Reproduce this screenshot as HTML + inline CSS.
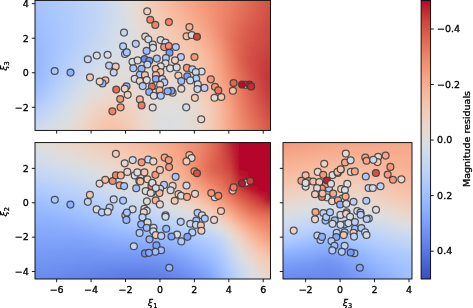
<!DOCTYPE html>
<html><head><meta charset="utf-8"><title>Magnitude residuals</title>
<style>html,body{margin:0;padding:0;background:#fff;width:473px;height:308px;overflow:hidden}svg{display:block}</style>
</head><body>
<svg width="473" height="308" viewBox="0 0 473 308" font-family="DejaVu Sans, Liberation Sans, sans-serif" font-size="9.50" fill="#000"><style>text{stroke:#000;stroke-width:0.30px}</style><defs><linearGradient id="g1" x1="0" x2="1" y1="0" y2="0"><stop offset="0.000" stop-color="#9fbfff"/><stop offset="0.041" stop-color="#a5c3fe"/><stop offset="0.081" stop-color="#aac7fd"/><stop offset="0.122" stop-color="#aec9fc"/><stop offset="0.163" stop-color="#b2ccfb"/><stop offset="0.204" stop-color="#b7cff9"/><stop offset="0.244" stop-color="#bcd2f7"/><stop offset="0.285" stop-color="#c4d5f3"/><stop offset="0.326" stop-color="#ccd9ed"/><stop offset="0.367" stop-color="#d6dce4"/><stop offset="0.407" stop-color="#e0dbd8"/><stop offset="0.448" stop-color="#ebd3c6"/><stop offset="0.489" stop-color="#f2cab5"/><stop offset="0.530" stop-color="#f6bfa6"/><stop offset="0.570" stop-color="#f7b599"/><stop offset="0.611" stop-color="#f7aa8c"/><stop offset="0.652" stop-color="#f59f80"/><stop offset="0.692" stop-color="#f39778"/><stop offset="0.733" stop-color="#f18d6f"/><stop offset="0.774" stop-color="#ee8468"/><stop offset="0.815" stop-color="#ea7b60"/><stop offset="0.855" stop-color="#e57058"/><stop offset="0.896" stop-color="#e0654f"/><stop offset="0.937" stop-color="#d95847"/><stop offset="0.978" stop-color="#d24b40"/><stop offset="1.000" stop-color="#cf453c"/></linearGradient><linearGradient id="g2" x1="0" x2="1" y1="0" y2="0"><stop offset="0.000" stop-color="#9fbfff"/><stop offset="0.041" stop-color="#a5c3fe"/><stop offset="0.081" stop-color="#a9c6fd"/><stop offset="0.122" stop-color="#adc9fd"/><stop offset="0.163" stop-color="#b1cbfc"/><stop offset="0.204" stop-color="#b6cefa"/><stop offset="0.244" stop-color="#bcd2f7"/><stop offset="0.285" stop-color="#c3d5f4"/><stop offset="0.326" stop-color="#cbd8ee"/><stop offset="0.367" stop-color="#d5dbe5"/><stop offset="0.407" stop-color="#dfdbd9"/><stop offset="0.448" stop-color="#ead4c8"/><stop offset="0.489" stop-color="#f2cab5"/><stop offset="0.530" stop-color="#f5c0a7"/><stop offset="0.570" stop-color="#f7b599"/><stop offset="0.611" stop-color="#f7aa8c"/><stop offset="0.652" stop-color="#f5a081"/><stop offset="0.692" stop-color="#f39778"/><stop offset="0.733" stop-color="#f18f71"/><stop offset="0.774" stop-color="#ee8468"/><stop offset="0.815" stop-color="#ea7b60"/><stop offset="0.855" stop-color="#e57058"/><stop offset="0.896" stop-color="#df634e"/><stop offset="0.937" stop-color="#d95847"/><stop offset="0.978" stop-color="#d24b40"/><stop offset="1.000" stop-color="#cf453c"/></linearGradient><linearGradient id="g3" x1="0" x2="1" y1="0" y2="0"><stop offset="0.000" stop-color="#9ebeff"/><stop offset="0.041" stop-color="#a3c2fe"/><stop offset="0.081" stop-color="#a7c5fe"/><stop offset="0.122" stop-color="#adc9fd"/><stop offset="0.163" stop-color="#b1cbfc"/><stop offset="0.204" stop-color="#b6cefa"/><stop offset="0.244" stop-color="#bbd1f8"/><stop offset="0.285" stop-color="#c3d5f4"/><stop offset="0.326" stop-color="#cbd8ee"/><stop offset="0.367" stop-color="#d5dbe5"/><stop offset="0.407" stop-color="#dfdbd9"/><stop offset="0.448" stop-color="#ead4c8"/><stop offset="0.489" stop-color="#f2cbb7"/><stop offset="0.530" stop-color="#f5c0a7"/><stop offset="0.570" stop-color="#f7b79b"/><stop offset="0.611" stop-color="#f7ac8e"/><stop offset="0.652" stop-color="#f6a283"/><stop offset="0.692" stop-color="#f4987a"/><stop offset="0.733" stop-color="#f18f71"/><stop offset="0.774" stop-color="#ee8468"/><stop offset="0.815" stop-color="#ea7b60"/><stop offset="0.855" stop-color="#e46e56"/><stop offset="0.896" stop-color="#df634e"/><stop offset="0.937" stop-color="#d85646"/><stop offset="0.978" stop-color="#d1493f"/><stop offset="1.000" stop-color="#cd423b"/></linearGradient><linearGradient id="g4" x1="0" x2="1" y1="0" y2="0"><stop offset="0.000" stop-color="#9ebeff"/><stop offset="0.041" stop-color="#a3c2fe"/><stop offset="0.081" stop-color="#a7c5fe"/><stop offset="0.122" stop-color="#abc8fd"/><stop offset="0.163" stop-color="#afcafc"/><stop offset="0.204" stop-color="#b5cdfa"/><stop offset="0.244" stop-color="#bbd1f8"/><stop offset="0.285" stop-color="#c1d4f4"/><stop offset="0.326" stop-color="#cad8ef"/><stop offset="0.367" stop-color="#d4dbe6"/><stop offset="0.407" stop-color="#dedcdb"/><stop offset="0.448" stop-color="#ead5c9"/><stop offset="0.489" stop-color="#f1ccb8"/><stop offset="0.530" stop-color="#f5c1a9"/><stop offset="0.570" stop-color="#f7b89c"/><stop offset="0.611" stop-color="#f7ad90"/><stop offset="0.652" stop-color="#f6a283"/><stop offset="0.692" stop-color="#f4987a"/><stop offset="0.733" stop-color="#f18f71"/><stop offset="0.774" stop-color="#ee8468"/><stop offset="0.815" stop-color="#e97a5f"/><stop offset="0.855" stop-color="#e46e56"/><stop offset="0.896" stop-color="#de614d"/><stop offset="0.937" stop-color="#d85646"/><stop offset="0.978" stop-color="#d1493f"/><stop offset="1.000" stop-color="#cd423b"/></linearGradient><linearGradient id="g5" x1="0" x2="1" y1="0" y2="0"><stop offset="0.000" stop-color="#9dbdff"/><stop offset="0.041" stop-color="#a2c1ff"/><stop offset="0.081" stop-color="#a6c4fe"/><stop offset="0.122" stop-color="#aac7fd"/><stop offset="0.163" stop-color="#afcafc"/><stop offset="0.204" stop-color="#b5cdfa"/><stop offset="0.244" stop-color="#bbd1f8"/><stop offset="0.285" stop-color="#c1d4f4"/><stop offset="0.326" stop-color="#cad8ef"/><stop offset="0.367" stop-color="#d4dbe6"/><stop offset="0.407" stop-color="#dedcdb"/><stop offset="0.448" stop-color="#e9d5cb"/><stop offset="0.489" stop-color="#f1cdba"/><stop offset="0.530" stop-color="#f5c2aa"/><stop offset="0.570" stop-color="#f7b99e"/><stop offset="0.611" stop-color="#f7af91"/><stop offset="0.652" stop-color="#f6a586"/><stop offset="0.692" stop-color="#f49a7b"/><stop offset="0.733" stop-color="#f29072"/><stop offset="0.774" stop-color="#ee8468"/><stop offset="0.815" stop-color="#e97a5f"/><stop offset="0.855" stop-color="#e36c55"/><stop offset="0.896" stop-color="#de614d"/><stop offset="0.937" stop-color="#d75445"/><stop offset="0.978" stop-color="#d0473d"/><stop offset="1.000" stop-color="#cc403a"/></linearGradient><linearGradient id="g6" x1="0" x2="1" y1="0" y2="0"><stop offset="0.000" stop-color="#9bbcff"/><stop offset="0.041" stop-color="#a1c0ff"/><stop offset="0.081" stop-color="#a6c4fe"/><stop offset="0.122" stop-color="#aac7fd"/><stop offset="0.163" stop-color="#aec9fc"/><stop offset="0.204" stop-color="#b3cdfb"/><stop offset="0.244" stop-color="#bad0f8"/><stop offset="0.285" stop-color="#c1d4f4"/><stop offset="0.326" stop-color="#cad8ef"/><stop offset="0.367" stop-color="#d4dbe6"/><stop offset="0.407" stop-color="#dddcdc"/><stop offset="0.448" stop-color="#e8d6cc"/><stop offset="0.489" stop-color="#f0cdbb"/><stop offset="0.530" stop-color="#f4c5ad"/><stop offset="0.570" stop-color="#f7ba9f"/><stop offset="0.611" stop-color="#f7b093"/><stop offset="0.652" stop-color="#f7a688"/><stop offset="0.692" stop-color="#f59c7d"/><stop offset="0.733" stop-color="#f29072"/><stop offset="0.774" stop-color="#ee8468"/><stop offset="0.815" stop-color="#e9785d"/><stop offset="0.855" stop-color="#e36b54"/><stop offset="0.896" stop-color="#dd5f4b"/><stop offset="0.937" stop-color="#d65244"/><stop offset="0.978" stop-color="#d0473d"/><stop offset="1.000" stop-color="#cc403a"/></linearGradient><linearGradient id="g7" x1="0" x2="1" y1="0" y2="0"><stop offset="0.000" stop-color="#9abbff"/><stop offset="0.041" stop-color="#9fbfff"/><stop offset="0.081" stop-color="#a5c3fe"/><stop offset="0.122" stop-color="#a9c6fd"/><stop offset="0.163" stop-color="#aec9fc"/><stop offset="0.204" stop-color="#b3cdfb"/><stop offset="0.244" stop-color="#bad0f8"/><stop offset="0.285" stop-color="#c1d4f4"/><stop offset="0.326" stop-color="#cad8ef"/><stop offset="0.367" stop-color="#d3dbe7"/><stop offset="0.407" stop-color="#dddcdc"/><stop offset="0.448" stop-color="#e8d6cc"/><stop offset="0.489" stop-color="#efcebd"/><stop offset="0.530" stop-color="#f4c6af"/><stop offset="0.570" stop-color="#f6bda2"/><stop offset="0.611" stop-color="#f7b396"/><stop offset="0.652" stop-color="#f7a889"/><stop offset="0.692" stop-color="#f59d7e"/><stop offset="0.733" stop-color="#f29274"/><stop offset="0.774" stop-color="#ee8468"/><stop offset="0.815" stop-color="#e9785d"/><stop offset="0.855" stop-color="#e26952"/><stop offset="0.896" stop-color="#dc5d4a"/><stop offset="0.937" stop-color="#d65244"/><stop offset="0.978" stop-color="#cf453c"/><stop offset="1.000" stop-color="#cb3e38"/></linearGradient><linearGradient id="g8" x1="0" x2="1" y1="0" y2="0"><stop offset="0.000" stop-color="#9abbff"/><stop offset="0.041" stop-color="#9fbfff"/><stop offset="0.081" stop-color="#a3c2fe"/><stop offset="0.122" stop-color="#a9c6fd"/><stop offset="0.163" stop-color="#aec9fc"/><stop offset="0.204" stop-color="#b3cdfb"/><stop offset="0.244" stop-color="#bad0f8"/><stop offset="0.285" stop-color="#c1d4f4"/><stop offset="0.326" stop-color="#cad8ef"/><stop offset="0.367" stop-color="#d3dbe7"/><stop offset="0.407" stop-color="#dddcdc"/><stop offset="0.448" stop-color="#e7d7ce"/><stop offset="0.489" stop-color="#efcfbf"/><stop offset="0.530" stop-color="#f3c7b1"/><stop offset="0.570" stop-color="#f6bea4"/><stop offset="0.611" stop-color="#f7b497"/><stop offset="0.652" stop-color="#f7aa8c"/><stop offset="0.692" stop-color="#f59f80"/><stop offset="0.733" stop-color="#f29274"/><stop offset="0.774" stop-color="#ee8468"/><stop offset="0.815" stop-color="#e8765c"/><stop offset="0.855" stop-color="#e26952"/><stop offset="0.896" stop-color="#da5a49"/><stop offset="0.937" stop-color="#d55042"/><stop offset="0.978" stop-color="#cf453c"/><stop offset="1.000" stop-color="#cb3e38"/></linearGradient><linearGradient id="g9" x1="0" x2="1" y1="0" y2="0"><stop offset="0.000" stop-color="#98b9ff"/><stop offset="0.041" stop-color="#9ebeff"/><stop offset="0.081" stop-color="#a3c2fe"/><stop offset="0.122" stop-color="#a7c5fe"/><stop offset="0.163" stop-color="#adc9fd"/><stop offset="0.204" stop-color="#b3cdfb"/><stop offset="0.244" stop-color="#bad0f8"/><stop offset="0.285" stop-color="#c1d4f4"/><stop offset="0.326" stop-color="#cad8ef"/><stop offset="0.367" stop-color="#d3dbe7"/><stop offset="0.407" stop-color="#dcdddd"/><stop offset="0.448" stop-color="#e6d7cf"/><stop offset="0.489" stop-color="#eed0c0"/><stop offset="0.530" stop-color="#f2c9b4"/><stop offset="0.570" stop-color="#f5c0a7"/><stop offset="0.611" stop-color="#f7b79b"/><stop offset="0.652" stop-color="#f7ac8e"/><stop offset="0.692" stop-color="#f6a283"/><stop offset="0.733" stop-color="#f39475"/><stop offset="0.774" stop-color="#ee8468"/><stop offset="0.815" stop-color="#e7745b"/><stop offset="0.855" stop-color="#e16751"/><stop offset="0.896" stop-color="#da5a49"/><stop offset="0.937" stop-color="#d44e41"/><stop offset="0.978" stop-color="#cd423b"/><stop offset="1.000" stop-color="#ca3b37"/></linearGradient><linearGradient id="g10" x1="0" x2="1" y1="0" y2="0"><stop offset="0.000" stop-color="#97b8ff"/><stop offset="0.041" stop-color="#9dbdff"/><stop offset="0.081" stop-color="#a2c1ff"/><stop offset="0.122" stop-color="#a7c5fe"/><stop offset="0.163" stop-color="#adc9fd"/><stop offset="0.204" stop-color="#b3cdfb"/><stop offset="0.244" stop-color="#bad0f8"/><stop offset="0.285" stop-color="#c3d5f4"/><stop offset="0.326" stop-color="#cad8ef"/><stop offset="0.367" stop-color="#d3dbe7"/><stop offset="0.407" stop-color="#dcdddd"/><stop offset="0.448" stop-color="#e5d8d1"/><stop offset="0.489" stop-color="#edd2c3"/><stop offset="0.530" stop-color="#f2cab5"/><stop offset="0.570" stop-color="#f5c1a9"/><stop offset="0.611" stop-color="#f7b99e"/><stop offset="0.652" stop-color="#f7af91"/><stop offset="0.692" stop-color="#f6a385"/><stop offset="0.733" stop-color="#f39577"/><stop offset="0.774" stop-color="#ee8468"/><stop offset="0.815" stop-color="#e7745b"/><stop offset="0.855" stop-color="#e0654f"/><stop offset="0.896" stop-color="#d95847"/><stop offset="0.937" stop-color="#d44e41"/><stop offset="0.978" stop-color="#cd423b"/><stop offset="1.000" stop-color="#ca3b37"/></linearGradient><linearGradient id="g11" x1="0" x2="1" y1="0" y2="0"><stop offset="0.000" stop-color="#96b7ff"/><stop offset="0.041" stop-color="#9bbcff"/><stop offset="0.081" stop-color="#a1c0ff"/><stop offset="0.122" stop-color="#a6c4fe"/><stop offset="0.163" stop-color="#adc9fd"/><stop offset="0.204" stop-color="#b3cdfb"/><stop offset="0.244" stop-color="#bad0f8"/><stop offset="0.285" stop-color="#c3d5f4"/><stop offset="0.326" stop-color="#cbd8ee"/><stop offset="0.367" stop-color="#d3dbe7"/><stop offset="0.407" stop-color="#dcdddd"/><stop offset="0.448" stop-color="#e5d8d1"/><stop offset="0.489" stop-color="#ecd3c5"/><stop offset="0.530" stop-color="#f1ccb8"/><stop offset="0.570" stop-color="#f5c4ac"/><stop offset="0.611" stop-color="#f7ba9f"/><stop offset="0.652" stop-color="#f7b194"/><stop offset="0.692" stop-color="#f7a688"/><stop offset="0.733" stop-color="#f39778"/><stop offset="0.774" stop-color="#ee8669"/><stop offset="0.815" stop-color="#e67259"/><stop offset="0.855" stop-color="#df634e"/><stop offset="0.896" stop-color="#d85646"/><stop offset="0.937" stop-color="#d24b40"/><stop offset="0.978" stop-color="#cc403a"/><stop offset="1.000" stop-color="#ca3b37"/></linearGradient><linearGradient id="g12" x1="0" x2="1" y1="0" y2="0"><stop offset="0.000" stop-color="#94b6ff"/><stop offset="0.041" stop-color="#9bbcff"/><stop offset="0.081" stop-color="#a1c0ff"/><stop offset="0.122" stop-color="#a6c4fe"/><stop offset="0.163" stop-color="#adc9fd"/><stop offset="0.204" stop-color="#b3cdfb"/><stop offset="0.244" stop-color="#bbd1f8"/><stop offset="0.285" stop-color="#c3d5f4"/><stop offset="0.326" stop-color="#cbd8ee"/><stop offset="0.367" stop-color="#d3dbe7"/><stop offset="0.407" stop-color="#dbdcde"/><stop offset="0.448" stop-color="#e4d9d2"/><stop offset="0.489" stop-color="#ebd3c6"/><stop offset="0.530" stop-color="#f1cdba"/><stop offset="0.570" stop-color="#f4c6af"/><stop offset="0.611" stop-color="#f6bda2"/><stop offset="0.652" stop-color="#f7b497"/><stop offset="0.692" stop-color="#f7a889"/><stop offset="0.733" stop-color="#f4987a"/><stop offset="0.774" stop-color="#ee8669"/><stop offset="0.815" stop-color="#e67259"/><stop offset="0.855" stop-color="#de614d"/><stop offset="0.896" stop-color="#d75445"/><stop offset="0.937" stop-color="#d1493f"/><stop offset="0.978" stop-color="#cc403a"/><stop offset="1.000" stop-color="#c83836"/></linearGradient><linearGradient id="g13" x1="0" x2="1" y1="0" y2="0"><stop offset="0.000" stop-color="#94b6ff"/><stop offset="0.041" stop-color="#9abbff"/><stop offset="0.081" stop-color="#a1c0ff"/><stop offset="0.122" stop-color="#a6c4fe"/><stop offset="0.163" stop-color="#adc9fd"/><stop offset="0.204" stop-color="#b3cdfb"/><stop offset="0.244" stop-color="#bbd1f8"/><stop offset="0.285" stop-color="#c4d5f3"/><stop offset="0.326" stop-color="#cbd8ee"/><stop offset="0.367" stop-color="#d3dbe7"/><stop offset="0.407" stop-color="#dbdcde"/><stop offset="0.448" stop-color="#e3d9d3"/><stop offset="0.489" stop-color="#ead4c8"/><stop offset="0.530" stop-color="#f0cdbb"/><stop offset="0.570" stop-color="#f3c7b1"/><stop offset="0.611" stop-color="#f6bfa6"/><stop offset="0.652" stop-color="#f7b79b"/><stop offset="0.692" stop-color="#f7aa8c"/><stop offset="0.733" stop-color="#f59c7d"/><stop offset="0.774" stop-color="#ef886b"/><stop offset="0.815" stop-color="#e67259"/><stop offset="0.855" stop-color="#de614d"/><stop offset="0.896" stop-color="#d65244"/><stop offset="0.937" stop-color="#d1493f"/><stop offset="0.978" stop-color="#cb3e38"/><stop offset="1.000" stop-color="#c83836"/></linearGradient><linearGradient id="g14" x1="0" x2="1" y1="0" y2="0"><stop offset="0.000" stop-color="#93b5fe"/><stop offset="0.041" stop-color="#9abbff"/><stop offset="0.081" stop-color="#9fbfff"/><stop offset="0.122" stop-color="#a6c4fe"/><stop offset="0.163" stop-color="#adc9fd"/><stop offset="0.204" stop-color="#b3cdfb"/><stop offset="0.244" stop-color="#bcd2f7"/><stop offset="0.285" stop-color="#c4d5f3"/><stop offset="0.326" stop-color="#ccd9ed"/><stop offset="0.367" stop-color="#d4dbe6"/><stop offset="0.407" stop-color="#dbdcde"/><stop offset="0.448" stop-color="#e3d9d3"/><stop offset="0.489" stop-color="#ead5c9"/><stop offset="0.530" stop-color="#efcfbf"/><stop offset="0.570" stop-color="#f2c9b4"/><stop offset="0.611" stop-color="#f5c1a9"/><stop offset="0.652" stop-color="#f7b89c"/><stop offset="0.692" stop-color="#f7ad90"/><stop offset="0.733" stop-color="#f59d7e"/><stop offset="0.774" stop-color="#ef886b"/><stop offset="0.815" stop-color="#e57058"/><stop offset="0.855" stop-color="#dd5f4b"/><stop offset="0.896" stop-color="#d65244"/><stop offset="0.937" stop-color="#d0473d"/><stop offset="0.978" stop-color="#cb3e38"/><stop offset="1.000" stop-color="#c73635"/></linearGradient><linearGradient id="g15" x1="0" x2="1" y1="0" y2="0"><stop offset="0.000" stop-color="#92b4fe"/><stop offset="0.041" stop-color="#98b9ff"/><stop offset="0.081" stop-color="#9fbfff"/><stop offset="0.122" stop-color="#a6c4fe"/><stop offset="0.163" stop-color="#adc9fd"/><stop offset="0.204" stop-color="#b5cdfa"/><stop offset="0.244" stop-color="#bcd2f7"/><stop offset="0.285" stop-color="#c5d6f2"/><stop offset="0.326" stop-color="#ccd9ed"/><stop offset="0.367" stop-color="#d4dbe6"/><stop offset="0.407" stop-color="#dbdcde"/><stop offset="0.448" stop-color="#e2dad5"/><stop offset="0.489" stop-color="#e9d5cb"/><stop offset="0.530" stop-color="#eed0c0"/><stop offset="0.570" stop-color="#f2cbb7"/><stop offset="0.611" stop-color="#f5c4ac"/><stop offset="0.652" stop-color="#f7ba9f"/><stop offset="0.692" stop-color="#f7b093"/><stop offset="0.733" stop-color="#f5a081"/><stop offset="0.774" stop-color="#f08b6e"/><stop offset="0.815" stop-color="#e57058"/><stop offset="0.855" stop-color="#dc5d4a"/><stop offset="0.896" stop-color="#d55042"/><stop offset="0.937" stop-color="#d0473d"/><stop offset="0.978" stop-color="#cb3e38"/><stop offset="1.000" stop-color="#c73635"/></linearGradient><linearGradient id="g16" x1="0" x2="1" y1="0" y2="0"><stop offset="0.000" stop-color="#92b4fe"/><stop offset="0.041" stop-color="#98b9ff"/><stop offset="0.081" stop-color="#9fbfff"/><stop offset="0.122" stop-color="#a6c4fe"/><stop offset="0.163" stop-color="#adc9fd"/><stop offset="0.204" stop-color="#b5cdfa"/><stop offset="0.244" stop-color="#bed2f6"/><stop offset="0.285" stop-color="#c5d6f2"/><stop offset="0.326" stop-color="#cdd9ec"/><stop offset="0.367" stop-color="#d4dbe6"/><stop offset="0.407" stop-color="#dbdcde"/><stop offset="0.448" stop-color="#e2dad5"/><stop offset="0.489" stop-color="#e8d6cc"/><stop offset="0.530" stop-color="#edd1c2"/><stop offset="0.570" stop-color="#f1ccb8"/><stop offset="0.611" stop-color="#f4c6af"/><stop offset="0.652" stop-color="#f6bda2"/><stop offset="0.692" stop-color="#f7b396"/><stop offset="0.733" stop-color="#f6a385"/><stop offset="0.774" stop-color="#f18d6f"/><stop offset="0.815" stop-color="#e67259"/><stop offset="0.855" stop-color="#dc5d4a"/><stop offset="0.896" stop-color="#d44e41"/><stop offset="0.937" stop-color="#cf453c"/><stop offset="0.978" stop-color="#ca3b37"/><stop offset="1.000" stop-color="#c53334"/></linearGradient><linearGradient id="g17" x1="0" x2="1" y1="0" y2="0"><stop offset="0.000" stop-color="#90b2fe"/><stop offset="0.041" stop-color="#97b8ff"/><stop offset="0.081" stop-color="#9ebeff"/><stop offset="0.122" stop-color="#a6c4fe"/><stop offset="0.163" stop-color="#aec9fc"/><stop offset="0.204" stop-color="#b6cefa"/><stop offset="0.244" stop-color="#bfd3f6"/><stop offset="0.285" stop-color="#c6d6f1"/><stop offset="0.326" stop-color="#cdd9ec"/><stop offset="0.367" stop-color="#d5dbe5"/><stop offset="0.407" stop-color="#dbdcde"/><stop offset="0.448" stop-color="#e1dad6"/><stop offset="0.489" stop-color="#e7d7ce"/><stop offset="0.530" stop-color="#ecd3c5"/><stop offset="0.570" stop-color="#f0cdbb"/><stop offset="0.611" stop-color="#f3c7b1"/><stop offset="0.652" stop-color="#f6bfa6"/><stop offset="0.692" stop-color="#f7b599"/><stop offset="0.733" stop-color="#f7a688"/><stop offset="0.774" stop-color="#f18f71"/><stop offset="0.815" stop-color="#e7745b"/><stop offset="0.855" stop-color="#dc5d4a"/><stop offset="0.896" stop-color="#d44e41"/><stop offset="0.937" stop-color="#cf453c"/><stop offset="0.978" stop-color="#ca3b37"/><stop offset="1.000" stop-color="#c53334"/></linearGradient><linearGradient id="g18" x1="0" x2="1" y1="0" y2="0"><stop offset="0.000" stop-color="#90b2fe"/><stop offset="0.041" stop-color="#97b8ff"/><stop offset="0.081" stop-color="#9ebeff"/><stop offset="0.122" stop-color="#a6c4fe"/><stop offset="0.163" stop-color="#aec9fc"/><stop offset="0.204" stop-color="#b7cff9"/><stop offset="0.244" stop-color="#c0d4f5"/><stop offset="0.285" stop-color="#c7d7f0"/><stop offset="0.326" stop-color="#cedaeb"/><stop offset="0.367" stop-color="#d5dbe5"/><stop offset="0.407" stop-color="#dbdcde"/><stop offset="0.448" stop-color="#e1dad6"/><stop offset="0.489" stop-color="#e7d7ce"/><stop offset="0.530" stop-color="#ebd3c6"/><stop offset="0.570" stop-color="#efcebd"/><stop offset="0.611" stop-color="#f2c9b4"/><stop offset="0.652" stop-color="#f5c1a9"/><stop offset="0.692" stop-color="#f7b89c"/><stop offset="0.733" stop-color="#f7a98b"/><stop offset="0.774" stop-color="#f29274"/><stop offset="0.815" stop-color="#e7745b"/><stop offset="0.855" stop-color="#dc5d4a"/><stop offset="0.896" stop-color="#d24b40"/><stop offset="0.937" stop-color="#cd423b"/><stop offset="0.978" stop-color="#c83836"/><stop offset="1.000" stop-color="#c43032"/></linearGradient><linearGradient id="g19" x1="0" x2="1" y1="0" y2="0"><stop offset="0.000" stop-color="#8fb1fe"/><stop offset="0.041" stop-color="#97b8ff"/><stop offset="0.081" stop-color="#9ebeff"/><stop offset="0.122" stop-color="#a7c5fe"/><stop offset="0.163" stop-color="#afcafc"/><stop offset="0.204" stop-color="#b9d0f9"/><stop offset="0.244" stop-color="#c1d4f4"/><stop offset="0.285" stop-color="#c9d7f0"/><stop offset="0.326" stop-color="#cfdaea"/><stop offset="0.367" stop-color="#d6dce4"/><stop offset="0.407" stop-color="#dbdcde"/><stop offset="0.448" stop-color="#e1dad6"/><stop offset="0.489" stop-color="#e6d7cf"/><stop offset="0.530" stop-color="#ead4c8"/><stop offset="0.570" stop-color="#eed0c0"/><stop offset="0.611" stop-color="#f2cbb7"/><stop offset="0.652" stop-color="#f5c4ac"/><stop offset="0.692" stop-color="#f7ba9f"/><stop offset="0.733" stop-color="#f7ac8e"/><stop offset="0.774" stop-color="#f39577"/><stop offset="0.815" stop-color="#e8765c"/><stop offset="0.855" stop-color="#dc5d4a"/><stop offset="0.896" stop-color="#d24b40"/><stop offset="0.937" stop-color="#cd423b"/><stop offset="0.978" stop-color="#c83836"/><stop offset="1.000" stop-color="#c43032"/></linearGradient><linearGradient id="g20" x1="0" x2="1" y1="0" y2="0"><stop offset="0.000" stop-color="#8fb1fe"/><stop offset="0.041" stop-color="#96b7ff"/><stop offset="0.081" stop-color="#9ebeff"/><stop offset="0.122" stop-color="#a7c5fe"/><stop offset="0.163" stop-color="#b1cbfc"/><stop offset="0.204" stop-color="#bad0f8"/><stop offset="0.244" stop-color="#c3d5f4"/><stop offset="0.285" stop-color="#cad8ef"/><stop offset="0.326" stop-color="#d1dae9"/><stop offset="0.367" stop-color="#d7dce3"/><stop offset="0.407" stop-color="#dcdddd"/><stop offset="0.448" stop-color="#e0dbd8"/><stop offset="0.489" stop-color="#e5d8d1"/><stop offset="0.530" stop-color="#ead5c9"/><stop offset="0.570" stop-color="#edd1c2"/><stop offset="0.611" stop-color="#f1ccb8"/><stop offset="0.652" stop-color="#f4c6af"/><stop offset="0.692" stop-color="#f7bca1"/><stop offset="0.733" stop-color="#f7ad90"/><stop offset="0.774" stop-color="#f39778"/><stop offset="0.815" stop-color="#e9785d"/><stop offset="0.855" stop-color="#dc5d4a"/><stop offset="0.896" stop-color="#d24b40"/><stop offset="0.937" stop-color="#cc403a"/><stop offset="0.978" stop-color="#c73635"/><stop offset="1.000" stop-color="#c32e31"/></linearGradient><linearGradient id="g21" x1="0" x2="1" y1="0" y2="0"><stop offset="0.000" stop-color="#8fb1fe"/><stop offset="0.041" stop-color="#96b7ff"/><stop offset="0.081" stop-color="#9fbfff"/><stop offset="0.122" stop-color="#a7c5fe"/><stop offset="0.163" stop-color="#b2ccfb"/><stop offset="0.204" stop-color="#bbd1f8"/><stop offset="0.244" stop-color="#c4d5f3"/><stop offset="0.285" stop-color="#cbd8ee"/><stop offset="0.326" stop-color="#d2dbe8"/><stop offset="0.367" stop-color="#d7dce3"/><stop offset="0.407" stop-color="#dcdddd"/><stop offset="0.448" stop-color="#e0dbd8"/><stop offset="0.489" stop-color="#e5d8d1"/><stop offset="0.530" stop-color="#e9d5cb"/><stop offset="0.570" stop-color="#edd2c3"/><stop offset="0.611" stop-color="#f0cdbb"/><stop offset="0.652" stop-color="#f3c7b1"/><stop offset="0.692" stop-color="#f6bea4"/><stop offset="0.733" stop-color="#f7b093"/><stop offset="0.774" stop-color="#f4987a"/><stop offset="0.815" stop-color="#e97a5f"/><stop offset="0.855" stop-color="#dc5d4a"/><stop offset="0.896" stop-color="#d1493f"/><stop offset="0.937" stop-color="#cb3e38"/><stop offset="0.978" stop-color="#c53334"/><stop offset="1.000" stop-color="#c12b30"/></linearGradient><linearGradient id="g22" x1="0" x2="1" y1="0" y2="0"><stop offset="0.000" stop-color="#8fb1fe"/><stop offset="0.041" stop-color="#96b7ff"/><stop offset="0.081" stop-color="#9fbfff"/><stop offset="0.122" stop-color="#a9c6fd"/><stop offset="0.163" stop-color="#b3cdfb"/><stop offset="0.204" stop-color="#bcd2f7"/><stop offset="0.244" stop-color="#c5d6f2"/><stop offset="0.285" stop-color="#cdd9ec"/><stop offset="0.326" stop-color="#d3dbe7"/><stop offset="0.367" stop-color="#d8dce2"/><stop offset="0.407" stop-color="#dddcdc"/><stop offset="0.448" stop-color="#e0dbd8"/><stop offset="0.489" stop-color="#e4d9d2"/><stop offset="0.530" stop-color="#e8d6cc"/><stop offset="0.570" stop-color="#ebd3c6"/><stop offset="0.611" stop-color="#efcebd"/><stop offset="0.652" stop-color="#f2c9b4"/><stop offset="0.692" stop-color="#f6bfa6"/><stop offset="0.733" stop-color="#f7b194"/><stop offset="0.774" stop-color="#f49a7b"/><stop offset="0.815" stop-color="#ea7b60"/><stop offset="0.855" stop-color="#dc5d4a"/><stop offset="0.896" stop-color="#d1493f"/><stop offset="0.937" stop-color="#cb3e38"/><stop offset="0.978" stop-color="#c43032"/><stop offset="1.000" stop-color="#c0282f"/></linearGradient><linearGradient id="g23" x1="0" x2="1" y1="0" y2="0"><stop offset="0.000" stop-color="#8fb1fe"/><stop offset="0.041" stop-color="#96b7ff"/><stop offset="0.081" stop-color="#9fbfff"/><stop offset="0.122" stop-color="#aac7fd"/><stop offset="0.163" stop-color="#b5cdfa"/><stop offset="0.204" stop-color="#bed2f6"/><stop offset="0.244" stop-color="#c7d7f0"/><stop offset="0.285" stop-color="#cedaeb"/><stop offset="0.326" stop-color="#d5dbe5"/><stop offset="0.367" stop-color="#d9dce1"/><stop offset="0.407" stop-color="#dddcdc"/><stop offset="0.448" stop-color="#e1dad6"/><stop offset="0.489" stop-color="#e4d9d2"/><stop offset="0.530" stop-color="#e7d7ce"/><stop offset="0.570" stop-color="#ead4c8"/><stop offset="0.611" stop-color="#eed0c0"/><stop offset="0.652" stop-color="#f2cab5"/><stop offset="0.692" stop-color="#f5c0a7"/><stop offset="0.733" stop-color="#f7b396"/><stop offset="0.774" stop-color="#f59c7d"/><stop offset="0.815" stop-color="#eb7d62"/><stop offset="0.855" stop-color="#dd5f4b"/><stop offset="0.896" stop-color="#d1493f"/><stop offset="0.937" stop-color="#ca3b37"/><stop offset="0.978" stop-color="#c32e31"/><stop offset="1.000" stop-color="#c0282f"/></linearGradient><linearGradient id="g24" x1="0" x2="1" y1="0" y2="0"><stop offset="0.000" stop-color="#8fb1fe"/><stop offset="0.041" stop-color="#96b7ff"/><stop offset="0.081" stop-color="#a1c0ff"/><stop offset="0.122" stop-color="#abc8fd"/><stop offset="0.163" stop-color="#b6cefa"/><stop offset="0.204" stop-color="#c0d4f5"/><stop offset="0.244" stop-color="#c9d7f0"/><stop offset="0.285" stop-color="#d1dae9"/><stop offset="0.326" stop-color="#d6dce4"/><stop offset="0.367" stop-color="#dadce0"/><stop offset="0.407" stop-color="#dedcdb"/><stop offset="0.448" stop-color="#e1dad6"/><stop offset="0.489" stop-color="#e3d9d3"/><stop offset="0.530" stop-color="#e6d7cf"/><stop offset="0.570" stop-color="#ead5c9"/><stop offset="0.611" stop-color="#edd1c2"/><stop offset="0.652" stop-color="#f1ccb8"/><stop offset="0.692" stop-color="#f5c1a9"/><stop offset="0.733" stop-color="#f7b396"/><stop offset="0.774" stop-color="#f59d7e"/><stop offset="0.815" stop-color="#ec7f63"/><stop offset="0.855" stop-color="#de614d"/><stop offset="0.896" stop-color="#d24b40"/><stop offset="0.937" stop-color="#ca3b37"/><stop offset="0.978" stop-color="#c32e31"/><stop offset="1.000" stop-color="#be242e"/></linearGradient><linearGradient id="g25" x1="0" x2="1" y1="0" y2="0"><stop offset="0.000" stop-color="#8fb1fe"/><stop offset="0.041" stop-color="#97b8ff"/><stop offset="0.081" stop-color="#a1c0ff"/><stop offset="0.122" stop-color="#adc9fd"/><stop offset="0.163" stop-color="#b7cff9"/><stop offset="0.204" stop-color="#c1d4f4"/><stop offset="0.244" stop-color="#cbd8ee"/><stop offset="0.285" stop-color="#d2dbe8"/><stop offset="0.326" stop-color="#d8dce2"/><stop offset="0.367" stop-color="#dcdddd"/><stop offset="0.407" stop-color="#dfdbd9"/><stop offset="0.448" stop-color="#e1dad6"/><stop offset="0.489" stop-color="#e3d9d3"/><stop offset="0.530" stop-color="#e6d7cf"/><stop offset="0.570" stop-color="#e9d5cb"/><stop offset="0.611" stop-color="#edd2c3"/><stop offset="0.652" stop-color="#f1cdba"/><stop offset="0.692" stop-color="#f5c4ac"/><stop offset="0.733" stop-color="#f7b497"/><stop offset="0.774" stop-color="#f59f80"/><stop offset="0.815" stop-color="#ec8165"/><stop offset="0.855" stop-color="#df634e"/><stop offset="0.896" stop-color="#d24b40"/><stop offset="0.937" stop-color="#ca3b37"/><stop offset="0.978" stop-color="#c12b30"/><stop offset="1.000" stop-color="#bd1f2d"/></linearGradient><linearGradient id="g26" x1="0" x2="1" y1="0" y2="0"><stop offset="0.000" stop-color="#8fb1fe"/><stop offset="0.041" stop-color="#97b8ff"/><stop offset="0.081" stop-color="#a2c1ff"/><stop offset="0.122" stop-color="#aec9fc"/><stop offset="0.163" stop-color="#bad0f8"/><stop offset="0.204" stop-color="#c4d5f3"/><stop offset="0.244" stop-color="#cdd9ec"/><stop offset="0.285" stop-color="#d4dbe6"/><stop offset="0.326" stop-color="#d9dce1"/><stop offset="0.367" stop-color="#dddcdc"/><stop offset="0.407" stop-color="#dfdbd9"/><stop offset="0.448" stop-color="#e1dad6"/><stop offset="0.489" stop-color="#e3d9d3"/><stop offset="0.530" stop-color="#e5d8d1"/><stop offset="0.570" stop-color="#e8d6cc"/><stop offset="0.611" stop-color="#ebd3c6"/><stop offset="0.652" stop-color="#f0cdbb"/><stop offset="0.692" stop-color="#f4c5ad"/><stop offset="0.733" stop-color="#f7b599"/><stop offset="0.774" stop-color="#f59f80"/><stop offset="0.815" stop-color="#ed8366"/><stop offset="0.855" stop-color="#e16751"/><stop offset="0.896" stop-color="#d44e41"/><stop offset="0.937" stop-color="#ca3b37"/><stop offset="0.978" stop-color="#c12b30"/><stop offset="1.000" stop-color="#bd1f2d"/></linearGradient><linearGradient id="g27" x1="0" x2="1" y1="0" y2="0"><stop offset="0.000" stop-color="#8fb1fe"/><stop offset="0.041" stop-color="#97b8ff"/><stop offset="0.081" stop-color="#a3c2fe"/><stop offset="0.122" stop-color="#afcafc"/><stop offset="0.163" stop-color="#bbd1f8"/><stop offset="0.204" stop-color="#c6d6f1"/><stop offset="0.244" stop-color="#cedaeb"/><stop offset="0.285" stop-color="#d6dce4"/><stop offset="0.326" stop-color="#dbdcde"/><stop offset="0.367" stop-color="#dedcdb"/><stop offset="0.407" stop-color="#e0dbd8"/><stop offset="0.448" stop-color="#e2dad5"/><stop offset="0.489" stop-color="#e3d9d3"/><stop offset="0.530" stop-color="#e4d9d2"/><stop offset="0.570" stop-color="#e7d7ce"/><stop offset="0.611" stop-color="#ead4c8"/><stop offset="0.652" stop-color="#efcebd"/><stop offset="0.692" stop-color="#f4c6af"/><stop offset="0.733" stop-color="#f7b79b"/><stop offset="0.774" stop-color="#f6a283"/><stop offset="0.815" stop-color="#ee8669"/><stop offset="0.855" stop-color="#e26952"/><stop offset="0.896" stop-color="#d55042"/><stop offset="0.937" stop-color="#ca3b37"/><stop offset="0.978" stop-color="#c0282f"/><stop offset="1.000" stop-color="#bb1b2c"/></linearGradient><linearGradient id="g28" x1="0" x2="1" y1="0" y2="0"><stop offset="0.000" stop-color="#90b2fe"/><stop offset="0.041" stop-color="#98b9ff"/><stop offset="0.081" stop-color="#a5c3fe"/><stop offset="0.122" stop-color="#b1cbfc"/><stop offset="0.163" stop-color="#bed2f6"/><stop offset="0.204" stop-color="#c9d7f0"/><stop offset="0.244" stop-color="#d1dae9"/><stop offset="0.285" stop-color="#d8dce2"/><stop offset="0.326" stop-color="#dddcdc"/><stop offset="0.367" stop-color="#e0dbd8"/><stop offset="0.407" stop-color="#e1dad6"/><stop offset="0.448" stop-color="#e2dad5"/><stop offset="0.489" stop-color="#e3d9d3"/><stop offset="0.530" stop-color="#e4d9d2"/><stop offset="0.570" stop-color="#e6d7cf"/><stop offset="0.611" stop-color="#ead5c9"/><stop offset="0.652" stop-color="#eed0c0"/><stop offset="0.692" stop-color="#f3c7b1"/><stop offset="0.733" stop-color="#f7b89c"/><stop offset="0.774" stop-color="#f6a385"/><stop offset="0.815" stop-color="#ef886b"/><stop offset="0.855" stop-color="#e36b54"/><stop offset="0.896" stop-color="#d65244"/><stop offset="0.937" stop-color="#ca3b37"/><stop offset="0.978" stop-color="#c0282f"/><stop offset="1.000" stop-color="#bb1b2c"/></linearGradient><linearGradient id="g29" x1="0" x2="1" y1="0" y2="0"><stop offset="0.000" stop-color="#92b4fe"/><stop offset="0.041" stop-color="#9abbff"/><stop offset="0.081" stop-color="#a6c4fe"/><stop offset="0.122" stop-color="#b3cdfb"/><stop offset="0.163" stop-color="#bfd3f6"/><stop offset="0.204" stop-color="#cbd8ee"/><stop offset="0.244" stop-color="#d4dbe6"/><stop offset="0.285" stop-color="#dadce0"/><stop offset="0.326" stop-color="#dfdbd9"/><stop offset="0.367" stop-color="#e1dad6"/><stop offset="0.407" stop-color="#e3d9d3"/><stop offset="0.448" stop-color="#e3d9d3"/><stop offset="0.489" stop-color="#e2dad5"/><stop offset="0.530" stop-color="#e3d9d3"/><stop offset="0.570" stop-color="#e5d8d1"/><stop offset="0.611" stop-color="#e9d5cb"/><stop offset="0.652" stop-color="#edd1c2"/><stop offset="0.692" stop-color="#f3c8b2"/><stop offset="0.733" stop-color="#f7b99e"/><stop offset="0.774" stop-color="#f6a586"/><stop offset="0.815" stop-color="#f08a6c"/><stop offset="0.855" stop-color="#e46e56"/><stop offset="0.896" stop-color="#d75445"/><stop offset="0.937" stop-color="#cb3e38"/><stop offset="0.978" stop-color="#c12b30"/><stop offset="1.000" stop-color="#bb1b2c"/></linearGradient><linearGradient id="g30" x1="0" x2="1" y1="0" y2="0"><stop offset="0.000" stop-color="#92b4fe"/><stop offset="0.041" stop-color="#9bbcff"/><stop offset="0.081" stop-color="#a7c5fe"/><stop offset="0.122" stop-color="#b5cdfa"/><stop offset="0.163" stop-color="#c1d4f4"/><stop offset="0.204" stop-color="#cdd9ec"/><stop offset="0.244" stop-color="#d6dce4"/><stop offset="0.285" stop-color="#dcdddd"/><stop offset="0.326" stop-color="#e1dad6"/><stop offset="0.367" stop-color="#e3d9d3"/><stop offset="0.407" stop-color="#e4d9d2"/><stop offset="0.448" stop-color="#e3d9d3"/><stop offset="0.489" stop-color="#e2dad5"/><stop offset="0.530" stop-color="#e2dad5"/><stop offset="0.570" stop-color="#e4d9d2"/><stop offset="0.611" stop-color="#e7d7ce"/><stop offset="0.652" stop-color="#edd2c3"/><stop offset="0.692" stop-color="#f2cab5"/><stop offset="0.733" stop-color="#f7bca1"/><stop offset="0.774" stop-color="#f7a688"/><stop offset="0.815" stop-color="#f18d6f"/><stop offset="0.855" stop-color="#e57058"/><stop offset="0.896" stop-color="#d85646"/><stop offset="0.937" stop-color="#cc403a"/><stop offset="0.978" stop-color="#c12b30"/><stop offset="1.000" stop-color="#bd1f2d"/></linearGradient><linearGradient id="g31" x1="0" x2="1" y1="0" y2="0"><stop offset="0.000" stop-color="#94b6ff"/><stop offset="0.041" stop-color="#9dbdff"/><stop offset="0.081" stop-color="#aac7fd"/><stop offset="0.122" stop-color="#b7cff9"/><stop offset="0.163" stop-color="#c4d5f3"/><stop offset="0.204" stop-color="#cfdaea"/><stop offset="0.244" stop-color="#d8dce2"/><stop offset="0.285" stop-color="#dedcdb"/><stop offset="0.326" stop-color="#e3d9d3"/><stop offset="0.367" stop-color="#e5d8d1"/><stop offset="0.407" stop-color="#e5d8d1"/><stop offset="0.448" stop-color="#e4d9d2"/><stop offset="0.489" stop-color="#e2dad5"/><stop offset="0.530" stop-color="#e2dad5"/><stop offset="0.570" stop-color="#e3d9d3"/><stop offset="0.611" stop-color="#e6d7cf"/><stop offset="0.652" stop-color="#ebd3c6"/><stop offset="0.692" stop-color="#f2cbb7"/><stop offset="0.733" stop-color="#f6bda2"/><stop offset="0.774" stop-color="#f7a98b"/><stop offset="0.815" stop-color="#f18f71"/><stop offset="0.855" stop-color="#e67259"/><stop offset="0.896" stop-color="#d95847"/><stop offset="0.937" stop-color="#cc403a"/><stop offset="0.978" stop-color="#c32e31"/><stop offset="1.000" stop-color="#bd1f2d"/></linearGradient><linearGradient id="g32" x1="0" x2="1" y1="0" y2="0"><stop offset="0.000" stop-color="#96b7ff"/><stop offset="0.041" stop-color="#9fbfff"/><stop offset="0.081" stop-color="#adc9fd"/><stop offset="0.122" stop-color="#bad0f8"/><stop offset="0.163" stop-color="#c6d6f1"/><stop offset="0.204" stop-color="#d2dbe8"/><stop offset="0.244" stop-color="#dadce0"/><stop offset="0.285" stop-color="#e1dad6"/><stop offset="0.326" stop-color="#e5d8d1"/><stop offset="0.367" stop-color="#e7d7ce"/><stop offset="0.407" stop-color="#e6d7cf"/><stop offset="0.448" stop-color="#e5d8d1"/><stop offset="0.489" stop-color="#e2dad5"/><stop offset="0.530" stop-color="#e1dad6"/><stop offset="0.570" stop-color="#e2dad5"/><stop offset="0.611" stop-color="#e5d8d1"/><stop offset="0.652" stop-color="#ead4c8"/><stop offset="0.692" stop-color="#f1cdba"/><stop offset="0.733" stop-color="#f6bfa6"/><stop offset="0.774" stop-color="#f7aa8c"/><stop offset="0.815" stop-color="#f29274"/><stop offset="0.855" stop-color="#e8765c"/><stop offset="0.896" stop-color="#da5a49"/><stop offset="0.937" stop-color="#cd423b"/><stop offset="0.978" stop-color="#c32e31"/><stop offset="1.000" stop-color="#be242e"/></linearGradient><linearGradient id="g33" x1="0" x2="1" y1="0" y2="0"><stop offset="0.000" stop-color="#98b9ff"/><stop offset="0.041" stop-color="#a2c1ff"/><stop offset="0.081" stop-color="#afcafc"/><stop offset="0.122" stop-color="#bcd2f7"/><stop offset="0.163" stop-color="#cad8ef"/><stop offset="0.204" stop-color="#d4dbe6"/><stop offset="0.244" stop-color="#dcdddd"/><stop offset="0.285" stop-color="#e3d9d3"/><stop offset="0.326" stop-color="#e7d7ce"/><stop offset="0.367" stop-color="#e9d5cb"/><stop offset="0.407" stop-color="#e8d6cc"/><stop offset="0.448" stop-color="#e5d8d1"/><stop offset="0.489" stop-color="#e3d9d3"/><stop offset="0.530" stop-color="#e1dad6"/><stop offset="0.570" stop-color="#e1dad6"/><stop offset="0.611" stop-color="#e4d9d2"/><stop offset="0.652" stop-color="#e9d5cb"/><stop offset="0.692" stop-color="#f0cdbb"/><stop offset="0.733" stop-color="#f5c1a9"/><stop offset="0.774" stop-color="#f7ad90"/><stop offset="0.815" stop-color="#f39475"/><stop offset="0.855" stop-color="#e9785d"/><stop offset="0.896" stop-color="#dc5d4a"/><stop offset="0.937" stop-color="#cf453c"/><stop offset="0.978" stop-color="#c43032"/><stop offset="1.000" stop-color="#be242e"/></linearGradient><linearGradient id="g34" x1="0" x2="1" y1="0" y2="0"><stop offset="0.000" stop-color="#9dbdff"/><stop offset="0.041" stop-color="#a5c3fe"/><stop offset="0.081" stop-color="#b2ccfb"/><stop offset="0.122" stop-color="#bfd3f6"/><stop offset="0.163" stop-color="#ccd9ed"/><stop offset="0.204" stop-color="#d6dce4"/><stop offset="0.244" stop-color="#dfdbd9"/><stop offset="0.285" stop-color="#e5d8d1"/><stop offset="0.326" stop-color="#ead5c9"/><stop offset="0.367" stop-color="#ead4c8"/><stop offset="0.407" stop-color="#e9d5cb"/><stop offset="0.448" stop-color="#e6d7cf"/><stop offset="0.489" stop-color="#e3d9d3"/><stop offset="0.530" stop-color="#e0dbd8"/><stop offset="0.570" stop-color="#e0dbd8"/><stop offset="0.611" stop-color="#e3d9d3"/><stop offset="0.652" stop-color="#e8d6cc"/><stop offset="0.692" stop-color="#efcfbf"/><stop offset="0.733" stop-color="#f5c2aa"/><stop offset="0.774" stop-color="#f7b093"/><stop offset="0.815" stop-color="#f39577"/><stop offset="0.855" stop-color="#e97a5f"/><stop offset="0.896" stop-color="#dd5f4b"/><stop offset="0.937" stop-color="#d0473d"/><stop offset="0.978" stop-color="#c53334"/><stop offset="1.000" stop-color="#c0282f"/></linearGradient><linearGradient id="g35" x1="0" x2="1" y1="0" y2="0"><stop offset="0.000" stop-color="#9fbfff"/><stop offset="0.041" stop-color="#a9c6fd"/><stop offset="0.081" stop-color="#b5cdfa"/><stop offset="0.122" stop-color="#c3d5f4"/><stop offset="0.163" stop-color="#cedaeb"/><stop offset="0.204" stop-color="#d8dce2"/><stop offset="0.244" stop-color="#e1dad6"/><stop offset="0.285" stop-color="#e8d6cc"/><stop offset="0.326" stop-color="#ebd3c6"/><stop offset="0.367" stop-color="#ecd3c5"/><stop offset="0.407" stop-color="#ead4c8"/><stop offset="0.448" stop-color="#e7d7ce"/><stop offset="0.489" stop-color="#e3d9d3"/><stop offset="0.530" stop-color="#e0dbd8"/><stop offset="0.570" stop-color="#dfdbd9"/><stop offset="0.611" stop-color="#e2dad5"/><stop offset="0.652" stop-color="#e7d7ce"/><stop offset="0.692" stop-color="#edd1c2"/><stop offset="0.733" stop-color="#f4c5ad"/><stop offset="0.774" stop-color="#f7b194"/><stop offset="0.815" stop-color="#f4987a"/><stop offset="0.855" stop-color="#ea7b60"/><stop offset="0.896" stop-color="#de614d"/><stop offset="0.937" stop-color="#d1493f"/><stop offset="0.978" stop-color="#c73635"/><stop offset="1.000" stop-color="#c12b30"/></linearGradient><linearGradient id="g36" x1="0" x2="1" y1="0" y2="0"><stop offset="0.000" stop-color="#a3c2fe"/><stop offset="0.041" stop-color="#adc9fd"/><stop offset="0.081" stop-color="#b9d0f9"/><stop offset="0.122" stop-color="#c5d6f2"/><stop offset="0.163" stop-color="#d1dae9"/><stop offset="0.204" stop-color="#dbdcde"/><stop offset="0.244" stop-color="#e3d9d3"/><stop offset="0.285" stop-color="#ead5c9"/><stop offset="0.326" stop-color="#edd2c3"/><stop offset="0.367" stop-color="#edd1c2"/><stop offset="0.407" stop-color="#ebd3c6"/><stop offset="0.448" stop-color="#e8d6cc"/><stop offset="0.489" stop-color="#e3d9d3"/><stop offset="0.530" stop-color="#dfdbd9"/><stop offset="0.570" stop-color="#dfdbd9"/><stop offset="0.611" stop-color="#e1dad6"/><stop offset="0.652" stop-color="#e5d8d1"/><stop offset="0.692" stop-color="#edd2c3"/><stop offset="0.733" stop-color="#f3c7b1"/><stop offset="0.774" stop-color="#f7b396"/><stop offset="0.815" stop-color="#f49a7b"/><stop offset="0.855" stop-color="#eb7d62"/><stop offset="0.896" stop-color="#df634e"/><stop offset="0.937" stop-color="#d24b40"/><stop offset="0.978" stop-color="#c83836"/><stop offset="1.000" stop-color="#c32e31"/></linearGradient><linearGradient id="g37" x1="0" x2="1" y1="0" y2="0"><stop offset="0.000" stop-color="#a7c5fe"/><stop offset="0.041" stop-color="#b1cbfc"/><stop offset="0.081" stop-color="#bbd1f8"/><stop offset="0.122" stop-color="#c7d7f0"/><stop offset="0.163" stop-color="#d3dbe7"/><stop offset="0.204" stop-color="#dddcdc"/><stop offset="0.244" stop-color="#e6d7cf"/><stop offset="0.285" stop-color="#ecd3c5"/><stop offset="0.326" stop-color="#efcfbf"/><stop offset="0.367" stop-color="#efcfbf"/><stop offset="0.407" stop-color="#edd2c3"/><stop offset="0.448" stop-color="#e8d6cc"/><stop offset="0.489" stop-color="#e3d9d3"/><stop offset="0.530" stop-color="#dfdbd9"/><stop offset="0.570" stop-color="#dedcdb"/><stop offset="0.611" stop-color="#e0dbd8"/><stop offset="0.652" stop-color="#e4d9d2"/><stop offset="0.692" stop-color="#ebd3c6"/><stop offset="0.733" stop-color="#f3c8b2"/><stop offset="0.774" stop-color="#f7b599"/><stop offset="0.815" stop-color="#f59c7d"/><stop offset="0.855" stop-color="#ec7f63"/><stop offset="0.896" stop-color="#e0654f"/><stop offset="0.937" stop-color="#d55042"/><stop offset="0.978" stop-color="#ca3b37"/><stop offset="1.000" stop-color="#c43032"/></linearGradient><linearGradient id="g38" x1="0" x2="1" y1="0" y2="0"><stop offset="0.000" stop-color="#abc8fd"/><stop offset="0.041" stop-color="#b5cdfa"/><stop offset="0.081" stop-color="#bfd3f6"/><stop offset="0.122" stop-color="#cad8ef"/><stop offset="0.163" stop-color="#d5dbe5"/><stop offset="0.204" stop-color="#dfdbd9"/><stop offset="0.244" stop-color="#e8d6cc"/><stop offset="0.285" stop-color="#edd1c2"/><stop offset="0.326" stop-color="#f0cdbb"/><stop offset="0.367" stop-color="#f0cdbb"/><stop offset="0.407" stop-color="#edd1c2"/><stop offset="0.448" stop-color="#e9d5cb"/><stop offset="0.489" stop-color="#e3d9d3"/><stop offset="0.530" stop-color="#dedcdb"/><stop offset="0.570" stop-color="#dddcdc"/><stop offset="0.611" stop-color="#dfdbd9"/><stop offset="0.652" stop-color="#e3d9d3"/><stop offset="0.692" stop-color="#ead4c8"/><stop offset="0.733" stop-color="#f2cab5"/><stop offset="0.774" stop-color="#f7b79b"/><stop offset="0.815" stop-color="#f59d7e"/><stop offset="0.855" stop-color="#ec8165"/><stop offset="0.896" stop-color="#e16751"/><stop offset="0.937" stop-color="#d65244"/><stop offset="0.978" stop-color="#cb3e38"/><stop offset="1.000" stop-color="#c53334"/></linearGradient><linearGradient id="g39" x1="0" x2="1" y1="0" y2="0"><stop offset="0.000" stop-color="#afcafc"/><stop offset="0.041" stop-color="#b9d0f9"/><stop offset="0.081" stop-color="#c3d5f4"/><stop offset="0.122" stop-color="#ccd9ed"/><stop offset="0.163" stop-color="#d7dce3"/><stop offset="0.204" stop-color="#e0dbd8"/><stop offset="0.244" stop-color="#ead5c9"/><stop offset="0.285" stop-color="#efcebd"/><stop offset="0.326" stop-color="#f2cbb7"/><stop offset="0.367" stop-color="#f1ccb8"/><stop offset="0.407" stop-color="#efcfbf"/><stop offset="0.448" stop-color="#ead5c9"/><stop offset="0.489" stop-color="#e3d9d3"/><stop offset="0.530" stop-color="#dedcdb"/><stop offset="0.570" stop-color="#dcdddd"/><stop offset="0.611" stop-color="#dedcdb"/><stop offset="0.652" stop-color="#e2dad5"/><stop offset="0.692" stop-color="#ead5c9"/><stop offset="0.733" stop-color="#f2cbb7"/><stop offset="0.774" stop-color="#f7b79b"/><stop offset="0.815" stop-color="#f59f80"/><stop offset="0.855" stop-color="#ed8366"/><stop offset="0.896" stop-color="#e26952"/><stop offset="0.937" stop-color="#d75445"/><stop offset="0.978" stop-color="#cc403a"/><stop offset="1.000" stop-color="#c73635"/></linearGradient><linearGradient id="g40" x1="0" x2="1" y1="0" y2="0"><stop offset="0.000" stop-color="#b3cdfb"/><stop offset="0.041" stop-color="#bcd2f7"/><stop offset="0.081" stop-color="#c5d6f2"/><stop offset="0.122" stop-color="#cfdaea"/><stop offset="0.163" stop-color="#d8dce2"/><stop offset="0.204" stop-color="#e2dad5"/><stop offset="0.244" stop-color="#ebd3c6"/><stop offset="0.285" stop-color="#f1cdba"/><stop offset="0.326" stop-color="#f2c9b4"/><stop offset="0.367" stop-color="#f2cab5"/><stop offset="0.407" stop-color="#efcebd"/><stop offset="0.448" stop-color="#ead4c8"/><stop offset="0.489" stop-color="#e3d9d3"/><stop offset="0.530" stop-color="#dddcdc"/><stop offset="0.570" stop-color="#dcdddd"/><stop offset="0.611" stop-color="#dddcdc"/><stop offset="0.652" stop-color="#e2dad5"/><stop offset="0.692" stop-color="#e9d5cb"/><stop offset="0.733" stop-color="#f2cbb7"/><stop offset="0.774" stop-color="#f7b89c"/><stop offset="0.815" stop-color="#f59f80"/><stop offset="0.855" stop-color="#ee8468"/><stop offset="0.896" stop-color="#e36c55"/><stop offset="0.937" stop-color="#d85646"/><stop offset="0.978" stop-color="#cd423b"/><stop offset="1.000" stop-color="#c83836"/></linearGradient><linearGradient id="g41" x1="0" x2="1" y1="0" y2="0"><stop offset="0.000" stop-color="#b7cff9"/><stop offset="0.041" stop-color="#c0d4f5"/><stop offset="0.081" stop-color="#c9d7f0"/><stop offset="0.122" stop-color="#d2dbe8"/><stop offset="0.163" stop-color="#dadce0"/><stop offset="0.204" stop-color="#e4d9d2"/><stop offset="0.244" stop-color="#edd2c3"/><stop offset="0.285" stop-color="#f2cbb7"/><stop offset="0.326" stop-color="#f4c6af"/><stop offset="0.367" stop-color="#f3c8b2"/><stop offset="0.407" stop-color="#f0cdbb"/><stop offset="0.448" stop-color="#ebd3c6"/><stop offset="0.489" stop-color="#e3d9d3"/><stop offset="0.530" stop-color="#dddcdc"/><stop offset="0.570" stop-color="#dbdcde"/><stop offset="0.611" stop-color="#dddcdc"/><stop offset="0.652" stop-color="#e1dad6"/><stop offset="0.692" stop-color="#e9d5cb"/><stop offset="0.733" stop-color="#f2cbb7"/><stop offset="0.774" stop-color="#f7b89c"/><stop offset="0.815" stop-color="#f5a081"/><stop offset="0.855" stop-color="#ee8669"/><stop offset="0.896" stop-color="#e46e56"/><stop offset="0.937" stop-color="#d95847"/><stop offset="0.978" stop-color="#cf453c"/><stop offset="1.000" stop-color="#ca3b37"/></linearGradient><linearGradient id="g42" x1="0" x2="1" y1="0" y2="0"><stop offset="0.000" stop-color="#bbd1f8"/><stop offset="0.041" stop-color="#c4d5f3"/><stop offset="0.081" stop-color="#ccd9ed"/><stop offset="0.122" stop-color="#d4dbe6"/><stop offset="0.163" stop-color="#dcdddd"/><stop offset="0.204" stop-color="#e5d8d1"/><stop offset="0.244" stop-color="#edd1c2"/><stop offset="0.285" stop-color="#f2c9b4"/><stop offset="0.326" stop-color="#f5c4ac"/><stop offset="0.367" stop-color="#f4c6af"/><stop offset="0.407" stop-color="#f1ccb8"/><stop offset="0.448" stop-color="#ebd3c6"/><stop offset="0.489" stop-color="#e3d9d3"/><stop offset="0.530" stop-color="#dddcdc"/><stop offset="0.570" stop-color="#dbdcde"/><stop offset="0.611" stop-color="#dcdddd"/><stop offset="0.652" stop-color="#e1dad6"/><stop offset="0.692" stop-color="#e9d5cb"/><stop offset="0.733" stop-color="#f2cbb7"/><stop offset="0.774" stop-color="#f7b89c"/><stop offset="0.815" stop-color="#f5a081"/><stop offset="0.855" stop-color="#ef886b"/><stop offset="0.896" stop-color="#e57058"/><stop offset="0.937" stop-color="#dc5d4a"/><stop offset="0.978" stop-color="#d0473d"/><stop offset="1.000" stop-color="#cb3e38"/></linearGradient><linearGradient id="g43" x1="0" x2="1" y1="0" y2="0"><stop offset="0.000" stop-color="#bfd3f6"/><stop offset="0.041" stop-color="#c7d7f0"/><stop offset="0.081" stop-color="#cedaeb"/><stop offset="0.122" stop-color="#d6dce4"/><stop offset="0.163" stop-color="#dddcdc"/><stop offset="0.204" stop-color="#e7d7ce"/><stop offset="0.244" stop-color="#efcfbf"/><stop offset="0.285" stop-color="#f3c7b1"/><stop offset="0.326" stop-color="#f5c1a9"/><stop offset="0.367" stop-color="#f4c5ad"/><stop offset="0.407" stop-color="#f2cbb7"/><stop offset="0.448" stop-color="#ecd3c5"/><stop offset="0.489" stop-color="#e4d9d2"/><stop offset="0.530" stop-color="#dcdddd"/><stop offset="0.570" stop-color="#dadce0"/><stop offset="0.611" stop-color="#dcdddd"/><stop offset="0.652" stop-color="#e1dad6"/><stop offset="0.692" stop-color="#e9d5cb"/><stop offset="0.733" stop-color="#f2cbb7"/><stop offset="0.774" stop-color="#f7b89c"/><stop offset="0.815" stop-color="#f5a081"/><stop offset="0.855" stop-color="#f08a6c"/><stop offset="0.896" stop-color="#e67259"/><stop offset="0.937" stop-color="#dd5f4b"/><stop offset="0.978" stop-color="#d24b40"/><stop offset="1.000" stop-color="#cc403a"/></linearGradient><linearGradient id="g44" x1="0" x2="1" y1="0" y2="0"><stop offset="0.000" stop-color="#c3d5f4"/><stop offset="0.041" stop-color="#cad8ef"/><stop offset="0.081" stop-color="#d1dae9"/><stop offset="0.122" stop-color="#d8dce2"/><stop offset="0.163" stop-color="#dfdbd9"/><stop offset="0.204" stop-color="#e8d6cc"/><stop offset="0.244" stop-color="#efcebd"/><stop offset="0.285" stop-color="#f4c6af"/><stop offset="0.326" stop-color="#f5c0a7"/><stop offset="0.367" stop-color="#f5c2aa"/><stop offset="0.407" stop-color="#f2cab5"/><stop offset="0.448" stop-color="#edd2c3"/><stop offset="0.489" stop-color="#e4d9d2"/><stop offset="0.530" stop-color="#dcdddd"/><stop offset="0.570" stop-color="#dadce0"/><stop offset="0.611" stop-color="#dcdddd"/><stop offset="0.652" stop-color="#e1dad6"/><stop offset="0.692" stop-color="#e9d5cb"/><stop offset="0.733" stop-color="#f2cbb7"/><stop offset="0.774" stop-color="#f7b89c"/><stop offset="0.815" stop-color="#f6a283"/><stop offset="0.855" stop-color="#f08b6e"/><stop offset="0.896" stop-color="#e7745b"/><stop offset="0.937" stop-color="#de614d"/><stop offset="0.978" stop-color="#d44e41"/><stop offset="1.000" stop-color="#cd423b"/></linearGradient><linearGradient id="g45" x1="0" x2="1" y1="0" y2="0"><stop offset="0.000" stop-color="#c5d6f2"/><stop offset="0.041" stop-color="#cdd9ec"/><stop offset="0.081" stop-color="#d4dbe6"/><stop offset="0.122" stop-color="#dadce0"/><stop offset="0.163" stop-color="#e1dad6"/><stop offset="0.204" stop-color="#e9d5cb"/><stop offset="0.244" stop-color="#f1cdba"/><stop offset="0.285" stop-color="#f4c5ad"/><stop offset="0.326" stop-color="#f6bfa6"/><stop offset="0.367" stop-color="#f5c2aa"/><stop offset="0.407" stop-color="#f2c9b4"/><stop offset="0.448" stop-color="#edd1c2"/><stop offset="0.489" stop-color="#e5d8d1"/><stop offset="0.530" stop-color="#dddcdc"/><stop offset="0.570" stop-color="#dbdcde"/><stop offset="0.611" stop-color="#dcdddd"/><stop offset="0.652" stop-color="#e1dad6"/><stop offset="0.692" stop-color="#e9d5cb"/><stop offset="0.733" stop-color="#f2cab5"/><stop offset="0.774" stop-color="#f7b89c"/><stop offset="0.815" stop-color="#f6a283"/><stop offset="0.855" stop-color="#f08b6e"/><stop offset="0.896" stop-color="#e8765c"/><stop offset="0.937" stop-color="#df634e"/><stop offset="0.978" stop-color="#d55042"/><stop offset="1.000" stop-color="#cf453c"/></linearGradient><linearGradient id="g46" x1="0" x2="1" y1="0" y2="0"><stop offset="0.000" stop-color="#c7d7f0"/><stop offset="0.041" stop-color="#cfdaea"/><stop offset="0.081" stop-color="#d6dce4"/><stop offset="0.122" stop-color="#dcdddd"/><stop offset="0.163" stop-color="#e2dad5"/><stop offset="0.204" stop-color="#ead4c8"/><stop offset="0.244" stop-color="#f1ccb8"/><stop offset="0.285" stop-color="#f5c4ac"/><stop offset="0.326" stop-color="#f6bfa6"/><stop offset="0.367" stop-color="#f5c1a9"/><stop offset="0.407" stop-color="#f2c9b4"/><stop offset="0.448" stop-color="#edd1c2"/><stop offset="0.489" stop-color="#e5d8d1"/><stop offset="0.530" stop-color="#dedcdb"/><stop offset="0.570" stop-color="#dbdcde"/><stop offset="0.611" stop-color="#dddcdc"/><stop offset="0.652" stop-color="#e2dad5"/><stop offset="0.692" stop-color="#ead5c9"/><stop offset="0.733" stop-color="#f2cab5"/><stop offset="0.774" stop-color="#f7b89c"/><stop offset="0.815" stop-color="#f6a283"/><stop offset="0.855" stop-color="#f18d6f"/><stop offset="0.896" stop-color="#e9785d"/><stop offset="0.937" stop-color="#e0654f"/><stop offset="0.978" stop-color="#d55042"/><stop offset="1.000" stop-color="#cf453c"/></linearGradient><linearGradient id="g47" x1="0" x2="1" y1="0" y2="0"><stop offset="0.000" stop-color="#cad8ef"/><stop offset="0.041" stop-color="#d2dbe8"/><stop offset="0.081" stop-color="#d7dce3"/><stop offset="0.122" stop-color="#dddcdc"/><stop offset="0.163" stop-color="#e4d9d2"/><stop offset="0.204" stop-color="#ebd3c6"/><stop offset="0.244" stop-color="#f2cbb7"/><stop offset="0.285" stop-color="#f5c4ac"/><stop offset="0.326" stop-color="#f6bfa6"/><stop offset="0.367" stop-color="#f5c1a9"/><stop offset="0.407" stop-color="#f3c8b2"/><stop offset="0.448" stop-color="#eed0c0"/><stop offset="0.489" stop-color="#e6d7cf"/><stop offset="0.530" stop-color="#dfdbd9"/><stop offset="0.570" stop-color="#dcdddd"/><stop offset="0.611" stop-color="#dedcdb"/><stop offset="0.652" stop-color="#e3d9d3"/><stop offset="0.692" stop-color="#ead4c8"/><stop offset="0.733" stop-color="#f2c9b4"/><stop offset="0.774" stop-color="#f7b89c"/><stop offset="0.815" stop-color="#f6a385"/><stop offset="0.855" stop-color="#f18d6f"/><stop offset="0.896" stop-color="#e97a5f"/><stop offset="0.937" stop-color="#e16751"/><stop offset="0.978" stop-color="#d65244"/><stop offset="1.000" stop-color="#d0473d"/></linearGradient><filter id="blur_tl" filterUnits="userSpaceOnUse" x="30.0" y="-4.6" width="245.5" height="140.0"><feGaussianBlur stdDeviation="1.30"/></filter><clipPath id="clip_tl"><rect x="35.00" y="0.40" width="235.50" height="130.00"/></clipPath><linearGradient id="g48" x1="0" x2="1" y1="0" y2="0"><stop offset="0.000" stop-color="#dfdbd9"/><stop offset="0.041" stop-color="#e3d9d3"/><stop offset="0.081" stop-color="#e7d7ce"/><stop offset="0.122" stop-color="#ead4c8"/><stop offset="0.163" stop-color="#edd1c2"/><stop offset="0.204" stop-color="#f0cdbb"/><stop offset="0.244" stop-color="#f2cbb7"/><stop offset="0.285" stop-color="#f3c7b1"/><stop offset="0.326" stop-color="#f5c2aa"/><stop offset="0.367" stop-color="#f6bea4"/><stop offset="0.407" stop-color="#f7b99e"/><stop offset="0.448" stop-color="#f7b497"/><stop offset="0.489" stop-color="#f7af91"/><stop offset="0.530" stop-color="#f7a889"/><stop offset="0.570" stop-color="#f5a081"/><stop offset="0.611" stop-color="#f4987a"/><stop offset="0.652" stop-color="#f18f71"/><stop offset="0.692" stop-color="#ec8165"/><stop offset="0.733" stop-color="#e36c55"/><stop offset="0.774" stop-color="#d55042"/><stop offset="0.815" stop-color="#bd1f2d"/><stop offset="0.855" stop-color="#b40426"/><stop offset="0.896" stop-color="#b40426"/><stop offset="0.937" stop-color="#b40426"/><stop offset="0.978" stop-color="#b40426"/><stop offset="1.000" stop-color="#b40426"/></linearGradient><linearGradient id="g49" x1="0" x2="1" y1="0" y2="0"><stop offset="0.000" stop-color="#dddcdc"/><stop offset="0.041" stop-color="#e0dbd8"/><stop offset="0.081" stop-color="#e4d9d2"/><stop offset="0.122" stop-color="#e8d6cc"/><stop offset="0.163" stop-color="#ebd3c6"/><stop offset="0.204" stop-color="#eed0c0"/><stop offset="0.244" stop-color="#f1cdba"/><stop offset="0.285" stop-color="#f2c9b4"/><stop offset="0.326" stop-color="#f4c5ad"/><stop offset="0.367" stop-color="#f5c1a9"/><stop offset="0.407" stop-color="#f7bca1"/><stop offset="0.448" stop-color="#f7b79b"/><stop offset="0.489" stop-color="#f7b194"/><stop offset="0.530" stop-color="#f7aa8c"/><stop offset="0.570" stop-color="#f6a385"/><stop offset="0.611" stop-color="#f49a7b"/><stop offset="0.652" stop-color="#f29072"/><stop offset="0.692" stop-color="#ed8366"/><stop offset="0.733" stop-color="#e46e56"/><stop offset="0.774" stop-color="#d65244"/><stop offset="0.815" stop-color="#be242e"/><stop offset="0.855" stop-color="#b40426"/><stop offset="0.896" stop-color="#b40426"/><stop offset="0.937" stop-color="#b40426"/><stop offset="0.978" stop-color="#b40426"/><stop offset="1.000" stop-color="#b40426"/></linearGradient><linearGradient id="g50" x1="0" x2="1" y1="0" y2="0"><stop offset="0.000" stop-color="#dadce0"/><stop offset="0.041" stop-color="#dedcdb"/><stop offset="0.081" stop-color="#e2dad5"/><stop offset="0.122" stop-color="#e6d7cf"/><stop offset="0.163" stop-color="#ead5c9"/><stop offset="0.204" stop-color="#edd2c3"/><stop offset="0.244" stop-color="#efcfbf"/><stop offset="0.285" stop-color="#f1ccb8"/><stop offset="0.326" stop-color="#f3c8b2"/><stop offset="0.367" stop-color="#f5c4ac"/><stop offset="0.407" stop-color="#f6bfa6"/><stop offset="0.448" stop-color="#f7b99e"/><stop offset="0.489" stop-color="#f7b396"/><stop offset="0.530" stop-color="#f7ac8e"/><stop offset="0.570" stop-color="#f6a586"/><stop offset="0.611" stop-color="#f59c7d"/><stop offset="0.652" stop-color="#f29274"/><stop offset="0.692" stop-color="#ee8468"/><stop offset="0.733" stop-color="#e46e56"/><stop offset="0.774" stop-color="#d75445"/><stop offset="0.815" stop-color="#c0282f"/><stop offset="0.855" stop-color="#b40426"/><stop offset="0.896" stop-color="#b40426"/><stop offset="0.937" stop-color="#b40426"/><stop offset="0.978" stop-color="#b40426"/><stop offset="1.000" stop-color="#b40426"/></linearGradient><linearGradient id="g51" x1="0" x2="1" y1="0" y2="0"><stop offset="0.000" stop-color="#d8dce2"/><stop offset="0.041" stop-color="#dcdddd"/><stop offset="0.081" stop-color="#dfdbd9"/><stop offset="0.122" stop-color="#e3d9d3"/><stop offset="0.163" stop-color="#e7d7ce"/><stop offset="0.204" stop-color="#ead4c8"/><stop offset="0.244" stop-color="#edd1c2"/><stop offset="0.285" stop-color="#f0cdbb"/><stop offset="0.326" stop-color="#f2cab5"/><stop offset="0.367" stop-color="#f4c6af"/><stop offset="0.407" stop-color="#f5c1a9"/><stop offset="0.448" stop-color="#f7bca1"/><stop offset="0.489" stop-color="#f7b599"/><stop offset="0.530" stop-color="#f7af91"/><stop offset="0.570" stop-color="#f7a889"/><stop offset="0.611" stop-color="#f59d7e"/><stop offset="0.652" stop-color="#f29274"/><stop offset="0.692" stop-color="#ee8468"/><stop offset="0.733" stop-color="#e46e56"/><stop offset="0.774" stop-color="#d75445"/><stop offset="0.815" stop-color="#c12b30"/><stop offset="0.855" stop-color="#b40426"/><stop offset="0.896" stop-color="#b40426"/><stop offset="0.937" stop-color="#b40426"/><stop offset="0.978" stop-color="#b40426"/><stop offset="1.000" stop-color="#b40426"/></linearGradient><linearGradient id="g52" x1="0" x2="1" y1="0" y2="0"><stop offset="0.000" stop-color="#d6dce4"/><stop offset="0.041" stop-color="#d9dce1"/><stop offset="0.081" stop-color="#dddcdc"/><stop offset="0.122" stop-color="#e1dad6"/><stop offset="0.163" stop-color="#e5d8d1"/><stop offset="0.204" stop-color="#e8d6cc"/><stop offset="0.244" stop-color="#ebd3c6"/><stop offset="0.285" stop-color="#eed0c0"/><stop offset="0.326" stop-color="#f1cdba"/><stop offset="0.367" stop-color="#f2c9b4"/><stop offset="0.407" stop-color="#f5c4ac"/><stop offset="0.448" stop-color="#f6bfa6"/><stop offset="0.489" stop-color="#f7b89c"/><stop offset="0.530" stop-color="#f7b194"/><stop offset="0.570" stop-color="#f7a98b"/><stop offset="0.611" stop-color="#f59f80"/><stop offset="0.652" stop-color="#f29274"/><stop offset="0.692" stop-color="#ed8366"/><stop offset="0.733" stop-color="#e46e56"/><stop offset="0.774" stop-color="#d75445"/><stop offset="0.815" stop-color="#c32e31"/><stop offset="0.855" stop-color="#b40426"/><stop offset="0.896" stop-color="#b40426"/><stop offset="0.937" stop-color="#b40426"/><stop offset="0.978" stop-color="#b40426"/><stop offset="1.000" stop-color="#b40426"/></linearGradient><linearGradient id="g53" x1="0" x2="1" y1="0" y2="0"><stop offset="0.000" stop-color="#d3dbe7"/><stop offset="0.041" stop-color="#d7dce3"/><stop offset="0.081" stop-color="#dadce0"/><stop offset="0.122" stop-color="#dedcdb"/><stop offset="0.163" stop-color="#e2dad5"/><stop offset="0.204" stop-color="#e6d7cf"/><stop offset="0.244" stop-color="#ead5c9"/><stop offset="0.285" stop-color="#edd2c3"/><stop offset="0.326" stop-color="#efcebd"/><stop offset="0.367" stop-color="#f2cbb7"/><stop offset="0.407" stop-color="#f3c7b1"/><stop offset="0.448" stop-color="#f5c1a9"/><stop offset="0.489" stop-color="#f7bca1"/><stop offset="0.530" stop-color="#f7b497"/><stop offset="0.570" stop-color="#f7aa8c"/><stop offset="0.611" stop-color="#f5a081"/><stop offset="0.652" stop-color="#f39475"/><stop offset="0.692" stop-color="#ec8165"/><stop offset="0.733" stop-color="#e36c55"/><stop offset="0.774" stop-color="#d75445"/><stop offset="0.815" stop-color="#c43032"/><stop offset="0.855" stop-color="#b40426"/><stop offset="0.896" stop-color="#b40426"/><stop offset="0.937" stop-color="#b40426"/><stop offset="0.978" stop-color="#b40426"/><stop offset="1.000" stop-color="#b40426"/></linearGradient><linearGradient id="g54" x1="0" x2="1" y1="0" y2="0"><stop offset="0.000" stop-color="#d1dae9"/><stop offset="0.041" stop-color="#d4dbe6"/><stop offset="0.081" stop-color="#d8dce2"/><stop offset="0.122" stop-color="#dbdcde"/><stop offset="0.163" stop-color="#dfdbd9"/><stop offset="0.204" stop-color="#e3d9d3"/><stop offset="0.244" stop-color="#e7d7ce"/><stop offset="0.285" stop-color="#ead4c8"/><stop offset="0.326" stop-color="#edd1c2"/><stop offset="0.367" stop-color="#f0cdbb"/><stop offset="0.407" stop-color="#f2c9b4"/><stop offset="0.448" stop-color="#f5c4ac"/><stop offset="0.489" stop-color="#f6bea4"/><stop offset="0.530" stop-color="#f7b79b"/><stop offset="0.570" stop-color="#f7ad90"/><stop offset="0.611" stop-color="#f6a283"/><stop offset="0.652" stop-color="#f39475"/><stop offset="0.692" stop-color="#ec8165"/><stop offset="0.733" stop-color="#e36b54"/><stop offset="0.774" stop-color="#d75445"/><stop offset="0.815" stop-color="#c53334"/><stop offset="0.855" stop-color="#b40426"/><stop offset="0.896" stop-color="#b40426"/><stop offset="0.937" stop-color="#b40426"/><stop offset="0.978" stop-color="#b40426"/><stop offset="1.000" stop-color="#b40426"/></linearGradient><linearGradient id="g55" x1="0" x2="1" y1="0" y2="0"><stop offset="0.000" stop-color="#cedaeb"/><stop offset="0.041" stop-color="#d2dbe8"/><stop offset="0.081" stop-color="#d5dbe5"/><stop offset="0.122" stop-color="#d9dce1"/><stop offset="0.163" stop-color="#dcdddd"/><stop offset="0.204" stop-color="#e0dbd8"/><stop offset="0.244" stop-color="#e4d9d2"/><stop offset="0.285" stop-color="#e8d6cc"/><stop offset="0.326" stop-color="#ebd3c6"/><stop offset="0.367" stop-color="#efcfbf"/><stop offset="0.407" stop-color="#f1ccb8"/><stop offset="0.448" stop-color="#f3c7b1"/><stop offset="0.489" stop-color="#f5c0a7"/><stop offset="0.530" stop-color="#f7b99e"/><stop offset="0.570" stop-color="#f7b093"/><stop offset="0.611" stop-color="#f6a385"/><stop offset="0.652" stop-color="#f39475"/><stop offset="0.692" stop-color="#ec7f63"/><stop offset="0.733" stop-color="#e26952"/><stop offset="0.774" stop-color="#d65244"/><stop offset="0.815" stop-color="#c73635"/><stop offset="0.855" stop-color="#b40426"/><stop offset="0.896" stop-color="#b40426"/><stop offset="0.937" stop-color="#b40426"/><stop offset="0.978" stop-color="#b40426"/><stop offset="1.000" stop-color="#b40426"/></linearGradient><linearGradient id="g56" x1="0" x2="1" y1="0" y2="0"><stop offset="0.000" stop-color="#cbd8ee"/><stop offset="0.041" stop-color="#cedaeb"/><stop offset="0.081" stop-color="#d3dbe7"/><stop offset="0.122" stop-color="#d6dce4"/><stop offset="0.163" stop-color="#dadce0"/><stop offset="0.204" stop-color="#dddcdc"/><stop offset="0.244" stop-color="#e1dad6"/><stop offset="0.285" stop-color="#e5d8d1"/><stop offset="0.326" stop-color="#ead5c9"/><stop offset="0.367" stop-color="#edd2c3"/><stop offset="0.407" stop-color="#f0cdbb"/><stop offset="0.448" stop-color="#f2c9b4"/><stop offset="0.489" stop-color="#f5c2aa"/><stop offset="0.530" stop-color="#f7bca1"/><stop offset="0.570" stop-color="#f7b194"/><stop offset="0.611" stop-color="#f6a586"/><stop offset="0.652" stop-color="#f39577"/><stop offset="0.692" stop-color="#ec7f63"/><stop offset="0.733" stop-color="#e16751"/><stop offset="0.774" stop-color="#d75445"/><stop offset="0.815" stop-color="#c83836"/><stop offset="0.855" stop-color="#b40426"/><stop offset="0.896" stop-color="#b40426"/><stop offset="0.937" stop-color="#b40426"/><stop offset="0.978" stop-color="#b40426"/><stop offset="1.000" stop-color="#b40426"/></linearGradient><linearGradient id="g57" x1="0" x2="1" y1="0" y2="0"><stop offset="0.000" stop-color="#c7d7f0"/><stop offset="0.041" stop-color="#ccd9ed"/><stop offset="0.081" stop-color="#cfdaea"/><stop offset="0.122" stop-color="#d3dbe7"/><stop offset="0.163" stop-color="#d7dce3"/><stop offset="0.204" stop-color="#dadce0"/><stop offset="0.244" stop-color="#dedcdb"/><stop offset="0.285" stop-color="#e3d9d3"/><stop offset="0.326" stop-color="#e7d7ce"/><stop offset="0.367" stop-color="#ead4c8"/><stop offset="0.407" stop-color="#eed0c0"/><stop offset="0.448" stop-color="#f1ccb8"/><stop offset="0.489" stop-color="#f4c6af"/><stop offset="0.530" stop-color="#f6bea4"/><stop offset="0.570" stop-color="#f7b497"/><stop offset="0.611" stop-color="#f7a889"/><stop offset="0.652" stop-color="#f39778"/><stop offset="0.692" stop-color="#ec7f63"/><stop offset="0.733" stop-color="#e0654f"/><stop offset="0.774" stop-color="#d75445"/><stop offset="0.815" stop-color="#cb3e38"/><stop offset="0.855" stop-color="#b40426"/><stop offset="0.896" stop-color="#b40426"/><stop offset="0.937" stop-color="#b40426"/><stop offset="0.978" stop-color="#b40426"/><stop offset="1.000" stop-color="#b40426"/></linearGradient><linearGradient id="g58" x1="0" x2="1" y1="0" y2="0"><stop offset="0.000" stop-color="#c5d6f2"/><stop offset="0.041" stop-color="#c9d7f0"/><stop offset="0.081" stop-color="#ccd9ed"/><stop offset="0.122" stop-color="#cfdaea"/><stop offset="0.163" stop-color="#d4dbe6"/><stop offset="0.204" stop-color="#d7dce3"/><stop offset="0.244" stop-color="#dbdcde"/><stop offset="0.285" stop-color="#e0dbd8"/><stop offset="0.326" stop-color="#e4d9d2"/><stop offset="0.367" stop-color="#e9d5cb"/><stop offset="0.407" stop-color="#edd2c3"/><stop offset="0.448" stop-color="#f0cdbb"/><stop offset="0.489" stop-color="#f3c8b2"/><stop offset="0.530" stop-color="#f5c0a7"/><stop offset="0.570" stop-color="#f7b79b"/><stop offset="0.611" stop-color="#f7aa8c"/><stop offset="0.652" stop-color="#f4987a"/><stop offset="0.692" stop-color="#ec8165"/><stop offset="0.733" stop-color="#e16751"/><stop offset="0.774" stop-color="#d85646"/><stop offset="0.815" stop-color="#cd423b"/><stop offset="0.855" stop-color="#b40426"/><stop offset="0.896" stop-color="#b40426"/><stop offset="0.937" stop-color="#b40426"/><stop offset="0.978" stop-color="#b40426"/><stop offset="1.000" stop-color="#b40426"/></linearGradient><linearGradient id="g59" x1="0" x2="1" y1="0" y2="0"><stop offset="0.000" stop-color="#c1d4f4"/><stop offset="0.041" stop-color="#c5d6f2"/><stop offset="0.081" stop-color="#c9d7f0"/><stop offset="0.122" stop-color="#ccd9ed"/><stop offset="0.163" stop-color="#d1dae9"/><stop offset="0.204" stop-color="#d4dbe6"/><stop offset="0.244" stop-color="#d8dce2"/><stop offset="0.285" stop-color="#dddcdc"/><stop offset="0.326" stop-color="#e1dad6"/><stop offset="0.367" stop-color="#e6d7cf"/><stop offset="0.407" stop-color="#ead4c8"/><stop offset="0.448" stop-color="#eed0c0"/><stop offset="0.489" stop-color="#f2cbb7"/><stop offset="0.530" stop-color="#f5c4ac"/><stop offset="0.570" stop-color="#f7ba9f"/><stop offset="0.611" stop-color="#f7ad90"/><stop offset="0.652" stop-color="#f59c7d"/><stop offset="0.692" stop-color="#ed8366"/><stop offset="0.733" stop-color="#e26952"/><stop offset="0.774" stop-color="#da5a49"/><stop offset="0.815" stop-color="#d0473d"/><stop offset="0.855" stop-color="#b70d28"/><stop offset="0.896" stop-color="#b40426"/><stop offset="0.937" stop-color="#b40426"/><stop offset="0.978" stop-color="#b40426"/><stop offset="1.000" stop-color="#b40426"/></linearGradient><linearGradient id="g60" x1="0" x2="1" y1="0" y2="0"><stop offset="0.000" stop-color="#bed2f6"/><stop offset="0.041" stop-color="#c1d4f4"/><stop offset="0.081" stop-color="#c5d6f2"/><stop offset="0.122" stop-color="#c9d7f0"/><stop offset="0.163" stop-color="#cdd9ec"/><stop offset="0.204" stop-color="#d1dae9"/><stop offset="0.244" stop-color="#d5dbe5"/><stop offset="0.285" stop-color="#dadce0"/><stop offset="0.326" stop-color="#dedcdb"/><stop offset="0.367" stop-color="#e3d9d3"/><stop offset="0.407" stop-color="#e8d6cc"/><stop offset="0.448" stop-color="#ecd3c5"/><stop offset="0.489" stop-color="#f0cdbb"/><stop offset="0.530" stop-color="#f3c7b1"/><stop offset="0.570" stop-color="#f6bda2"/><stop offset="0.611" stop-color="#f7b093"/><stop offset="0.652" stop-color="#f59f80"/><stop offset="0.692" stop-color="#ef886b"/><stop offset="0.733" stop-color="#e46e56"/><stop offset="0.774" stop-color="#dd5f4b"/><stop offset="0.815" stop-color="#d44e41"/><stop offset="0.855" stop-color="#b8122a"/><stop offset="0.896" stop-color="#b40426"/><stop offset="0.937" stop-color="#b40426"/><stop offset="0.978" stop-color="#b40426"/><stop offset="1.000" stop-color="#b40426"/></linearGradient><linearGradient id="g61" x1="0" x2="1" y1="0" y2="0"><stop offset="0.000" stop-color="#bad0f8"/><stop offset="0.041" stop-color="#bed2f6"/><stop offset="0.081" stop-color="#c1d4f4"/><stop offset="0.122" stop-color="#c5d6f2"/><stop offset="0.163" stop-color="#cad8ef"/><stop offset="0.204" stop-color="#cdd9ec"/><stop offset="0.244" stop-color="#d2dbe8"/><stop offset="0.285" stop-color="#d7dce3"/><stop offset="0.326" stop-color="#dbdcde"/><stop offset="0.367" stop-color="#e0dbd8"/><stop offset="0.407" stop-color="#e5d8d1"/><stop offset="0.448" stop-color="#ead5c9"/><stop offset="0.489" stop-color="#eed0c0"/><stop offset="0.530" stop-color="#f2c9b4"/><stop offset="0.570" stop-color="#f5c0a7"/><stop offset="0.611" stop-color="#f7b497"/><stop offset="0.652" stop-color="#f6a385"/><stop offset="0.692" stop-color="#f18d6f"/><stop offset="0.733" stop-color="#e8765c"/><stop offset="0.774" stop-color="#e0654f"/><stop offset="0.815" stop-color="#d55042"/><stop offset="0.855" stop-color="#bd1f2d"/><stop offset="0.896" stop-color="#b40426"/><stop offset="0.937" stop-color="#b40426"/><stop offset="0.978" stop-color="#b40426"/><stop offset="1.000" stop-color="#b40426"/></linearGradient><linearGradient id="g62" x1="0" x2="1" y1="0" y2="0"><stop offset="0.000" stop-color="#b6cefa"/><stop offset="0.041" stop-color="#bad0f8"/><stop offset="0.081" stop-color="#bed2f6"/><stop offset="0.122" stop-color="#c1d4f4"/><stop offset="0.163" stop-color="#c5d6f2"/><stop offset="0.204" stop-color="#cad8ef"/><stop offset="0.244" stop-color="#cedaeb"/><stop offset="0.285" stop-color="#d4dbe6"/><stop offset="0.326" stop-color="#d8dce2"/><stop offset="0.367" stop-color="#dddcdc"/><stop offset="0.407" stop-color="#e2dad5"/><stop offset="0.448" stop-color="#e7d7ce"/><stop offset="0.489" stop-color="#ecd3c5"/><stop offset="0.530" stop-color="#f1cdba"/><stop offset="0.570" stop-color="#f5c4ac"/><stop offset="0.611" stop-color="#f7b89c"/><stop offset="0.652" stop-color="#f7a889"/><stop offset="0.692" stop-color="#f29274"/><stop offset="0.733" stop-color="#ea7b60"/><stop offset="0.774" stop-color="#e36b54"/><stop offset="0.815" stop-color="#d75445"/><stop offset="0.855" stop-color="#c0282f"/><stop offset="0.896" stop-color="#b40426"/><stop offset="0.937" stop-color="#b40426"/><stop offset="0.978" stop-color="#b40426"/><stop offset="1.000" stop-color="#b40426"/></linearGradient><linearGradient id="g63" x1="0" x2="1" y1="0" y2="0"><stop offset="0.000" stop-color="#b2ccfb"/><stop offset="0.041" stop-color="#b5cdfa"/><stop offset="0.081" stop-color="#b9d0f9"/><stop offset="0.122" stop-color="#bed2f6"/><stop offset="0.163" stop-color="#c1d4f4"/><stop offset="0.204" stop-color="#c6d6f1"/><stop offset="0.244" stop-color="#cbd8ee"/><stop offset="0.285" stop-color="#d1dae9"/><stop offset="0.326" stop-color="#d5dbe5"/><stop offset="0.367" stop-color="#dadce0"/><stop offset="0.407" stop-color="#dfdbd9"/><stop offset="0.448" stop-color="#e4d9d2"/><stop offset="0.489" stop-color="#ead5c9"/><stop offset="0.530" stop-color="#efcfbf"/><stop offset="0.570" stop-color="#f3c7b1"/><stop offset="0.611" stop-color="#f7bca1"/><stop offset="0.652" stop-color="#f7ac8e"/><stop offset="0.692" stop-color="#f4987a"/><stop offset="0.733" stop-color="#ee8468"/><stop offset="0.774" stop-color="#e57058"/><stop offset="0.815" stop-color="#d95847"/><stop offset="0.855" stop-color="#c43032"/><stop offset="0.896" stop-color="#b40426"/><stop offset="0.937" stop-color="#b40426"/><stop offset="0.978" stop-color="#b40426"/><stop offset="1.000" stop-color="#b40426"/></linearGradient><linearGradient id="g64" x1="0" x2="1" y1="0" y2="0"><stop offset="0.000" stop-color="#aec9fc"/><stop offset="0.041" stop-color="#b1cbfc"/><stop offset="0.081" stop-color="#b5cdfa"/><stop offset="0.122" stop-color="#bad0f8"/><stop offset="0.163" stop-color="#bed2f6"/><stop offset="0.204" stop-color="#c3d5f4"/><stop offset="0.244" stop-color="#c7d7f0"/><stop offset="0.285" stop-color="#cdd9ec"/><stop offset="0.326" stop-color="#d2dbe8"/><stop offset="0.367" stop-color="#d7dce3"/><stop offset="0.407" stop-color="#dcdddd"/><stop offset="0.448" stop-color="#e1dad6"/><stop offset="0.489" stop-color="#e7d7ce"/><stop offset="0.530" stop-color="#edd2c3"/><stop offset="0.570" stop-color="#f2cbb7"/><stop offset="0.611" stop-color="#f5c0a7"/><stop offset="0.652" stop-color="#f7b194"/><stop offset="0.692" stop-color="#f5a081"/><stop offset="0.733" stop-color="#f08b6e"/><stop offset="0.774" stop-color="#e9785d"/><stop offset="0.815" stop-color="#dc5d4a"/><stop offset="0.855" stop-color="#c83836"/><stop offset="0.896" stop-color="#b70d28"/><stop offset="0.937" stop-color="#b40426"/><stop offset="0.978" stop-color="#b40426"/><stop offset="1.000" stop-color="#b40426"/></linearGradient><linearGradient id="g65" x1="0" x2="1" y1="0" y2="0"><stop offset="0.000" stop-color="#aac7fd"/><stop offset="0.041" stop-color="#adc9fd"/><stop offset="0.081" stop-color="#b1cbfc"/><stop offset="0.122" stop-color="#b6cefa"/><stop offset="0.163" stop-color="#bad0f8"/><stop offset="0.204" stop-color="#bfd3f6"/><stop offset="0.244" stop-color="#c4d5f3"/><stop offset="0.285" stop-color="#c9d7f0"/><stop offset="0.326" stop-color="#cedaeb"/><stop offset="0.367" stop-color="#d4dbe6"/><stop offset="0.407" stop-color="#d9dce1"/><stop offset="0.448" stop-color="#dedcdb"/><stop offset="0.489" stop-color="#e4d9d2"/><stop offset="0.530" stop-color="#ead5c9"/><stop offset="0.570" stop-color="#efcebd"/><stop offset="0.611" stop-color="#f4c5ad"/><stop offset="0.652" stop-color="#f7b89c"/><stop offset="0.692" stop-color="#f7a688"/><stop offset="0.733" stop-color="#f39475"/><stop offset="0.774" stop-color="#ec7f63"/><stop offset="0.815" stop-color="#e0654f"/><stop offset="0.855" stop-color="#cd423b"/><stop offset="0.896" stop-color="#bd1f2d"/><stop offset="0.937" stop-color="#b40426"/><stop offset="0.978" stop-color="#b40426"/><stop offset="1.000" stop-color="#b40426"/></linearGradient><linearGradient id="g66" x1="0" x2="1" y1="0" y2="0"><stop offset="0.000" stop-color="#a6c4fe"/><stop offset="0.041" stop-color="#a9c6fd"/><stop offset="0.081" stop-color="#adc9fd"/><stop offset="0.122" stop-color="#b2ccfb"/><stop offset="0.163" stop-color="#b6cefa"/><stop offset="0.204" stop-color="#bbd1f8"/><stop offset="0.244" stop-color="#c0d4f5"/><stop offset="0.285" stop-color="#c5d6f2"/><stop offset="0.326" stop-color="#cbd8ee"/><stop offset="0.367" stop-color="#d1dae9"/><stop offset="0.407" stop-color="#d5dbe5"/><stop offset="0.448" stop-color="#dbdcde"/><stop offset="0.489" stop-color="#e0dbd8"/><stop offset="0.530" stop-color="#e7d7ce"/><stop offset="0.570" stop-color="#edd2c3"/><stop offset="0.611" stop-color="#f2c9b4"/><stop offset="0.652" stop-color="#f6bda2"/><stop offset="0.692" stop-color="#f7ad90"/><stop offset="0.733" stop-color="#f59c7d"/><stop offset="0.774" stop-color="#ee8669"/><stop offset="0.815" stop-color="#e36c55"/><stop offset="0.855" stop-color="#d24b40"/><stop offset="0.896" stop-color="#c43032"/><stop offset="0.937" stop-color="#b70d28"/><stop offset="0.978" stop-color="#b40426"/><stop offset="1.000" stop-color="#b40426"/></linearGradient><linearGradient id="g67" x1="0" x2="1" y1="0" y2="0"><stop offset="0.000" stop-color="#a2c1ff"/><stop offset="0.041" stop-color="#a5c3fe"/><stop offset="0.081" stop-color="#a9c6fd"/><stop offset="0.122" stop-color="#aec9fc"/><stop offset="0.163" stop-color="#b2ccfb"/><stop offset="0.204" stop-color="#b7cff9"/><stop offset="0.244" stop-color="#bcd2f7"/><stop offset="0.285" stop-color="#c1d4f4"/><stop offset="0.326" stop-color="#c7d7f0"/><stop offset="0.367" stop-color="#ccd9ed"/><stop offset="0.407" stop-color="#d2dbe8"/><stop offset="0.448" stop-color="#d7dce3"/><stop offset="0.489" stop-color="#dcdddd"/><stop offset="0.530" stop-color="#e3d9d3"/><stop offset="0.570" stop-color="#ead5c9"/><stop offset="0.611" stop-color="#f0cdbb"/><stop offset="0.652" stop-color="#f5c2aa"/><stop offset="0.692" stop-color="#f7b599"/><stop offset="0.733" stop-color="#f6a385"/><stop offset="0.774" stop-color="#f18f71"/><stop offset="0.815" stop-color="#e7745b"/><stop offset="0.855" stop-color="#d85646"/><stop offset="0.896" stop-color="#cb3e38"/><stop offset="0.937" stop-color="#bd1f2d"/><stop offset="0.978" stop-color="#b40426"/><stop offset="1.000" stop-color="#b40426"/></linearGradient><linearGradient id="g68" x1="0" x2="1" y1="0" y2="0"><stop offset="0.000" stop-color="#9fbfff"/><stop offset="0.041" stop-color="#a2c1ff"/><stop offset="0.081" stop-color="#a6c4fe"/><stop offset="0.122" stop-color="#aac7fd"/><stop offset="0.163" stop-color="#aec9fc"/><stop offset="0.204" stop-color="#b3cdfb"/><stop offset="0.244" stop-color="#b9d0f9"/><stop offset="0.285" stop-color="#bed2f6"/><stop offset="0.326" stop-color="#c3d5f4"/><stop offset="0.367" stop-color="#c9d7f0"/><stop offset="0.407" stop-color="#cedaeb"/><stop offset="0.448" stop-color="#d4dbe6"/><stop offset="0.489" stop-color="#d9dce1"/><stop offset="0.530" stop-color="#dfdbd9"/><stop offset="0.570" stop-color="#e6d7cf"/><stop offset="0.611" stop-color="#edd2c3"/><stop offset="0.652" stop-color="#f2c9b4"/><stop offset="0.692" stop-color="#f7bca1"/><stop offset="0.733" stop-color="#f7ac8e"/><stop offset="0.774" stop-color="#f39778"/><stop offset="0.815" stop-color="#eb7d62"/><stop offset="0.855" stop-color="#de614d"/><stop offset="0.896" stop-color="#d0473d"/><stop offset="0.937" stop-color="#c43032"/><stop offset="0.978" stop-color="#b40426"/><stop offset="1.000" stop-color="#b40426"/></linearGradient><linearGradient id="g69" x1="0" x2="1" y1="0" y2="0"><stop offset="0.000" stop-color="#9dbdff"/><stop offset="0.041" stop-color="#9ebeff"/><stop offset="0.081" stop-color="#a2c1ff"/><stop offset="0.122" stop-color="#a6c4fe"/><stop offset="0.163" stop-color="#aac7fd"/><stop offset="0.204" stop-color="#afcafc"/><stop offset="0.244" stop-color="#b3cdfb"/><stop offset="0.285" stop-color="#bad0f8"/><stop offset="0.326" stop-color="#bfd3f6"/><stop offset="0.367" stop-color="#c5d6f2"/><stop offset="0.407" stop-color="#cad8ef"/><stop offset="0.448" stop-color="#cfdaea"/><stop offset="0.489" stop-color="#d5dbe5"/><stop offset="0.530" stop-color="#dadce0"/><stop offset="0.570" stop-color="#e1dad6"/><stop offset="0.611" stop-color="#e9d5cb"/><stop offset="0.652" stop-color="#f0cdbb"/><stop offset="0.692" stop-color="#f5c2aa"/><stop offset="0.733" stop-color="#f7b497"/><stop offset="0.774" stop-color="#f5a081"/><stop offset="0.815" stop-color="#ee8669"/><stop offset="0.855" stop-color="#e36b54"/><stop offset="0.896" stop-color="#d65244"/><stop offset="0.937" stop-color="#ca3b37"/><stop offset="0.978" stop-color="#ba162b"/><stop offset="1.000" stop-color="#b50927"/></linearGradient><linearGradient id="g70" x1="0" x2="1" y1="0" y2="0"><stop offset="0.000" stop-color="#98b9ff"/><stop offset="0.041" stop-color="#9bbcff"/><stop offset="0.081" stop-color="#9ebeff"/><stop offset="0.122" stop-color="#a2c1ff"/><stop offset="0.163" stop-color="#a6c4fe"/><stop offset="0.204" stop-color="#aac7fd"/><stop offset="0.244" stop-color="#afcafc"/><stop offset="0.285" stop-color="#b5cdfa"/><stop offset="0.326" stop-color="#bbd1f8"/><stop offset="0.367" stop-color="#c0d4f5"/><stop offset="0.407" stop-color="#c6d6f1"/><stop offset="0.448" stop-color="#cbd8ee"/><stop offset="0.489" stop-color="#d1dae9"/><stop offset="0.530" stop-color="#d6dce4"/><stop offset="0.570" stop-color="#dddcdc"/><stop offset="0.611" stop-color="#e4d9d2"/><stop offset="0.652" stop-color="#ecd3c5"/><stop offset="0.692" stop-color="#f2c9b4"/><stop offset="0.733" stop-color="#f7bca1"/><stop offset="0.774" stop-color="#f7a98b"/><stop offset="0.815" stop-color="#f29072"/><stop offset="0.855" stop-color="#e7745b"/><stop offset="0.896" stop-color="#dc5d4a"/><stop offset="0.937" stop-color="#d0473d"/><stop offset="0.978" stop-color="#c43032"/><stop offset="1.000" stop-color="#be242e"/></linearGradient><linearGradient id="g71" x1="0" x2="1" y1="0" y2="0"><stop offset="0.000" stop-color="#96b7ff"/><stop offset="0.041" stop-color="#98b9ff"/><stop offset="0.081" stop-color="#9bbcff"/><stop offset="0.122" stop-color="#9ebeff"/><stop offset="0.163" stop-color="#a2c1ff"/><stop offset="0.204" stop-color="#a6c4fe"/><stop offset="0.244" stop-color="#abc8fd"/><stop offset="0.285" stop-color="#b1cbfc"/><stop offset="0.326" stop-color="#b7cff9"/><stop offset="0.367" stop-color="#bcd2f7"/><stop offset="0.407" stop-color="#c1d4f4"/><stop offset="0.448" stop-color="#c7d7f0"/><stop offset="0.489" stop-color="#ccd9ed"/><stop offset="0.530" stop-color="#d2dbe8"/><stop offset="0.570" stop-color="#d8dce2"/><stop offset="0.611" stop-color="#dfdbd9"/><stop offset="0.652" stop-color="#e8d6cc"/><stop offset="0.692" stop-color="#efcebd"/><stop offset="0.733" stop-color="#f5c4ac"/><stop offset="0.774" stop-color="#f7b194"/><stop offset="0.815" stop-color="#f49a7b"/><stop offset="0.855" stop-color="#ec7f63"/><stop offset="0.896" stop-color="#e0654f"/><stop offset="0.937" stop-color="#d75445"/><stop offset="0.978" stop-color="#cd423b"/><stop offset="1.000" stop-color="#c83836"/></linearGradient><linearGradient id="g72" x1="0" x2="1" y1="0" y2="0"><stop offset="0.000" stop-color="#93b5fe"/><stop offset="0.041" stop-color="#96b7ff"/><stop offset="0.081" stop-color="#98b9ff"/><stop offset="0.122" stop-color="#9bbcff"/><stop offset="0.163" stop-color="#9ebeff"/><stop offset="0.204" stop-color="#a2c1ff"/><stop offset="0.244" stop-color="#a7c5fe"/><stop offset="0.285" stop-color="#adc9fd"/><stop offset="0.326" stop-color="#b2ccfb"/><stop offset="0.367" stop-color="#b9d0f9"/><stop offset="0.407" stop-color="#bed2f6"/><stop offset="0.448" stop-color="#c3d5f4"/><stop offset="0.489" stop-color="#c7d7f0"/><stop offset="0.530" stop-color="#ccd9ed"/><stop offset="0.570" stop-color="#d3dbe7"/><stop offset="0.611" stop-color="#dadce0"/><stop offset="0.652" stop-color="#e2dad5"/><stop offset="0.692" stop-color="#ead4c8"/><stop offset="0.733" stop-color="#f2cab5"/><stop offset="0.774" stop-color="#f7ba9f"/><stop offset="0.815" stop-color="#f6a385"/><stop offset="0.855" stop-color="#ef886b"/><stop offset="0.896" stop-color="#e46e56"/><stop offset="0.937" stop-color="#dd5f4b"/><stop offset="0.978" stop-color="#d65244"/><stop offset="1.000" stop-color="#d0473d"/></linearGradient><linearGradient id="g73" x1="0" x2="1" y1="0" y2="0"><stop offset="0.000" stop-color="#90b2fe"/><stop offset="0.041" stop-color="#93b5fe"/><stop offset="0.081" stop-color="#94b6ff"/><stop offset="0.122" stop-color="#97b8ff"/><stop offset="0.163" stop-color="#9bbcff"/><stop offset="0.204" stop-color="#9ebeff"/><stop offset="0.244" stop-color="#a3c2fe"/><stop offset="0.285" stop-color="#a9c6fd"/><stop offset="0.326" stop-color="#aec9fc"/><stop offset="0.367" stop-color="#b3cdfb"/><stop offset="0.407" stop-color="#b9d0f9"/><stop offset="0.448" stop-color="#bed2f6"/><stop offset="0.489" stop-color="#c1d4f4"/><stop offset="0.530" stop-color="#c7d7f0"/><stop offset="0.570" stop-color="#cdd9ec"/><stop offset="0.611" stop-color="#d4dbe6"/><stop offset="0.652" stop-color="#dcdddd"/><stop offset="0.692" stop-color="#e5d8d1"/><stop offset="0.733" stop-color="#eed0c0"/><stop offset="0.774" stop-color="#f5c2aa"/><stop offset="0.815" stop-color="#f7ad90"/><stop offset="0.855" stop-color="#f29274"/><stop offset="0.896" stop-color="#e9785d"/><stop offset="0.937" stop-color="#e36b54"/><stop offset="0.978" stop-color="#de614d"/><stop offset="1.000" stop-color="#d85646"/></linearGradient><linearGradient id="g74" x1="0" x2="1" y1="0" y2="0"><stop offset="0.000" stop-color="#8fb1fe"/><stop offset="0.041" stop-color="#90b2fe"/><stop offset="0.081" stop-color="#92b4fe"/><stop offset="0.122" stop-color="#94b6ff"/><stop offset="0.163" stop-color="#97b8ff"/><stop offset="0.204" stop-color="#9bbcff"/><stop offset="0.244" stop-color="#9fbfff"/><stop offset="0.285" stop-color="#a5c3fe"/><stop offset="0.326" stop-color="#aac7fd"/><stop offset="0.367" stop-color="#afcafc"/><stop offset="0.407" stop-color="#b5cdfa"/><stop offset="0.448" stop-color="#b9d0f9"/><stop offset="0.489" stop-color="#bcd2f7"/><stop offset="0.530" stop-color="#c1d4f4"/><stop offset="0.570" stop-color="#c7d7f0"/><stop offset="0.611" stop-color="#cedaeb"/><stop offset="0.652" stop-color="#d6dce4"/><stop offset="0.692" stop-color="#dfdbd9"/><stop offset="0.733" stop-color="#e9d5cb"/><stop offset="0.774" stop-color="#f2cab5"/><stop offset="0.815" stop-color="#f7b79b"/><stop offset="0.855" stop-color="#f59c7d"/><stop offset="0.896" stop-color="#ed8366"/><stop offset="0.937" stop-color="#e7745b"/><stop offset="0.978" stop-color="#e36b54"/><stop offset="1.000" stop-color="#de614d"/></linearGradient><linearGradient id="g75" x1="0" x2="1" y1="0" y2="0"><stop offset="0.000" stop-color="#8caffe"/><stop offset="0.041" stop-color="#8db0fe"/><stop offset="0.081" stop-color="#8fb1fe"/><stop offset="0.122" stop-color="#92b4fe"/><stop offset="0.163" stop-color="#93b5fe"/><stop offset="0.204" stop-color="#97b8ff"/><stop offset="0.244" stop-color="#9bbcff"/><stop offset="0.285" stop-color="#9fbfff"/><stop offset="0.326" stop-color="#a5c3fe"/><stop offset="0.367" stop-color="#aac7fd"/><stop offset="0.407" stop-color="#afcafc"/><stop offset="0.448" stop-color="#b3cdfb"/><stop offset="0.489" stop-color="#b7cff9"/><stop offset="0.530" stop-color="#bbd1f8"/><stop offset="0.570" stop-color="#c1d4f4"/><stop offset="0.611" stop-color="#c9d7f0"/><stop offset="0.652" stop-color="#cfdaea"/><stop offset="0.692" stop-color="#d8dce2"/><stop offset="0.733" stop-color="#e2dad5"/><stop offset="0.774" stop-color="#eed0c0"/><stop offset="0.815" stop-color="#f6bfa6"/><stop offset="0.855" stop-color="#f7a688"/><stop offset="0.896" stop-color="#f18d6f"/><stop offset="0.937" stop-color="#eb7d62"/><stop offset="0.978" stop-color="#e67259"/><stop offset="1.000" stop-color="#e26952"/></linearGradient><linearGradient id="g76" x1="0" x2="1" y1="0" y2="0"><stop offset="0.000" stop-color="#89acfd"/><stop offset="0.041" stop-color="#8badfd"/><stop offset="0.081" stop-color="#8caffe"/><stop offset="0.122" stop-color="#8db0fe"/><stop offset="0.163" stop-color="#90b2fe"/><stop offset="0.204" stop-color="#93b5fe"/><stop offset="0.244" stop-color="#97b8ff"/><stop offset="0.285" stop-color="#9bbcff"/><stop offset="0.326" stop-color="#a1c0ff"/><stop offset="0.367" stop-color="#a6c4fe"/><stop offset="0.407" stop-color="#aac7fd"/><stop offset="0.448" stop-color="#aec9fc"/><stop offset="0.489" stop-color="#b1cbfc"/><stop offset="0.530" stop-color="#b6cefa"/><stop offset="0.570" stop-color="#bbd1f8"/><stop offset="0.611" stop-color="#c1d4f4"/><stop offset="0.652" stop-color="#cad8ef"/><stop offset="0.692" stop-color="#d2dbe8"/><stop offset="0.733" stop-color="#dbdcde"/><stop offset="0.774" stop-color="#e8d6cc"/><stop offset="0.815" stop-color="#f3c7b1"/><stop offset="0.855" stop-color="#f7af91"/><stop offset="0.896" stop-color="#f39778"/><stop offset="0.937" stop-color="#ee8669"/><stop offset="0.978" stop-color="#e97a5f"/><stop offset="1.000" stop-color="#e57058"/></linearGradient><linearGradient id="g77" x1="0" x2="1" y1="0" y2="0"><stop offset="0.000" stop-color="#86a9fc"/><stop offset="0.041" stop-color="#88abfd"/><stop offset="0.081" stop-color="#89acfd"/><stop offset="0.122" stop-color="#8badfd"/><stop offset="0.163" stop-color="#8caffe"/><stop offset="0.204" stop-color="#8fb1fe"/><stop offset="0.244" stop-color="#93b5fe"/><stop offset="0.285" stop-color="#97b8ff"/><stop offset="0.326" stop-color="#9dbdff"/><stop offset="0.367" stop-color="#a1c0ff"/><stop offset="0.407" stop-color="#a5c3fe"/><stop offset="0.448" stop-color="#a9c6fd"/><stop offset="0.489" stop-color="#abc8fd"/><stop offset="0.530" stop-color="#afcafc"/><stop offset="0.570" stop-color="#b5cdfa"/><stop offset="0.611" stop-color="#bbd1f8"/><stop offset="0.652" stop-color="#c3d5f4"/><stop offset="0.692" stop-color="#cbd8ee"/><stop offset="0.733" stop-color="#d4dbe6"/><stop offset="0.774" stop-color="#e1dad6"/><stop offset="0.815" stop-color="#f0cdbb"/><stop offset="0.855" stop-color="#f7b89c"/><stop offset="0.896" stop-color="#f5a081"/><stop offset="0.937" stop-color="#f18d6f"/><stop offset="0.978" stop-color="#ec7f63"/><stop offset="1.000" stop-color="#e9785d"/></linearGradient><linearGradient id="g78" x1="0" x2="1" y1="0" y2="0"><stop offset="0.000" stop-color="#85a8fc"/><stop offset="0.041" stop-color="#86a9fc"/><stop offset="0.081" stop-color="#86a9fc"/><stop offset="0.122" stop-color="#88abfd"/><stop offset="0.163" stop-color="#89acfd"/><stop offset="0.204" stop-color="#8badfd"/><stop offset="0.244" stop-color="#8fb1fe"/><stop offset="0.285" stop-color="#93b5fe"/><stop offset="0.326" stop-color="#97b8ff"/><stop offset="0.367" stop-color="#9bbcff"/><stop offset="0.407" stop-color="#9fbfff"/><stop offset="0.448" stop-color="#a3c2fe"/><stop offset="0.489" stop-color="#a6c4fe"/><stop offset="0.530" stop-color="#a9c6fd"/><stop offset="0.570" stop-color="#aec9fc"/><stop offset="0.611" stop-color="#b5cdfa"/><stop offset="0.652" stop-color="#bcd2f7"/><stop offset="0.692" stop-color="#c4d5f3"/><stop offset="0.733" stop-color="#cdd9ec"/><stop offset="0.774" stop-color="#dadce0"/><stop offset="0.815" stop-color="#ecd3c5"/><stop offset="0.855" stop-color="#f6bfa6"/><stop offset="0.896" stop-color="#f7a889"/><stop offset="0.937" stop-color="#f39577"/><stop offset="0.978" stop-color="#ee8669"/><stop offset="1.000" stop-color="#eb7d62"/></linearGradient><linearGradient id="g79" x1="0" x2="1" y1="0" y2="0"><stop offset="0.000" stop-color="#82a6fb"/><stop offset="0.041" stop-color="#84a7fc"/><stop offset="0.081" stop-color="#84a7fc"/><stop offset="0.122" stop-color="#85a8fc"/><stop offset="0.163" stop-color="#85a8fc"/><stop offset="0.204" stop-color="#88abfd"/><stop offset="0.244" stop-color="#8badfd"/><stop offset="0.285" stop-color="#8fb1fe"/><stop offset="0.326" stop-color="#93b5fe"/><stop offset="0.367" stop-color="#97b8ff"/><stop offset="0.407" stop-color="#9abbff"/><stop offset="0.448" stop-color="#9dbdff"/><stop offset="0.489" stop-color="#9fbfff"/><stop offset="0.530" stop-color="#a3c2fe"/><stop offset="0.570" stop-color="#a7c5fe"/><stop offset="0.611" stop-color="#aec9fc"/><stop offset="0.652" stop-color="#b5cdfa"/><stop offset="0.692" stop-color="#bcd2f7"/><stop offset="0.733" stop-color="#c5d6f2"/><stop offset="0.774" stop-color="#d3dbe7"/><stop offset="0.815" stop-color="#e6d7cf"/><stop offset="0.855" stop-color="#f4c6af"/><stop offset="0.896" stop-color="#f7b093"/><stop offset="0.937" stop-color="#f59c7d"/><stop offset="0.978" stop-color="#f08b6e"/><stop offset="1.000" stop-color="#ed8366"/></linearGradient><linearGradient id="g80" x1="0" x2="1" y1="0" y2="0"><stop offset="0.000" stop-color="#81a4fb"/><stop offset="0.041" stop-color="#81a4fb"/><stop offset="0.081" stop-color="#82a6fb"/><stop offset="0.122" stop-color="#82a6fb"/><stop offset="0.163" stop-color="#82a6fb"/><stop offset="0.204" stop-color="#84a7fc"/><stop offset="0.244" stop-color="#86a9fc"/><stop offset="0.285" stop-color="#8badfd"/><stop offset="0.326" stop-color="#8fb1fe"/><stop offset="0.367" stop-color="#92b4fe"/><stop offset="0.407" stop-color="#94b6ff"/><stop offset="0.448" stop-color="#97b8ff"/><stop offset="0.489" stop-color="#9abbff"/><stop offset="0.530" stop-color="#9dbdff"/><stop offset="0.570" stop-color="#a2c1ff"/><stop offset="0.611" stop-color="#a7c5fe"/><stop offset="0.652" stop-color="#aec9fc"/><stop offset="0.692" stop-color="#b6cefa"/><stop offset="0.733" stop-color="#bfd3f6"/><stop offset="0.774" stop-color="#cbd8ee"/><stop offset="0.815" stop-color="#e0dbd8"/><stop offset="0.855" stop-color="#f1ccb8"/><stop offset="0.896" stop-color="#f7b79b"/><stop offset="0.937" stop-color="#f6a385"/><stop offset="0.978" stop-color="#f29072"/><stop offset="1.000" stop-color="#ef886b"/></linearGradient><linearGradient id="g81" x1="0" x2="1" y1="0" y2="0"><stop offset="0.000" stop-color="#7ea1fa"/><stop offset="0.041" stop-color="#80a3fa"/><stop offset="0.081" stop-color="#80a3fa"/><stop offset="0.122" stop-color="#80a3fa"/><stop offset="0.163" stop-color="#80a3fa"/><stop offset="0.204" stop-color="#81a4fb"/><stop offset="0.244" stop-color="#84a7fc"/><stop offset="0.285" stop-color="#86a9fc"/><stop offset="0.326" stop-color="#89acfd"/><stop offset="0.367" stop-color="#8db0fe"/><stop offset="0.407" stop-color="#90b2fe"/><stop offset="0.448" stop-color="#92b4fe"/><stop offset="0.489" stop-color="#94b6ff"/><stop offset="0.530" stop-color="#97b8ff"/><stop offset="0.570" stop-color="#9bbcff"/><stop offset="0.611" stop-color="#a1c0ff"/><stop offset="0.652" stop-color="#a9c6fd"/><stop offset="0.692" stop-color="#afcafc"/><stop offset="0.733" stop-color="#b7cff9"/><stop offset="0.774" stop-color="#c4d5f3"/><stop offset="0.815" stop-color="#dadce0"/><stop offset="0.855" stop-color="#eed0c0"/><stop offset="0.896" stop-color="#f6bda2"/><stop offset="0.937" stop-color="#f7a98b"/><stop offset="0.978" stop-color="#f39778"/><stop offset="1.000" stop-color="#f18f71"/></linearGradient><linearGradient id="g82" x1="0" x2="1" y1="0" y2="0"><stop offset="0.000" stop-color="#7da0f9"/><stop offset="0.041" stop-color="#7da0f9"/><stop offset="0.081" stop-color="#7da0f9"/><stop offset="0.122" stop-color="#7da0f9"/><stop offset="0.163" stop-color="#7da0f9"/><stop offset="0.204" stop-color="#7da0f9"/><stop offset="0.244" stop-color="#80a3fa"/><stop offset="0.285" stop-color="#82a6fb"/><stop offset="0.326" stop-color="#85a8fc"/><stop offset="0.367" stop-color="#88abfd"/><stop offset="0.407" stop-color="#8badfd"/><stop offset="0.448" stop-color="#8caffe"/><stop offset="0.489" stop-color="#8fb1fe"/><stop offset="0.530" stop-color="#90b2fe"/><stop offset="0.570" stop-color="#94b6ff"/><stop offset="0.611" stop-color="#9bbcff"/><stop offset="0.652" stop-color="#a2c1ff"/><stop offset="0.692" stop-color="#aac7fd"/><stop offset="0.733" stop-color="#b2ccfb"/><stop offset="0.774" stop-color="#bed2f6"/><stop offset="0.815" stop-color="#d5dbe5"/><stop offset="0.855" stop-color="#ead4c8"/><stop offset="0.896" stop-color="#f5c2aa"/><stop offset="0.937" stop-color="#f7b093"/><stop offset="0.978" stop-color="#f59d7e"/><stop offset="1.000" stop-color="#f39577"/></linearGradient><linearGradient id="g83" x1="0" x2="1" y1="0" y2="0"><stop offset="0.000" stop-color="#7b9ff9"/><stop offset="0.041" stop-color="#7b9ff9"/><stop offset="0.081" stop-color="#7b9ff9"/><stop offset="0.122" stop-color="#7b9ff9"/><stop offset="0.163" stop-color="#7a9df8"/><stop offset="0.204" stop-color="#7a9df8"/><stop offset="0.244" stop-color="#7da0f9"/><stop offset="0.285" stop-color="#80a3fa"/><stop offset="0.326" stop-color="#81a4fb"/><stop offset="0.367" stop-color="#84a7fc"/><stop offset="0.407" stop-color="#85a8fc"/><stop offset="0.448" stop-color="#86a9fc"/><stop offset="0.489" stop-color="#89acfd"/><stop offset="0.530" stop-color="#8badfd"/><stop offset="0.570" stop-color="#8fb1fe"/><stop offset="0.611" stop-color="#96b7ff"/><stop offset="0.652" stop-color="#9dbdff"/><stop offset="0.692" stop-color="#a5c3fe"/><stop offset="0.733" stop-color="#adc9fd"/><stop offset="0.774" stop-color="#b9d0f9"/><stop offset="0.815" stop-color="#d1dae9"/><stop offset="0.855" stop-color="#e7d7ce"/><stop offset="0.896" stop-color="#f3c7b1"/><stop offset="0.937" stop-color="#f7b599"/><stop offset="0.978" stop-color="#f6a586"/><stop offset="1.000" stop-color="#f59d7e"/></linearGradient><linearGradient id="g84" x1="0" x2="1" y1="0" y2="0"><stop offset="0.000" stop-color="#799cf8"/><stop offset="0.041" stop-color="#799cf8"/><stop offset="0.081" stop-color="#799cf8"/><stop offset="0.122" stop-color="#799cf8"/><stop offset="0.163" stop-color="#779af7"/><stop offset="0.204" stop-color="#799cf8"/><stop offset="0.244" stop-color="#7a9df8"/><stop offset="0.285" stop-color="#7b9ff9"/><stop offset="0.326" stop-color="#7da0f9"/><stop offset="0.367" stop-color="#80a3fa"/><stop offset="0.407" stop-color="#81a4fb"/><stop offset="0.448" stop-color="#82a6fb"/><stop offset="0.489" stop-color="#84a7fc"/><stop offset="0.530" stop-color="#85a8fc"/><stop offset="0.570" stop-color="#89acfd"/><stop offset="0.611" stop-color="#8fb1fe"/><stop offset="0.652" stop-color="#97b8ff"/><stop offset="0.692" stop-color="#9fbfff"/><stop offset="0.733" stop-color="#a7c5fe"/><stop offset="0.774" stop-color="#b5cdfa"/><stop offset="0.815" stop-color="#ccd9ed"/><stop offset="0.855" stop-color="#e3d9d3"/><stop offset="0.896" stop-color="#f1ccb8"/><stop offset="0.937" stop-color="#f7bca1"/><stop offset="0.978" stop-color="#f7ac8e"/><stop offset="1.000" stop-color="#f6a586"/></linearGradient><linearGradient id="g85" x1="0" x2="1" y1="0" y2="0"><stop offset="0.000" stop-color="#779af7"/><stop offset="0.041" stop-color="#779af7"/><stop offset="0.081" stop-color="#779af7"/><stop offset="0.122" stop-color="#7699f6"/><stop offset="0.163" stop-color="#7699f6"/><stop offset="0.204" stop-color="#7699f6"/><stop offset="0.244" stop-color="#7699f6"/><stop offset="0.285" stop-color="#779af7"/><stop offset="0.326" stop-color="#7a9df8"/><stop offset="0.367" stop-color="#7b9ff9"/><stop offset="0.407" stop-color="#7b9ff9"/><stop offset="0.448" stop-color="#7da0f9"/><stop offset="0.489" stop-color="#7ea1fa"/><stop offset="0.530" stop-color="#80a3fa"/><stop offset="0.570" stop-color="#84a7fc"/><stop offset="0.611" stop-color="#89acfd"/><stop offset="0.652" stop-color="#92b4fe"/><stop offset="0.692" stop-color="#9bbcff"/><stop offset="0.733" stop-color="#a3c2fe"/><stop offset="0.774" stop-color="#b2ccfb"/><stop offset="0.815" stop-color="#c9d7f0"/><stop offset="0.855" stop-color="#dfdbd9"/><stop offset="0.896" stop-color="#efcfbf"/><stop offset="0.937" stop-color="#f5c1a9"/><stop offset="0.978" stop-color="#f7b396"/><stop offset="1.000" stop-color="#f7aa8c"/></linearGradient><linearGradient id="g86" x1="0" x2="1" y1="0" y2="0"><stop offset="0.000" stop-color="#7699f6"/><stop offset="0.041" stop-color="#7699f6"/><stop offset="0.081" stop-color="#7597f6"/><stop offset="0.122" stop-color="#7597f6"/><stop offset="0.163" stop-color="#7396f5"/><stop offset="0.204" stop-color="#7396f5"/><stop offset="0.244" stop-color="#7396f5"/><stop offset="0.285" stop-color="#7597f6"/><stop offset="0.326" stop-color="#7699f6"/><stop offset="0.367" stop-color="#7699f6"/><stop offset="0.407" stop-color="#779af7"/><stop offset="0.448" stop-color="#799cf8"/><stop offset="0.489" stop-color="#799cf8"/><stop offset="0.530" stop-color="#7b9ff9"/><stop offset="0.570" stop-color="#7ea1fa"/><stop offset="0.611" stop-color="#85a8fc"/><stop offset="0.652" stop-color="#8db0fe"/><stop offset="0.692" stop-color="#97b8ff"/><stop offset="0.733" stop-color="#9fbfff"/><stop offset="0.774" stop-color="#aec9fc"/><stop offset="0.815" stop-color="#c5d6f2"/><stop offset="0.855" stop-color="#dbdcde"/><stop offset="0.896" stop-color="#ecd3c5"/><stop offset="0.937" stop-color="#f4c6af"/><stop offset="0.978" stop-color="#f7b99e"/><stop offset="1.000" stop-color="#f7b194"/></linearGradient><linearGradient id="g87" x1="0" x2="1" y1="0" y2="0"><stop offset="0.000" stop-color="#7396f5"/><stop offset="0.041" stop-color="#7396f5"/><stop offset="0.081" stop-color="#7396f5"/><stop offset="0.122" stop-color="#7295f4"/><stop offset="0.163" stop-color="#7295f4"/><stop offset="0.204" stop-color="#7093f3"/><stop offset="0.244" stop-color="#7093f3"/><stop offset="0.285" stop-color="#7295f4"/><stop offset="0.326" stop-color="#7295f4"/><stop offset="0.367" stop-color="#7295f4"/><stop offset="0.407" stop-color="#7396f5"/><stop offset="0.448" stop-color="#7396f5"/><stop offset="0.489" stop-color="#7597f6"/><stop offset="0.530" stop-color="#7699f6"/><stop offset="0.570" stop-color="#799cf8"/><stop offset="0.611" stop-color="#80a3fa"/><stop offset="0.652" stop-color="#88abfd"/><stop offset="0.692" stop-color="#92b4fe"/><stop offset="0.733" stop-color="#9bbcff"/><stop offset="0.774" stop-color="#aac7fd"/><stop offset="0.815" stop-color="#c1d4f4"/><stop offset="0.855" stop-color="#d8dce2"/><stop offset="0.896" stop-color="#e9d5cb"/><stop offset="0.937" stop-color="#f2cbb7"/><stop offset="0.978" stop-color="#f6bfa6"/><stop offset="1.000" stop-color="#f7b89c"/></linearGradient><linearGradient id="g88" x1="0" x2="1" y1="0" y2="0"><stop offset="0.000" stop-color="#7295f4"/><stop offset="0.041" stop-color="#7295f4"/><stop offset="0.081" stop-color="#7295f4"/><stop offset="0.122" stop-color="#7093f3"/><stop offset="0.163" stop-color="#6f92f3"/><stop offset="0.204" stop-color="#6f92f3"/><stop offset="0.244" stop-color="#6f92f3"/><stop offset="0.285" stop-color="#6f92f3"/><stop offset="0.326" stop-color="#6f92f3"/><stop offset="0.367" stop-color="#6f92f3"/><stop offset="0.407" stop-color="#6f92f3"/><stop offset="0.448" stop-color="#6f92f3"/><stop offset="0.489" stop-color="#7093f3"/><stop offset="0.530" stop-color="#7295f4"/><stop offset="0.570" stop-color="#7597f6"/><stop offset="0.611" stop-color="#7b9ff9"/><stop offset="0.652" stop-color="#84a7fc"/><stop offset="0.692" stop-color="#8db0fe"/><stop offset="0.733" stop-color="#97b8ff"/><stop offset="0.774" stop-color="#a7c5fe"/><stop offset="0.815" stop-color="#bed2f6"/><stop offset="0.855" stop-color="#d4dbe6"/><stop offset="0.896" stop-color="#e5d8d1"/><stop offset="0.937" stop-color="#efcebd"/><stop offset="0.978" stop-color="#f4c5ad"/><stop offset="1.000" stop-color="#f6bda2"/></linearGradient><linearGradient id="g89" x1="0" x2="1" y1="0" y2="0"><stop offset="0.000" stop-color="#7093f3"/><stop offset="0.041" stop-color="#7093f3"/><stop offset="0.081" stop-color="#6f92f3"/><stop offset="0.122" stop-color="#6f92f3"/><stop offset="0.163" stop-color="#6e90f2"/><stop offset="0.204" stop-color="#6c8ff1"/><stop offset="0.244" stop-color="#6c8ff1"/><stop offset="0.285" stop-color="#6b8df0"/><stop offset="0.326" stop-color="#6b8df0"/><stop offset="0.367" stop-color="#6b8df0"/><stop offset="0.407" stop-color="#6b8df0"/><stop offset="0.448" stop-color="#6b8df0"/><stop offset="0.489" stop-color="#6c8ff1"/><stop offset="0.530" stop-color="#6e90f2"/><stop offset="0.570" stop-color="#7093f3"/><stop offset="0.611" stop-color="#779af7"/><stop offset="0.652" stop-color="#80a3fa"/><stop offset="0.692" stop-color="#88abfd"/><stop offset="0.733" stop-color="#93b5fe"/><stop offset="0.774" stop-color="#a3c2fe"/><stop offset="0.815" stop-color="#bad0f8"/><stop offset="0.855" stop-color="#d1dae9"/><stop offset="0.896" stop-color="#e2dad5"/><stop offset="0.937" stop-color="#edd1c2"/><stop offset="0.978" stop-color="#f3c8b2"/><stop offset="1.000" stop-color="#f5c1a9"/></linearGradient><linearGradient id="g90" x1="0" x2="1" y1="0" y2="0"><stop offset="0.000" stop-color="#6e90f2"/><stop offset="0.041" stop-color="#6f92f3"/><stop offset="0.081" stop-color="#6e90f2"/><stop offset="0.122" stop-color="#6c8ff1"/><stop offset="0.163" stop-color="#6b8df0"/><stop offset="0.204" stop-color="#6a8bef"/><stop offset="0.244" stop-color="#6a8bef"/><stop offset="0.285" stop-color="#688aef"/><stop offset="0.326" stop-color="#688aef"/><stop offset="0.367" stop-color="#6788ee"/><stop offset="0.407" stop-color="#6788ee"/><stop offset="0.448" stop-color="#6788ee"/><stop offset="0.489" stop-color="#688aef"/><stop offset="0.530" stop-color="#6a8bef"/><stop offset="0.570" stop-color="#6e90f2"/><stop offset="0.611" stop-color="#7396f5"/><stop offset="0.652" stop-color="#7b9ff9"/><stop offset="0.692" stop-color="#84a7fc"/><stop offset="0.733" stop-color="#8fb1fe"/><stop offset="0.774" stop-color="#a1c0ff"/><stop offset="0.815" stop-color="#b7cff9"/><stop offset="0.855" stop-color="#cdd9ec"/><stop offset="0.896" stop-color="#dfdbd9"/><stop offset="0.937" stop-color="#ebd3c6"/><stop offset="0.978" stop-color="#f2cbb7"/><stop offset="1.000" stop-color="#f4c5ad"/></linearGradient><linearGradient id="g91" x1="0" x2="1" y1="0" y2="0"><stop offset="0.000" stop-color="#6c8ff1"/><stop offset="0.041" stop-color="#6c8ff1"/><stop offset="0.081" stop-color="#6c8ff1"/><stop offset="0.122" stop-color="#6b8df0"/><stop offset="0.163" stop-color="#6a8bef"/><stop offset="0.204" stop-color="#688aef"/><stop offset="0.244" stop-color="#6788ee"/><stop offset="0.285" stop-color="#6687ed"/><stop offset="0.326" stop-color="#6485ec"/><stop offset="0.367" stop-color="#6485ec"/><stop offset="0.407" stop-color="#6384eb"/><stop offset="0.448" stop-color="#6384eb"/><stop offset="0.489" stop-color="#6485ec"/><stop offset="0.530" stop-color="#6687ed"/><stop offset="0.570" stop-color="#6a8bef"/><stop offset="0.611" stop-color="#6f92f3"/><stop offset="0.652" stop-color="#7699f6"/><stop offset="0.692" stop-color="#80a3fa"/><stop offset="0.733" stop-color="#8badfd"/><stop offset="0.774" stop-color="#9dbdff"/><stop offset="0.815" stop-color="#b3cdfb"/><stop offset="0.855" stop-color="#cad8ef"/><stop offset="0.896" stop-color="#dcdddd"/><stop offset="0.937" stop-color="#e9d5cb"/><stop offset="0.978" stop-color="#f0cdbb"/><stop offset="1.000" stop-color="#f3c8b2"/></linearGradient><linearGradient id="g92" x1="0" x2="1" y1="0" y2="0"><stop offset="0.000" stop-color="#6a8bef"/><stop offset="0.041" stop-color="#6b8df0"/><stop offset="0.081" stop-color="#6a8bef"/><stop offset="0.122" stop-color="#688aef"/><stop offset="0.163" stop-color="#6788ee"/><stop offset="0.204" stop-color="#6687ed"/><stop offset="0.244" stop-color="#6485ec"/><stop offset="0.285" stop-color="#6384eb"/><stop offset="0.326" stop-color="#6282ea"/><stop offset="0.367" stop-color="#6180e9"/><stop offset="0.407" stop-color="#6180e9"/><stop offset="0.448" stop-color="#6180e9"/><stop offset="0.489" stop-color="#6180e9"/><stop offset="0.530" stop-color="#6384eb"/><stop offset="0.570" stop-color="#6788ee"/><stop offset="0.611" stop-color="#6b8df0"/><stop offset="0.652" stop-color="#7396f5"/><stop offset="0.692" stop-color="#7b9ff9"/><stop offset="0.733" stop-color="#86a9fc"/><stop offset="0.774" stop-color="#9abbff"/><stop offset="0.815" stop-color="#afcafc"/><stop offset="0.855" stop-color="#c7d7f0"/><stop offset="0.896" stop-color="#dadce0"/><stop offset="0.937" stop-color="#e7d7ce"/><stop offset="0.978" stop-color="#efcfbf"/><stop offset="1.000" stop-color="#f2cbb7"/></linearGradient><linearGradient id="g93" x1="0" x2="1" y1="0" y2="0"><stop offset="0.000" stop-color="#688aef"/><stop offset="0.041" stop-color="#688aef"/><stop offset="0.081" stop-color="#688aef"/><stop offset="0.122" stop-color="#6788ee"/><stop offset="0.163" stop-color="#6485ec"/><stop offset="0.204" stop-color="#6485ec"/><stop offset="0.244" stop-color="#6384eb"/><stop offset="0.285" stop-color="#6180e9"/><stop offset="0.326" stop-color="#5f7fe8"/><stop offset="0.367" stop-color="#5e7de7"/><stop offset="0.407" stop-color="#5d7ce6"/><stop offset="0.448" stop-color="#5d7ce6"/><stop offset="0.489" stop-color="#5e7de7"/><stop offset="0.530" stop-color="#5f7fe8"/><stop offset="0.570" stop-color="#6384eb"/><stop offset="0.611" stop-color="#688aef"/><stop offset="0.652" stop-color="#6f92f3"/><stop offset="0.692" stop-color="#779af7"/><stop offset="0.733" stop-color="#84a7fc"/><stop offset="0.774" stop-color="#96b7ff"/><stop offset="0.815" stop-color="#adc9fd"/><stop offset="0.855" stop-color="#c4d5f3"/><stop offset="0.896" stop-color="#d7dce3"/><stop offset="0.937" stop-color="#e5d8d1"/><stop offset="0.978" stop-color="#edd2c3"/><stop offset="1.000" stop-color="#f0cdbb"/></linearGradient><linearGradient id="g94" x1="0" x2="1" y1="0" y2="0"><stop offset="0.000" stop-color="#6687ed"/><stop offset="0.041" stop-color="#6788ee"/><stop offset="0.081" stop-color="#6687ed"/><stop offset="0.122" stop-color="#6485ec"/><stop offset="0.163" stop-color="#6384eb"/><stop offset="0.204" stop-color="#6282ea"/><stop offset="0.244" stop-color="#6180e9"/><stop offset="0.285" stop-color="#5e7de7"/><stop offset="0.326" stop-color="#5d7ce6"/><stop offset="0.367" stop-color="#5a78e4"/><stop offset="0.407" stop-color="#5a78e4"/><stop offset="0.448" stop-color="#5a78e4"/><stop offset="0.489" stop-color="#5a78e4"/><stop offset="0.530" stop-color="#5d7ce6"/><stop offset="0.570" stop-color="#6180e9"/><stop offset="0.611" stop-color="#6485ec"/><stop offset="0.652" stop-color="#6b8df0"/><stop offset="0.692" stop-color="#7396f5"/><stop offset="0.733" stop-color="#80a3fa"/><stop offset="0.774" stop-color="#93b5fe"/><stop offset="0.815" stop-color="#aac7fd"/><stop offset="0.855" stop-color="#c1d4f4"/><stop offset="0.896" stop-color="#d4dbe6"/><stop offset="0.937" stop-color="#e2dad5"/><stop offset="0.978" stop-color="#ebd3c6"/><stop offset="1.000" stop-color="#efcfbf"/></linearGradient><linearGradient id="g95" x1="0" x2="1" y1="0" y2="0"><stop offset="0.000" stop-color="#6485ec"/><stop offset="0.041" stop-color="#6485ec"/><stop offset="0.081" stop-color="#6384eb"/><stop offset="0.122" stop-color="#6282ea"/><stop offset="0.163" stop-color="#6180e9"/><stop offset="0.204" stop-color="#5f7fe8"/><stop offset="0.244" stop-color="#5e7de7"/><stop offset="0.285" stop-color="#5b7ae5"/><stop offset="0.326" stop-color="#5977e3"/><stop offset="0.367" stop-color="#5875e1"/><stop offset="0.407" stop-color="#5673e0"/><stop offset="0.448" stop-color="#5673e0"/><stop offset="0.489" stop-color="#5875e1"/><stop offset="0.530" stop-color="#5a78e4"/><stop offset="0.570" stop-color="#5e7de7"/><stop offset="0.611" stop-color="#6282ea"/><stop offset="0.652" stop-color="#688aef"/><stop offset="0.692" stop-color="#7093f3"/><stop offset="0.733" stop-color="#7da0f9"/><stop offset="0.774" stop-color="#90b2fe"/><stop offset="0.815" stop-color="#a6c4fe"/><stop offset="0.855" stop-color="#bed2f6"/><stop offset="0.896" stop-color="#d2dbe8"/><stop offset="0.937" stop-color="#e0dbd8"/><stop offset="0.978" stop-color="#e9d5cb"/><stop offset="1.000" stop-color="#edd2c3"/></linearGradient><linearGradient id="g96" x1="0" x2="1" y1="0" y2="0"><stop offset="0.000" stop-color="#6282ea"/><stop offset="0.041" stop-color="#6282ea"/><stop offset="0.081" stop-color="#6282ea"/><stop offset="0.122" stop-color="#6180e9"/><stop offset="0.163" stop-color="#5f7fe8"/><stop offset="0.204" stop-color="#5d7ce6"/><stop offset="0.244" stop-color="#5b7ae5"/><stop offset="0.285" stop-color="#5977e3"/><stop offset="0.326" stop-color="#5875e1"/><stop offset="0.367" stop-color="#5572df"/><stop offset="0.407" stop-color="#5470de"/><stop offset="0.448" stop-color="#5470de"/><stop offset="0.489" stop-color="#5572df"/><stop offset="0.530" stop-color="#5875e1"/><stop offset="0.570" stop-color="#5b7ae5"/><stop offset="0.611" stop-color="#5f7fe8"/><stop offset="0.652" stop-color="#6687ed"/><stop offset="0.692" stop-color="#6e90f2"/><stop offset="0.733" stop-color="#7a9df8"/><stop offset="0.774" stop-color="#8db0fe"/><stop offset="0.815" stop-color="#a3c2fe"/><stop offset="0.855" stop-color="#bbd1f8"/><stop offset="0.896" stop-color="#cedaeb"/><stop offset="0.937" stop-color="#dddcdc"/><stop offset="0.978" stop-color="#e7d7ce"/><stop offset="1.000" stop-color="#ebd3c6"/></linearGradient><filter id="blur_bl" filterUnits="userSpaceOnUse" x="30.0" y="137.6" width="245.5" height="146.4"><feGaussianBlur stdDeviation="1.30"/></filter><clipPath id="clip_bl"><rect x="35.00" y="142.60" width="235.50" height="136.40"/></clipPath><linearGradient id="g97" x1="0" x2="1" y1="0" y2="0"><stop offset="0.000" stop-color="#f29072"/><stop offset="0.072" stop-color="#f29274"/><stop offset="0.144" stop-color="#f39577"/><stop offset="0.216" stop-color="#f39778"/><stop offset="0.288" stop-color="#f49a7b"/><stop offset="0.360" stop-color="#f59c7d"/><stop offset="0.432" stop-color="#f59d7e"/><stop offset="0.504" stop-color="#f59f80"/><stop offset="0.576" stop-color="#f59f80"/><stop offset="0.647" stop-color="#f5a081"/><stop offset="0.719" stop-color="#f5a081"/><stop offset="0.791" stop-color="#f5a081"/><stop offset="0.863" stop-color="#f5a081"/><stop offset="0.935" stop-color="#f5a081"/><stop offset="1.000" stop-color="#f59f80"/></linearGradient><linearGradient id="g98" x1="0" x2="1" y1="0" y2="0"><stop offset="0.000" stop-color="#f39577"/><stop offset="0.072" stop-color="#f39778"/><stop offset="0.144" stop-color="#f4987a"/><stop offset="0.216" stop-color="#f59c7d"/><stop offset="0.288" stop-color="#f59d7e"/><stop offset="0.360" stop-color="#f59f80"/><stop offset="0.432" stop-color="#f5a081"/><stop offset="0.504" stop-color="#f6a283"/><stop offset="0.576" stop-color="#f6a283"/><stop offset="0.647" stop-color="#f6a283"/><stop offset="0.719" stop-color="#f6a385"/><stop offset="0.791" stop-color="#f6a385"/><stop offset="0.863" stop-color="#f6a385"/><stop offset="0.935" stop-color="#f6a385"/><stop offset="1.000" stop-color="#f6a283"/></linearGradient><linearGradient id="g99" x1="0" x2="1" y1="0" y2="0"><stop offset="0.000" stop-color="#f4987a"/><stop offset="0.072" stop-color="#f49a7b"/><stop offset="0.144" stop-color="#f59c7d"/><stop offset="0.216" stop-color="#f59f80"/><stop offset="0.288" stop-color="#f5a081"/><stop offset="0.360" stop-color="#f6a385"/><stop offset="0.432" stop-color="#f6a586"/><stop offset="0.504" stop-color="#f6a586"/><stop offset="0.576" stop-color="#f6a586"/><stop offset="0.647" stop-color="#f6a586"/><stop offset="0.719" stop-color="#f6a586"/><stop offset="0.791" stop-color="#f6a586"/><stop offset="0.863" stop-color="#f6a586"/><stop offset="0.935" stop-color="#f6a586"/><stop offset="1.000" stop-color="#f6a385"/></linearGradient><linearGradient id="g100" x1="0" x2="1" y1="0" y2="0"><stop offset="0.000" stop-color="#f59c7d"/><stop offset="0.072" stop-color="#f59d7e"/><stop offset="0.144" stop-color="#f5a081"/><stop offset="0.216" stop-color="#f6a283"/><stop offset="0.288" stop-color="#f6a586"/><stop offset="0.360" stop-color="#f7a688"/><stop offset="0.432" stop-color="#f7a889"/><stop offset="0.504" stop-color="#f7a889"/><stop offset="0.576" stop-color="#f7a889"/><stop offset="0.647" stop-color="#f7a889"/><stop offset="0.719" stop-color="#f7a889"/><stop offset="0.791" stop-color="#f7a889"/><stop offset="0.863" stop-color="#f7a889"/><stop offset="0.935" stop-color="#f7a889"/><stop offset="1.000" stop-color="#f6a586"/></linearGradient><linearGradient id="g101" x1="0" x2="1" y1="0" y2="0"><stop offset="0.000" stop-color="#f59f80"/><stop offset="0.072" stop-color="#f5a081"/><stop offset="0.144" stop-color="#f6a385"/><stop offset="0.216" stop-color="#f6a586"/><stop offset="0.288" stop-color="#f7a889"/><stop offset="0.360" stop-color="#f7a98b"/><stop offset="0.432" stop-color="#f7aa8c"/><stop offset="0.504" stop-color="#f7aa8c"/><stop offset="0.576" stop-color="#f7aa8c"/><stop offset="0.647" stop-color="#f7aa8c"/><stop offset="0.719" stop-color="#f7aa8c"/><stop offset="0.791" stop-color="#f7a98b"/><stop offset="0.863" stop-color="#f7a98b"/><stop offset="0.935" stop-color="#f7a98b"/><stop offset="1.000" stop-color="#f7a688"/></linearGradient><linearGradient id="g102" x1="0" x2="1" y1="0" y2="0"><stop offset="0.000" stop-color="#f6a385"/><stop offset="0.072" stop-color="#f6a586"/><stop offset="0.144" stop-color="#f7a688"/><stop offset="0.216" stop-color="#f7a98b"/><stop offset="0.288" stop-color="#f7aa8c"/><stop offset="0.360" stop-color="#f7ac8e"/><stop offset="0.432" stop-color="#f7ad90"/><stop offset="0.504" stop-color="#f7af91"/><stop offset="0.576" stop-color="#f7ad90"/><stop offset="0.647" stop-color="#f7ad90"/><stop offset="0.719" stop-color="#f7ac8e"/><stop offset="0.791" stop-color="#f7ac8e"/><stop offset="0.863" stop-color="#f7aa8c"/><stop offset="0.935" stop-color="#f7aa8c"/><stop offset="1.000" stop-color="#f7a98b"/></linearGradient><linearGradient id="g103" x1="0" x2="1" y1="0" y2="0"><stop offset="0.000" stop-color="#f7a688"/><stop offset="0.072" stop-color="#f7a889"/><stop offset="0.144" stop-color="#f7aa8c"/><stop offset="0.216" stop-color="#f7ac8e"/><stop offset="0.288" stop-color="#f7af91"/><stop offset="0.360" stop-color="#f7b093"/><stop offset="0.432" stop-color="#f7b194"/><stop offset="0.504" stop-color="#f7b194"/><stop offset="0.576" stop-color="#f7b194"/><stop offset="0.647" stop-color="#f7b093"/><stop offset="0.719" stop-color="#f7af91"/><stop offset="0.791" stop-color="#f7ad90"/><stop offset="0.863" stop-color="#f7ad90"/><stop offset="0.935" stop-color="#f7ac8e"/><stop offset="1.000" stop-color="#f7a98b"/></linearGradient><linearGradient id="g104" x1="0" x2="1" y1="0" y2="0"><stop offset="0.000" stop-color="#f7a98b"/><stop offset="0.072" stop-color="#f7aa8c"/><stop offset="0.144" stop-color="#f7ad90"/><stop offset="0.216" stop-color="#f7b093"/><stop offset="0.288" stop-color="#f7b194"/><stop offset="0.360" stop-color="#f7b396"/><stop offset="0.432" stop-color="#f7b497"/><stop offset="0.504" stop-color="#f7b497"/><stop offset="0.576" stop-color="#f7b497"/><stop offset="0.647" stop-color="#f7b396"/><stop offset="0.719" stop-color="#f7b194"/><stop offset="0.791" stop-color="#f7b093"/><stop offset="0.863" stop-color="#f7af91"/><stop offset="0.935" stop-color="#f7ad90"/><stop offset="1.000" stop-color="#f7aa8c"/></linearGradient><linearGradient id="g105" x1="0" x2="1" y1="0" y2="0"><stop offset="0.000" stop-color="#f7ad90"/><stop offset="0.072" stop-color="#f7af91"/><stop offset="0.144" stop-color="#f7b093"/><stop offset="0.216" stop-color="#f7b396"/><stop offset="0.288" stop-color="#f7b599"/><stop offset="0.360" stop-color="#f7b79b"/><stop offset="0.432" stop-color="#f7b79b"/><stop offset="0.504" stop-color="#f7b79b"/><stop offset="0.576" stop-color="#f7b79b"/><stop offset="0.647" stop-color="#f7b599"/><stop offset="0.719" stop-color="#f7b497"/><stop offset="0.791" stop-color="#f7b194"/><stop offset="0.863" stop-color="#f7b093"/><stop offset="0.935" stop-color="#f7af91"/><stop offset="1.000" stop-color="#f7ac8e"/></linearGradient><linearGradient id="g106" x1="0" x2="1" y1="0" y2="0"><stop offset="0.000" stop-color="#f7b093"/><stop offset="0.072" stop-color="#f7b194"/><stop offset="0.144" stop-color="#f7b497"/><stop offset="0.216" stop-color="#f7b79b"/><stop offset="0.288" stop-color="#f7b89c"/><stop offset="0.360" stop-color="#f7b99e"/><stop offset="0.432" stop-color="#f7ba9f"/><stop offset="0.504" stop-color="#f7ba9f"/><stop offset="0.576" stop-color="#f7b99e"/><stop offset="0.647" stop-color="#f7b89c"/><stop offset="0.719" stop-color="#f7b599"/><stop offset="0.791" stop-color="#f7b497"/><stop offset="0.863" stop-color="#f7b194"/><stop offset="0.935" stop-color="#f7af91"/><stop offset="1.000" stop-color="#f7ad90"/></linearGradient><linearGradient id="g107" x1="0" x2="1" y1="0" y2="0"><stop offset="0.000" stop-color="#f7b497"/><stop offset="0.072" stop-color="#f7b599"/><stop offset="0.144" stop-color="#f7b79b"/><stop offset="0.216" stop-color="#f7b99e"/><stop offset="0.288" stop-color="#f7bca1"/><stop offset="0.360" stop-color="#f6bda2"/><stop offset="0.432" stop-color="#f6bda2"/><stop offset="0.504" stop-color="#f6bda2"/><stop offset="0.576" stop-color="#f7bca1"/><stop offset="0.647" stop-color="#f7ba9f"/><stop offset="0.719" stop-color="#f7b89c"/><stop offset="0.791" stop-color="#f7b599"/><stop offset="0.863" stop-color="#f7b396"/><stop offset="0.935" stop-color="#f7b093"/><stop offset="1.000" stop-color="#f7af91"/></linearGradient><linearGradient id="g108" x1="0" x2="1" y1="0" y2="0"><stop offset="0.000" stop-color="#f7b79b"/><stop offset="0.072" stop-color="#f7b89c"/><stop offset="0.144" stop-color="#f7ba9f"/><stop offset="0.216" stop-color="#f6bda2"/><stop offset="0.288" stop-color="#f6bea4"/><stop offset="0.360" stop-color="#f6bfa6"/><stop offset="0.432" stop-color="#f5c0a7"/><stop offset="0.504" stop-color="#f5c0a7"/><stop offset="0.576" stop-color="#f6bfa6"/><stop offset="0.647" stop-color="#f6bda2"/><stop offset="0.719" stop-color="#f7ba9f"/><stop offset="0.791" stop-color="#f7b89c"/><stop offset="0.863" stop-color="#f7b599"/><stop offset="0.935" stop-color="#f7b396"/><stop offset="1.000" stop-color="#f7b093"/></linearGradient><linearGradient id="g109" x1="0" x2="1" y1="0" y2="0"><stop offset="0.000" stop-color="#f7ba9f"/><stop offset="0.072" stop-color="#f7bca1"/><stop offset="0.144" stop-color="#f6bea4"/><stop offset="0.216" stop-color="#f6bfa6"/><stop offset="0.288" stop-color="#f5c1a9"/><stop offset="0.360" stop-color="#f5c2aa"/><stop offset="0.432" stop-color="#f5c4ac"/><stop offset="0.504" stop-color="#f5c2aa"/><stop offset="0.576" stop-color="#f5c1a9"/><stop offset="0.647" stop-color="#f6bfa6"/><stop offset="0.719" stop-color="#f6bda2"/><stop offset="0.791" stop-color="#f7ba9f"/><stop offset="0.863" stop-color="#f7b79b"/><stop offset="0.935" stop-color="#f7b497"/><stop offset="1.000" stop-color="#f7b396"/></linearGradient><linearGradient id="g110" x1="0" x2="1" y1="0" y2="0"><stop offset="0.000" stop-color="#f6bea4"/><stop offset="0.072" stop-color="#f6bfa6"/><stop offset="0.144" stop-color="#f5c0a7"/><stop offset="0.216" stop-color="#f5c2aa"/><stop offset="0.288" stop-color="#f4c5ad"/><stop offset="0.360" stop-color="#f4c6af"/><stop offset="0.432" stop-color="#f4c6af"/><stop offset="0.504" stop-color="#f4c6af"/><stop offset="0.576" stop-color="#f4c5ad"/><stop offset="0.647" stop-color="#f5c2aa"/><stop offset="0.719" stop-color="#f6bfa6"/><stop offset="0.791" stop-color="#f7bca1"/><stop offset="0.863" stop-color="#f7b99e"/><stop offset="0.935" stop-color="#f7b599"/><stop offset="1.000" stop-color="#f7b497"/></linearGradient><linearGradient id="g111" x1="0" x2="1" y1="0" y2="0"><stop offset="0.000" stop-color="#f5c0a7"/><stop offset="0.072" stop-color="#f5c1a9"/><stop offset="0.144" stop-color="#f5c4ac"/><stop offset="0.216" stop-color="#f4c6af"/><stop offset="0.288" stop-color="#f3c8b2"/><stop offset="0.360" stop-color="#f2c9b4"/><stop offset="0.432" stop-color="#f2c9b4"/><stop offset="0.504" stop-color="#f2c9b4"/><stop offset="0.576" stop-color="#f3c7b1"/><stop offset="0.647" stop-color="#f4c5ad"/><stop offset="0.719" stop-color="#f5c1a9"/><stop offset="0.791" stop-color="#f6bea4"/><stop offset="0.863" stop-color="#f7ba9f"/><stop offset="0.935" stop-color="#f7b89c"/><stop offset="1.000" stop-color="#f7b599"/></linearGradient><linearGradient id="g112" x1="0" x2="1" y1="0" y2="0"><stop offset="0.000" stop-color="#f5c4ac"/><stop offset="0.072" stop-color="#f4c5ad"/><stop offset="0.144" stop-color="#f3c7b1"/><stop offset="0.216" stop-color="#f2c9b4"/><stop offset="0.288" stop-color="#f2cbb7"/><stop offset="0.360" stop-color="#f1ccb8"/><stop offset="0.432" stop-color="#f1ccb8"/><stop offset="0.504" stop-color="#f1ccb8"/><stop offset="0.576" stop-color="#f2cab5"/><stop offset="0.647" stop-color="#f3c8b2"/><stop offset="0.719" stop-color="#f4c5ad"/><stop offset="0.791" stop-color="#f5c0a7"/><stop offset="0.863" stop-color="#f6bda2"/><stop offset="0.935" stop-color="#f7b99e"/><stop offset="1.000" stop-color="#f7b89c"/></linearGradient><linearGradient id="g113" x1="0" x2="1" y1="0" y2="0"><stop offset="0.000" stop-color="#f3c7b1"/><stop offset="0.072" stop-color="#f3c8b2"/><stop offset="0.144" stop-color="#f2cab5"/><stop offset="0.216" stop-color="#f1ccb8"/><stop offset="0.288" stop-color="#f0cdbb"/><stop offset="0.360" stop-color="#efcebd"/><stop offset="0.432" stop-color="#efcebd"/><stop offset="0.504" stop-color="#efcebd"/><stop offset="0.576" stop-color="#f1cdba"/><stop offset="0.647" stop-color="#f2cab5"/><stop offset="0.719" stop-color="#f3c7b1"/><stop offset="0.791" stop-color="#f5c4ac"/><stop offset="0.863" stop-color="#f6bfa6"/><stop offset="0.935" stop-color="#f7bca1"/><stop offset="1.000" stop-color="#f7ba9f"/></linearGradient><linearGradient id="g114" x1="0" x2="1" y1="0" y2="0"><stop offset="0.000" stop-color="#f2cab5"/><stop offset="0.072" stop-color="#f1ccb8"/><stop offset="0.144" stop-color="#f0cdbb"/><stop offset="0.216" stop-color="#efcfbf"/><stop offset="0.288" stop-color="#eed0c0"/><stop offset="0.360" stop-color="#edd1c2"/><stop offset="0.432" stop-color="#edd2c3"/><stop offset="0.504" stop-color="#edd1c2"/><stop offset="0.576" stop-color="#efcfbf"/><stop offset="0.647" stop-color="#f1cdba"/><stop offset="0.719" stop-color="#f2cab5"/><stop offset="0.791" stop-color="#f4c6af"/><stop offset="0.863" stop-color="#f5c1a9"/><stop offset="0.935" stop-color="#f6bea4"/><stop offset="1.000" stop-color="#f6bda2"/></linearGradient><linearGradient id="g115" x1="0" x2="1" y1="0" y2="0"><stop offset="0.000" stop-color="#f1cdba"/><stop offset="0.072" stop-color="#efcebd"/><stop offset="0.144" stop-color="#eed0c0"/><stop offset="0.216" stop-color="#edd2c3"/><stop offset="0.288" stop-color="#ebd3c6"/><stop offset="0.360" stop-color="#ead4c8"/><stop offset="0.432" stop-color="#ead4c8"/><stop offset="0.504" stop-color="#ebd3c6"/><stop offset="0.576" stop-color="#edd2c3"/><stop offset="0.647" stop-color="#efcfbf"/><stop offset="0.719" stop-color="#f1cdba"/><stop offset="0.791" stop-color="#f2c9b4"/><stop offset="0.863" stop-color="#f5c4ac"/><stop offset="0.935" stop-color="#f5c0a7"/><stop offset="1.000" stop-color="#f6bfa6"/></linearGradient><linearGradient id="g116" x1="0" x2="1" y1="0" y2="0"><stop offset="0.000" stop-color="#eed0c0"/><stop offset="0.072" stop-color="#edd1c2"/><stop offset="0.144" stop-color="#ecd3c5"/><stop offset="0.216" stop-color="#ead4c8"/><stop offset="0.288" stop-color="#e9d5cb"/><stop offset="0.360" stop-color="#e8d6cc"/><stop offset="0.432" stop-color="#e8d6cc"/><stop offset="0.504" stop-color="#e9d5cb"/><stop offset="0.576" stop-color="#ead4c8"/><stop offset="0.647" stop-color="#edd2c3"/><stop offset="0.719" stop-color="#efcfbf"/><stop offset="0.791" stop-color="#f2cbb7"/><stop offset="0.863" stop-color="#f3c7b1"/><stop offset="0.935" stop-color="#f5c2aa"/><stop offset="1.000" stop-color="#f5c1a9"/></linearGradient><linearGradient id="g117" x1="0" x2="1" y1="0" y2="0"><stop offset="0.000" stop-color="#ecd3c5"/><stop offset="0.072" stop-color="#ead4c8"/><stop offset="0.144" stop-color="#e9d5cb"/><stop offset="0.216" stop-color="#e7d7ce"/><stop offset="0.288" stop-color="#e5d8d1"/><stop offset="0.360" stop-color="#e4d9d2"/><stop offset="0.432" stop-color="#e4d9d2"/><stop offset="0.504" stop-color="#e5d8d1"/><stop offset="0.576" stop-color="#e7d7ce"/><stop offset="0.647" stop-color="#ead4c8"/><stop offset="0.719" stop-color="#edd2c3"/><stop offset="0.791" stop-color="#f0cdbb"/><stop offset="0.863" stop-color="#f2cab5"/><stop offset="0.935" stop-color="#f4c6af"/><stop offset="1.000" stop-color="#f5c4ac"/></linearGradient><linearGradient id="g118" x1="0" x2="1" y1="0" y2="0"><stop offset="0.000" stop-color="#e9d5cb"/><stop offset="0.072" stop-color="#e8d6cc"/><stop offset="0.144" stop-color="#e6d7cf"/><stop offset="0.216" stop-color="#e3d9d3"/><stop offset="0.288" stop-color="#e1dad6"/><stop offset="0.360" stop-color="#e0dbd8"/><stop offset="0.432" stop-color="#e0dbd8"/><stop offset="0.504" stop-color="#e2dad5"/><stop offset="0.576" stop-color="#e4d9d2"/><stop offset="0.647" stop-color="#e7d7ce"/><stop offset="0.719" stop-color="#ead4c8"/><stop offset="0.791" stop-color="#eed0c0"/><stop offset="0.863" stop-color="#f1cdba"/><stop offset="0.935" stop-color="#f2c9b4"/><stop offset="1.000" stop-color="#f3c7b1"/></linearGradient><linearGradient id="g119" x1="0" x2="1" y1="0" y2="0"><stop offset="0.000" stop-color="#e6d7cf"/><stop offset="0.072" stop-color="#e4d9d2"/><stop offset="0.144" stop-color="#e2dad5"/><stop offset="0.216" stop-color="#dfdbd9"/><stop offset="0.288" stop-color="#dddcdc"/><stop offset="0.360" stop-color="#dcdddd"/><stop offset="0.432" stop-color="#dddcdc"/><stop offset="0.504" stop-color="#dedcdb"/><stop offset="0.576" stop-color="#e0dbd8"/><stop offset="0.647" stop-color="#e4d9d2"/><stop offset="0.719" stop-color="#e8d6cc"/><stop offset="0.791" stop-color="#ebd3c6"/><stop offset="0.863" stop-color="#efcfbf"/><stop offset="0.935" stop-color="#f1ccb8"/><stop offset="1.000" stop-color="#f2cab5"/></linearGradient><linearGradient id="g120" x1="0" x2="1" y1="0" y2="0"><stop offset="0.000" stop-color="#e2dad5"/><stop offset="0.072" stop-color="#e1dad6"/><stop offset="0.144" stop-color="#dedcdb"/><stop offset="0.216" stop-color="#dcdddd"/><stop offset="0.288" stop-color="#d9dce1"/><stop offset="0.360" stop-color="#d8dce2"/><stop offset="0.432" stop-color="#d9dce1"/><stop offset="0.504" stop-color="#dadce0"/><stop offset="0.576" stop-color="#dddcdc"/><stop offset="0.647" stop-color="#e0dbd8"/><stop offset="0.719" stop-color="#e4d9d2"/><stop offset="0.791" stop-color="#e9d5cb"/><stop offset="0.863" stop-color="#edd2c3"/><stop offset="0.935" stop-color="#efcebd"/><stop offset="1.000" stop-color="#f1cdba"/></linearGradient><linearGradient id="g121" x1="0" x2="1" y1="0" y2="0"><stop offset="0.000" stop-color="#dfdbd9"/><stop offset="0.072" stop-color="#dddcdc"/><stop offset="0.144" stop-color="#dadce0"/><stop offset="0.216" stop-color="#d8dce2"/><stop offset="0.288" stop-color="#d5dbe5"/><stop offset="0.360" stop-color="#d4dbe6"/><stop offset="0.432" stop-color="#d5dbe5"/><stop offset="0.504" stop-color="#d6dce4"/><stop offset="0.576" stop-color="#d9dce1"/><stop offset="0.647" stop-color="#dddcdc"/><stop offset="0.719" stop-color="#e1dad6"/><stop offset="0.791" stop-color="#e5d8d1"/><stop offset="0.863" stop-color="#ead5c9"/><stop offset="0.935" stop-color="#edd2c3"/><stop offset="1.000" stop-color="#eed0c0"/></linearGradient><linearGradient id="g122" x1="0" x2="1" y1="0" y2="0"><stop offset="0.000" stop-color="#dbdcde"/><stop offset="0.072" stop-color="#d9dce1"/><stop offset="0.144" stop-color="#d6dce4"/><stop offset="0.216" stop-color="#d4dbe6"/><stop offset="0.288" stop-color="#d1dae9"/><stop offset="0.360" stop-color="#cfdaea"/><stop offset="0.432" stop-color="#d1dae9"/><stop offset="0.504" stop-color="#d2dbe8"/><stop offset="0.576" stop-color="#d5dbe5"/><stop offset="0.647" stop-color="#d9dce1"/><stop offset="0.719" stop-color="#dddcdc"/><stop offset="0.791" stop-color="#e1dad6"/><stop offset="0.863" stop-color="#e6d7cf"/><stop offset="0.935" stop-color="#ead5c9"/><stop offset="1.000" stop-color="#ebd3c6"/></linearGradient><linearGradient id="g123" x1="0" x2="1" y1="0" y2="0"><stop offset="0.000" stop-color="#d7dce3"/><stop offset="0.072" stop-color="#d5dbe5"/><stop offset="0.144" stop-color="#d2dbe8"/><stop offset="0.216" stop-color="#cedaeb"/><stop offset="0.288" stop-color="#ccd9ed"/><stop offset="0.360" stop-color="#cbd8ee"/><stop offset="0.432" stop-color="#cbd8ee"/><stop offset="0.504" stop-color="#cdd9ec"/><stop offset="0.576" stop-color="#d1dae9"/><stop offset="0.647" stop-color="#d5dbe5"/><stop offset="0.719" stop-color="#d9dce1"/><stop offset="0.791" stop-color="#dedcdb"/><stop offset="0.863" stop-color="#e2dad5"/><stop offset="0.935" stop-color="#e6d7cf"/><stop offset="1.000" stop-color="#e9d5cb"/></linearGradient><linearGradient id="g124" x1="0" x2="1" y1="0" y2="0"><stop offset="0.000" stop-color="#d4dbe6"/><stop offset="0.072" stop-color="#d2dbe8"/><stop offset="0.144" stop-color="#cdd9ec"/><stop offset="0.216" stop-color="#cad8ef"/><stop offset="0.288" stop-color="#c6d6f1"/><stop offset="0.360" stop-color="#c5d6f2"/><stop offset="0.432" stop-color="#c6d6f1"/><stop offset="0.504" stop-color="#c9d7f0"/><stop offset="0.576" stop-color="#ccd9ed"/><stop offset="0.647" stop-color="#d1dae9"/><stop offset="0.719" stop-color="#d5dbe5"/><stop offset="0.791" stop-color="#dadce0"/><stop offset="0.863" stop-color="#dedcdb"/><stop offset="0.935" stop-color="#e2dad5"/><stop offset="1.000" stop-color="#e4d9d2"/></linearGradient><linearGradient id="g125" x1="0" x2="1" y1="0" y2="0"><stop offset="0.000" stop-color="#cfdaea"/><stop offset="0.072" stop-color="#cdd9ec"/><stop offset="0.144" stop-color="#c9d7f0"/><stop offset="0.216" stop-color="#c5d6f2"/><stop offset="0.288" stop-color="#c1d4f4"/><stop offset="0.360" stop-color="#c0d4f5"/><stop offset="0.432" stop-color="#c1d4f4"/><stop offset="0.504" stop-color="#c4d5f3"/><stop offset="0.576" stop-color="#c7d7f0"/><stop offset="0.647" stop-color="#ccd9ed"/><stop offset="0.719" stop-color="#d1dae9"/><stop offset="0.791" stop-color="#d5dbe5"/><stop offset="0.863" stop-color="#dadce0"/><stop offset="0.935" stop-color="#dddcdc"/><stop offset="1.000" stop-color="#e0dbd8"/></linearGradient><linearGradient id="g126" x1="0" x2="1" y1="0" y2="0"><stop offset="0.000" stop-color="#cbd8ee"/><stop offset="0.072" stop-color="#c9d7f0"/><stop offset="0.144" stop-color="#c4d5f3"/><stop offset="0.216" stop-color="#bfd3f6"/><stop offset="0.288" stop-color="#bbd1f8"/><stop offset="0.360" stop-color="#bad0f8"/><stop offset="0.432" stop-color="#bbd1f8"/><stop offset="0.504" stop-color="#bfd3f6"/><stop offset="0.576" stop-color="#c3d5f4"/><stop offset="0.647" stop-color="#c7d7f0"/><stop offset="0.719" stop-color="#ccd9ed"/><stop offset="0.791" stop-color="#d1dae9"/><stop offset="0.863" stop-color="#d5dbe5"/><stop offset="0.935" stop-color="#d9dce1"/><stop offset="1.000" stop-color="#dcdddd"/></linearGradient><linearGradient id="g127" x1="0" x2="1" y1="0" y2="0"><stop offset="0.000" stop-color="#c6d6f1"/><stop offset="0.072" stop-color="#c3d5f4"/><stop offset="0.144" stop-color="#bed2f6"/><stop offset="0.216" stop-color="#b9d0f9"/><stop offset="0.288" stop-color="#b5cdfa"/><stop offset="0.360" stop-color="#b3cdfb"/><stop offset="0.432" stop-color="#b5cdfa"/><stop offset="0.504" stop-color="#b9d0f9"/><stop offset="0.576" stop-color="#bed2f6"/><stop offset="0.647" stop-color="#c3d5f4"/><stop offset="0.719" stop-color="#c7d7f0"/><stop offset="0.791" stop-color="#ccd9ed"/><stop offset="0.863" stop-color="#d1dae9"/><stop offset="0.935" stop-color="#d5dbe5"/><stop offset="1.000" stop-color="#d8dce2"/></linearGradient><linearGradient id="g128" x1="0" x2="1" y1="0" y2="0"><stop offset="0.000" stop-color="#c1d4f4"/><stop offset="0.072" stop-color="#bed2f6"/><stop offset="0.144" stop-color="#b9d0f9"/><stop offset="0.216" stop-color="#b3cdfb"/><stop offset="0.288" stop-color="#afcafc"/><stop offset="0.360" stop-color="#aec9fc"/><stop offset="0.432" stop-color="#afcafc"/><stop offset="0.504" stop-color="#b3cdfb"/><stop offset="0.576" stop-color="#b9d0f9"/><stop offset="0.647" stop-color="#bed2f6"/><stop offset="0.719" stop-color="#c3d5f4"/><stop offset="0.791" stop-color="#c7d7f0"/><stop offset="0.863" stop-color="#ccd9ed"/><stop offset="0.935" stop-color="#cfdaea"/><stop offset="1.000" stop-color="#d4dbe6"/></linearGradient><linearGradient id="g129" x1="0" x2="1" y1="0" y2="0"><stop offset="0.000" stop-color="#bbd1f8"/><stop offset="0.072" stop-color="#b9d0f9"/><stop offset="0.144" stop-color="#b2ccfb"/><stop offset="0.216" stop-color="#adc9fd"/><stop offset="0.288" stop-color="#a9c6fd"/><stop offset="0.360" stop-color="#a7c5fe"/><stop offset="0.432" stop-color="#a9c6fd"/><stop offset="0.504" stop-color="#aec9fc"/><stop offset="0.576" stop-color="#b3cdfb"/><stop offset="0.647" stop-color="#b9d0f9"/><stop offset="0.719" stop-color="#bed2f6"/><stop offset="0.791" stop-color="#c3d5f4"/><stop offset="0.863" stop-color="#c7d7f0"/><stop offset="0.935" stop-color="#cbd8ee"/><stop offset="1.000" stop-color="#cfdaea"/></linearGradient><linearGradient id="g130" x1="0" x2="1" y1="0" y2="0"><stop offset="0.000" stop-color="#b5cdfa"/><stop offset="0.072" stop-color="#b2ccfb"/><stop offset="0.144" stop-color="#abc8fd"/><stop offset="0.216" stop-color="#a6c4fe"/><stop offset="0.288" stop-color="#a2c1ff"/><stop offset="0.360" stop-color="#a1c0ff"/><stop offset="0.432" stop-color="#a2c1ff"/><stop offset="0.504" stop-color="#a7c5fe"/><stop offset="0.576" stop-color="#aec9fc"/><stop offset="0.647" stop-color="#b3cdfb"/><stop offset="0.719" stop-color="#b9d0f9"/><stop offset="0.791" stop-color="#bed2f6"/><stop offset="0.863" stop-color="#c3d5f4"/><stop offset="0.935" stop-color="#c6d6f1"/><stop offset="1.000" stop-color="#cbd8ee"/></linearGradient><linearGradient id="g131" x1="0" x2="1" y1="0" y2="0"><stop offset="0.000" stop-color="#aec9fc"/><stop offset="0.072" stop-color="#abc8fd"/><stop offset="0.144" stop-color="#a5c3fe"/><stop offset="0.216" stop-color="#9fbfff"/><stop offset="0.288" stop-color="#9bbcff"/><stop offset="0.360" stop-color="#9abbff"/><stop offset="0.432" stop-color="#9dbdff"/><stop offset="0.504" stop-color="#a2c1ff"/><stop offset="0.576" stop-color="#a9c6fd"/><stop offset="0.647" stop-color="#aec9fc"/><stop offset="0.719" stop-color="#b3cdfb"/><stop offset="0.791" stop-color="#b9d0f9"/><stop offset="0.863" stop-color="#bed2f6"/><stop offset="0.935" stop-color="#c1d4f4"/><stop offset="1.000" stop-color="#c6d6f1"/></linearGradient><linearGradient id="g132" x1="0" x2="1" y1="0" y2="0"><stop offset="0.000" stop-color="#a7c5fe"/><stop offset="0.072" stop-color="#a5c3fe"/><stop offset="0.144" stop-color="#9ebeff"/><stop offset="0.216" stop-color="#98b9ff"/><stop offset="0.288" stop-color="#94b6ff"/><stop offset="0.360" stop-color="#93b5fe"/><stop offset="0.432" stop-color="#96b7ff"/><stop offset="0.504" stop-color="#9bbcff"/><stop offset="0.576" stop-color="#a2c1ff"/><stop offset="0.647" stop-color="#a9c6fd"/><stop offset="0.719" stop-color="#afcafc"/><stop offset="0.791" stop-color="#b5cdfa"/><stop offset="0.863" stop-color="#b9d0f9"/><stop offset="0.935" stop-color="#bcd2f7"/><stop offset="1.000" stop-color="#c1d4f4"/></linearGradient><linearGradient id="g133" x1="0" x2="1" y1="0" y2="0"><stop offset="0.000" stop-color="#a1c0ff"/><stop offset="0.072" stop-color="#9dbdff"/><stop offset="0.144" stop-color="#97b8ff"/><stop offset="0.216" stop-color="#93b5fe"/><stop offset="0.288" stop-color="#8db0fe"/><stop offset="0.360" stop-color="#8caffe"/><stop offset="0.432" stop-color="#8fb1fe"/><stop offset="0.504" stop-color="#96b7ff"/><stop offset="0.576" stop-color="#9ebeff"/><stop offset="0.647" stop-color="#a5c3fe"/><stop offset="0.719" stop-color="#aac7fd"/><stop offset="0.791" stop-color="#afcafc"/><stop offset="0.863" stop-color="#b3cdfb"/><stop offset="0.935" stop-color="#b9d0f9"/><stop offset="1.000" stop-color="#bed2f6"/></linearGradient><linearGradient id="g134" x1="0" x2="1" y1="0" y2="0"><stop offset="0.000" stop-color="#9abbff"/><stop offset="0.072" stop-color="#94b6ff"/><stop offset="0.144" stop-color="#90b2fe"/><stop offset="0.216" stop-color="#8caffe"/><stop offset="0.288" stop-color="#88abfd"/><stop offset="0.360" stop-color="#86a9fc"/><stop offset="0.432" stop-color="#89acfd"/><stop offset="0.504" stop-color="#90b2fe"/><stop offset="0.576" stop-color="#98b9ff"/><stop offset="0.647" stop-color="#9fbfff"/><stop offset="0.719" stop-color="#a6c4fe"/><stop offset="0.791" stop-color="#abc8fd"/><stop offset="0.863" stop-color="#afcafc"/><stop offset="0.935" stop-color="#b3cdfb"/><stop offset="1.000" stop-color="#bad0f8"/></linearGradient><linearGradient id="g135" x1="0" x2="1" y1="0" y2="0"><stop offset="0.000" stop-color="#92b4fe"/><stop offset="0.072" stop-color="#8db0fe"/><stop offset="0.144" stop-color="#8badfd"/><stop offset="0.216" stop-color="#86a9fc"/><stop offset="0.288" stop-color="#82a6fb"/><stop offset="0.360" stop-color="#80a3fa"/><stop offset="0.432" stop-color="#84a7fc"/><stop offset="0.504" stop-color="#8badfd"/><stop offset="0.576" stop-color="#93b5fe"/><stop offset="0.647" stop-color="#9bbcff"/><stop offset="0.719" stop-color="#a2c1ff"/><stop offset="0.791" stop-color="#a7c5fe"/><stop offset="0.863" stop-color="#abc8fd"/><stop offset="0.935" stop-color="#afcafc"/><stop offset="1.000" stop-color="#b6cefa"/></linearGradient><linearGradient id="g136" x1="0" x2="1" y1="0" y2="0"><stop offset="0.000" stop-color="#8caffe"/><stop offset="0.072" stop-color="#86a9fc"/><stop offset="0.144" stop-color="#84a7fc"/><stop offset="0.216" stop-color="#81a4fb"/><stop offset="0.288" stop-color="#7da0f9"/><stop offset="0.360" stop-color="#7a9df8"/><stop offset="0.432" stop-color="#7ea1fa"/><stop offset="0.504" stop-color="#85a8fc"/><stop offset="0.576" stop-color="#8fb1fe"/><stop offset="0.647" stop-color="#96b7ff"/><stop offset="0.719" stop-color="#9dbdff"/><stop offset="0.791" stop-color="#a3c2fe"/><stop offset="0.863" stop-color="#a7c5fe"/><stop offset="0.935" stop-color="#abc8fd"/><stop offset="1.000" stop-color="#b2ccfb"/></linearGradient><linearGradient id="g137" x1="0" x2="1" y1="0" y2="0"><stop offset="0.000" stop-color="#85a8fc"/><stop offset="0.072" stop-color="#81a4fb"/><stop offset="0.144" stop-color="#7ea1fa"/><stop offset="0.216" stop-color="#7b9ff9"/><stop offset="0.288" stop-color="#779af7"/><stop offset="0.360" stop-color="#7597f6"/><stop offset="0.432" stop-color="#799cf8"/><stop offset="0.504" stop-color="#81a4fb"/><stop offset="0.576" stop-color="#8badfd"/><stop offset="0.647" stop-color="#92b4fe"/><stop offset="0.719" stop-color="#9abbff"/><stop offset="0.791" stop-color="#9fbfff"/><stop offset="0.863" stop-color="#a5c3fe"/><stop offset="0.935" stop-color="#a9c6fd"/><stop offset="1.000" stop-color="#afcafc"/></linearGradient><linearGradient id="g138" x1="0" x2="1" y1="0" y2="0"><stop offset="0.000" stop-color="#80a3fa"/><stop offset="0.072" stop-color="#7b9ff9"/><stop offset="0.144" stop-color="#7a9df8"/><stop offset="0.216" stop-color="#779af7"/><stop offset="0.288" stop-color="#7396f5"/><stop offset="0.360" stop-color="#7093f3"/><stop offset="0.432" stop-color="#7597f6"/><stop offset="0.504" stop-color="#7da0f9"/><stop offset="0.576" stop-color="#86a9fc"/><stop offset="0.647" stop-color="#8fb1fe"/><stop offset="0.719" stop-color="#96b7ff"/><stop offset="0.791" stop-color="#9dbdff"/><stop offset="0.863" stop-color="#a2c1ff"/><stop offset="0.935" stop-color="#a6c4fe"/><stop offset="1.000" stop-color="#adc9fd"/></linearGradient><linearGradient id="g139" x1="0" x2="1" y1="0" y2="0"><stop offset="0.000" stop-color="#7b9ff9"/><stop offset="0.072" stop-color="#779af7"/><stop offset="0.144" stop-color="#7597f6"/><stop offset="0.216" stop-color="#7396f5"/><stop offset="0.288" stop-color="#6f92f3"/><stop offset="0.360" stop-color="#6e90f2"/><stop offset="0.432" stop-color="#7093f3"/><stop offset="0.504" stop-color="#799cf8"/><stop offset="0.576" stop-color="#82a6fb"/><stop offset="0.647" stop-color="#8badfd"/><stop offset="0.719" stop-color="#92b4fe"/><stop offset="0.791" stop-color="#98b9ff"/><stop offset="0.863" stop-color="#9fbfff"/><stop offset="0.935" stop-color="#a5c3fe"/><stop offset="1.000" stop-color="#aac7fd"/></linearGradient><linearGradient id="g140" x1="0" x2="1" y1="0" y2="0"><stop offset="0.000" stop-color="#779af7"/><stop offset="0.072" stop-color="#7396f5"/><stop offset="0.144" stop-color="#7093f3"/><stop offset="0.216" stop-color="#6f92f3"/><stop offset="0.288" stop-color="#6c8ff1"/><stop offset="0.360" stop-color="#6b8df0"/><stop offset="0.432" stop-color="#6e90f2"/><stop offset="0.504" stop-color="#7699f6"/><stop offset="0.576" stop-color="#7ea1fa"/><stop offset="0.647" stop-color="#86a9fc"/><stop offset="0.719" stop-color="#8fb1fe"/><stop offset="0.791" stop-color="#96b7ff"/><stop offset="0.863" stop-color="#9dbdff"/><stop offset="0.935" stop-color="#a2c1ff"/><stop offset="1.000" stop-color="#a9c6fd"/></linearGradient><linearGradient id="g141" x1="0" x2="1" y1="0" y2="0"><stop offset="0.000" stop-color="#7396f5"/><stop offset="0.072" stop-color="#6f92f3"/><stop offset="0.144" stop-color="#6e90f2"/><stop offset="0.216" stop-color="#6c8ff1"/><stop offset="0.288" stop-color="#6b8df0"/><stop offset="0.360" stop-color="#688aef"/><stop offset="0.432" stop-color="#6b8df0"/><stop offset="0.504" stop-color="#7396f5"/><stop offset="0.576" stop-color="#7b9ff9"/><stop offset="0.647" stop-color="#84a7fc"/><stop offset="0.719" stop-color="#8caffe"/><stop offset="0.791" stop-color="#93b5fe"/><stop offset="0.863" stop-color="#9abbff"/><stop offset="0.935" stop-color="#a1c0ff"/><stop offset="1.000" stop-color="#a6c4fe"/></linearGradient><linearGradient id="g142" x1="0" x2="1" y1="0" y2="0"><stop offset="0.000" stop-color="#6f92f3"/><stop offset="0.072" stop-color="#6c8ff1"/><stop offset="0.144" stop-color="#6a8bef"/><stop offset="0.216" stop-color="#6a8bef"/><stop offset="0.288" stop-color="#688aef"/><stop offset="0.360" stop-color="#6788ee"/><stop offset="0.432" stop-color="#6a8bef"/><stop offset="0.504" stop-color="#7093f3"/><stop offset="0.576" stop-color="#799cf8"/><stop offset="0.647" stop-color="#81a4fb"/><stop offset="0.719" stop-color="#89acfd"/><stop offset="0.791" stop-color="#90b2fe"/><stop offset="0.863" stop-color="#97b8ff"/><stop offset="0.935" stop-color="#9fbfff"/><stop offset="1.000" stop-color="#a5c3fe"/></linearGradient><linearGradient id="g143" x1="0" x2="1" y1="0" y2="0"><stop offset="0.000" stop-color="#6b8df0"/><stop offset="0.072" stop-color="#688aef"/><stop offset="0.144" stop-color="#6788ee"/><stop offset="0.216" stop-color="#6687ed"/><stop offset="0.288" stop-color="#6687ed"/><stop offset="0.360" stop-color="#6687ed"/><stop offset="0.432" stop-color="#6788ee"/><stop offset="0.504" stop-color="#6e90f2"/><stop offset="0.576" stop-color="#7699f6"/><stop offset="0.647" stop-color="#7ea1fa"/><stop offset="0.719" stop-color="#85a8fc"/><stop offset="0.791" stop-color="#8db0fe"/><stop offset="0.863" stop-color="#96b7ff"/><stop offset="0.935" stop-color="#9dbdff"/><stop offset="1.000" stop-color="#a2c1ff"/></linearGradient><linearGradient id="g144" x1="0" x2="1" y1="0" y2="0"><stop offset="0.000" stop-color="#688aef"/><stop offset="0.072" stop-color="#6687ed"/><stop offset="0.144" stop-color="#6485ec"/><stop offset="0.216" stop-color="#6384eb"/><stop offset="0.288" stop-color="#6485ec"/><stop offset="0.360" stop-color="#6384eb"/><stop offset="0.432" stop-color="#6687ed"/><stop offset="0.504" stop-color="#6b8df0"/><stop offset="0.576" stop-color="#7396f5"/><stop offset="0.647" stop-color="#7b9ff9"/><stop offset="0.719" stop-color="#82a6fb"/><stop offset="0.791" stop-color="#8badfd"/><stop offset="0.863" stop-color="#93b5fe"/><stop offset="0.935" stop-color="#9abbff"/><stop offset="1.000" stop-color="#9fbfff"/></linearGradient><linearGradient id="g145" x1="0" x2="1" y1="0" y2="0"><stop offset="0.000" stop-color="#6485ec"/><stop offset="0.072" stop-color="#6384eb"/><stop offset="0.144" stop-color="#6282ea"/><stop offset="0.216" stop-color="#6282ea"/><stop offset="0.288" stop-color="#6282ea"/><stop offset="0.360" stop-color="#6282ea"/><stop offset="0.432" stop-color="#6485ec"/><stop offset="0.504" stop-color="#6a8bef"/><stop offset="0.576" stop-color="#7093f3"/><stop offset="0.647" stop-color="#799cf8"/><stop offset="0.719" stop-color="#81a4fb"/><stop offset="0.791" stop-color="#88abfd"/><stop offset="0.863" stop-color="#90b2fe"/><stop offset="0.935" stop-color="#98b9ff"/><stop offset="1.000" stop-color="#9dbdff"/></linearGradient><filter id="blur_br" filterUnits="userSpaceOnUse" x="278.0" y="137.6" width="139.0" height="146.4"><feGaussianBlur stdDeviation="1.30"/></filter><clipPath id="clip_br"><rect x="283.00" y="142.60" width="129.00" height="136.40"/></clipPath><linearGradient id="cbg" x1="0" x2="0" y1="0" y2="1"><stop offset="0.000" stop-color="#b40426"/><stop offset="0.025" stop-color="#bd1f2d"/><stop offset="0.050" stop-color="#c53334"/><stop offset="0.075" stop-color="#cf453c"/><stop offset="0.100" stop-color="#d65244"/><stop offset="0.125" stop-color="#dd5f4b"/><stop offset="0.150" stop-color="#e36c55"/><stop offset="0.175" stop-color="#e9785d"/><stop offset="0.200" stop-color="#ee8468"/><stop offset="0.225" stop-color="#f18f71"/><stop offset="0.250" stop-color="#f4987a"/><stop offset="0.275" stop-color="#f6a385"/><stop offset="0.300" stop-color="#f7ac8e"/><stop offset="0.325" stop-color="#f7b599"/><stop offset="0.350" stop-color="#f6bda2"/><stop offset="0.375" stop-color="#f5c4ac"/><stop offset="0.400" stop-color="#f2cbb7"/><stop offset="0.425" stop-color="#eed0c0"/><stop offset="0.450" stop-color="#e9d5cb"/><stop offset="0.475" stop-color="#e3d9d3"/><stop offset="0.500" stop-color="#dddcdc"/><stop offset="0.525" stop-color="#d6dce4"/><stop offset="0.550" stop-color="#cfdaea"/><stop offset="0.575" stop-color="#c7d7f0"/><stop offset="0.600" stop-color="#c0d4f5"/><stop offset="0.625" stop-color="#b9d0f9"/><stop offset="0.650" stop-color="#afcafc"/><stop offset="0.675" stop-color="#a7c5fe"/><stop offset="0.700" stop-color="#9ebeff"/><stop offset="0.725" stop-color="#96b7ff"/><stop offset="0.750" stop-color="#8db0fe"/><stop offset="0.775" stop-color="#84a7fc"/><stop offset="0.800" stop-color="#7b9ff9"/><stop offset="0.825" stop-color="#7295f4"/><stop offset="0.850" stop-color="#6a8bef"/><stop offset="0.875" stop-color="#6282ea"/><stop offset="0.900" stop-color="#5977e3"/><stop offset="0.925" stop-color="#516ddb"/><stop offset="0.950" stop-color="#4961d2"/><stop offset="0.975" stop-color="#4257c9"/><stop offset="1.000" stop-color="#3b4cc0"/></linearGradient></defs><g clip-path="url(#clip_tl)">
<g filter="url(#blur_tl)">
<rect x="30.00" y="-4.60" width="245.50" height="3.30" fill="url(#g1)"/>
<rect x="30.00" y="-1.60" width="245.50" height="3.30" fill="url(#g2)"/>
<rect x="30.00" y="1.40" width="245.50" height="3.30" fill="url(#g3)"/>
<rect x="30.00" y="4.40" width="245.50" height="3.30" fill="url(#g4)"/>
<rect x="30.00" y="7.40" width="245.50" height="3.30" fill="url(#g5)"/>
<rect x="30.00" y="10.40" width="245.50" height="3.30" fill="url(#g6)"/>
<rect x="30.00" y="13.40" width="245.50" height="3.30" fill="url(#g7)"/>
<rect x="30.00" y="16.40" width="245.50" height="3.30" fill="url(#g8)"/>
<rect x="30.00" y="19.40" width="245.50" height="3.30" fill="url(#g9)"/>
<rect x="30.00" y="22.40" width="245.50" height="3.30" fill="url(#g10)"/>
<rect x="30.00" y="25.40" width="245.50" height="3.30" fill="url(#g11)"/>
<rect x="30.00" y="28.40" width="245.50" height="3.30" fill="url(#g12)"/>
<rect x="30.00" y="31.40" width="245.50" height="3.30" fill="url(#g13)"/>
<rect x="30.00" y="34.40" width="245.50" height="3.30" fill="url(#g14)"/>
<rect x="30.00" y="37.40" width="245.50" height="3.30" fill="url(#g15)"/>
<rect x="30.00" y="40.40" width="245.50" height="3.30" fill="url(#g16)"/>
<rect x="30.00" y="43.40" width="245.50" height="3.30" fill="url(#g17)"/>
<rect x="30.00" y="46.40" width="245.50" height="3.30" fill="url(#g18)"/>
<rect x="30.00" y="49.40" width="245.50" height="3.30" fill="url(#g19)"/>
<rect x="30.00" y="52.40" width="245.50" height="3.30" fill="url(#g20)"/>
<rect x="30.00" y="55.40" width="245.50" height="3.30" fill="url(#g21)"/>
<rect x="30.00" y="58.40" width="245.50" height="3.30" fill="url(#g22)"/>
<rect x="30.00" y="61.40" width="245.50" height="3.30" fill="url(#g23)"/>
<rect x="30.00" y="64.40" width="245.50" height="3.30" fill="url(#g24)"/>
<rect x="30.00" y="67.40" width="245.50" height="3.30" fill="url(#g25)"/>
<rect x="30.00" y="70.40" width="245.50" height="3.30" fill="url(#g26)"/>
<rect x="30.00" y="73.40" width="245.50" height="3.30" fill="url(#g27)"/>
<rect x="30.00" y="76.40" width="245.50" height="3.30" fill="url(#g28)"/>
<rect x="30.00" y="79.40" width="245.50" height="3.30" fill="url(#g29)"/>
<rect x="30.00" y="82.40" width="245.50" height="3.30" fill="url(#g30)"/>
<rect x="30.00" y="85.40" width="245.50" height="3.30" fill="url(#g31)"/>
<rect x="30.00" y="88.40" width="245.50" height="3.30" fill="url(#g32)"/>
<rect x="30.00" y="91.40" width="245.50" height="3.30" fill="url(#g33)"/>
<rect x="30.00" y="94.40" width="245.50" height="3.30" fill="url(#g34)"/>
<rect x="30.00" y="97.40" width="245.50" height="3.30" fill="url(#g35)"/>
<rect x="30.00" y="100.40" width="245.50" height="3.30" fill="url(#g36)"/>
<rect x="30.00" y="103.40" width="245.50" height="3.30" fill="url(#g37)"/>
<rect x="30.00" y="106.40" width="245.50" height="3.30" fill="url(#g38)"/>
<rect x="30.00" y="109.40" width="245.50" height="3.30" fill="url(#g39)"/>
<rect x="30.00" y="112.40" width="245.50" height="3.30" fill="url(#g40)"/>
<rect x="30.00" y="115.40" width="245.50" height="3.30" fill="url(#g41)"/>
<rect x="30.00" y="118.40" width="245.50" height="3.30" fill="url(#g42)"/>
<rect x="30.00" y="121.40" width="245.50" height="3.30" fill="url(#g43)"/>
<rect x="30.00" y="124.40" width="245.50" height="3.30" fill="url(#g44)"/>
<rect x="30.00" y="127.40" width="245.50" height="3.30" fill="url(#g45)"/>
<rect x="30.00" y="130.40" width="245.50" height="3.30" fill="url(#g46)"/>
<rect x="30.00" y="133.40" width="245.50" height="2.00" fill="url(#g47)"/>
</g>
<circle cx="54.7" cy="71.0" r="3.45" fill="#a9c6fd"/>
<circle cx="54.7" cy="71.0" r="3.45" fill="none" stroke="#383838" stroke-width="1.25" stroke-opacity="0.85"/>
<circle cx="70.5" cy="72.6" r="3.45" fill="#8db0fe"/>
<circle cx="70.5" cy="72.6" r="3.45" fill="none" stroke="#383838" stroke-width="1.25" stroke-opacity="0.85"/>
<circle cx="87.8" cy="59.2" r="3.45" fill="#c6d6f1"/>
<circle cx="87.8" cy="59.2" r="3.45" fill="none" stroke="#383838" stroke-width="1.25" stroke-opacity="0.85"/>
<circle cx="96.8" cy="55.5" r="3.45" fill="#d7dce3"/>
<circle cx="96.8" cy="55.5" r="3.45" fill="none" stroke="#383838" stroke-width="1.25" stroke-opacity="0.85"/>
<circle cx="107.6" cy="54.7" r="3.45" fill="#d7dce3"/>
<circle cx="107.6" cy="54.7" r="3.45" fill="none" stroke="#383838" stroke-width="1.25" stroke-opacity="0.85"/>
<circle cx="109.1" cy="65.6" r="3.45" fill="#bad0f8"/>
<circle cx="109.1" cy="65.6" r="3.45" fill="none" stroke="#383838" stroke-width="1.25" stroke-opacity="0.85"/>
<circle cx="115.7" cy="66.6" r="3.45" fill="#f4c6af"/>
<circle cx="115.7" cy="66.6" r="3.45" fill="none" stroke="#383838" stroke-width="1.25" stroke-opacity="0.85"/>
<circle cx="113.7" cy="72.5" r="3.45" fill="#c0d4f5"/>
<circle cx="113.7" cy="72.5" r="3.45" fill="none" stroke="#383838" stroke-width="1.25" stroke-opacity="0.85"/>
<circle cx="90.0" cy="77.3" r="3.45" fill="#f4c6af"/>
<circle cx="90.0" cy="77.3" r="3.45" fill="none" stroke="#383838" stroke-width="1.25" stroke-opacity="0.85"/>
<circle cx="105.4" cy="80.3" r="3.45" fill="#f6bda2"/>
<circle cx="105.4" cy="80.3" r="3.45" fill="none" stroke="#383838" stroke-width="1.25" stroke-opacity="0.85"/>
<circle cx="102.5" cy="83.4" r="3.45" fill="#97b8ff"/>
<circle cx="102.5" cy="83.4" r="3.45" fill="none" stroke="#383838" stroke-width="1.25" stroke-opacity="0.85"/>
<circle cx="99.7" cy="81.5" r="3.45" fill="#e9d5cb"/>
<circle cx="99.7" cy="81.5" r="3.45" fill="none" stroke="#383838" stroke-width="1.25" stroke-opacity="0.85"/>
<circle cx="116.2" cy="89.6" r="3.45" fill="#e36c55"/>
<circle cx="116.2" cy="89.6" r="3.45" fill="none" stroke="#383838" stroke-width="1.25" stroke-opacity="0.85"/>
<circle cx="112.4" cy="111.3" r="3.45" fill="#ee8468"/>
<circle cx="112.4" cy="111.3" r="3.45" fill="none" stroke="#383838" stroke-width="1.25" stroke-opacity="0.85"/>
<circle cx="147.2" cy="11.2" r="3.45" fill="#edd2c3"/>
<circle cx="147.2" cy="11.2" r="3.45" fill="none" stroke="#383838" stroke-width="1.25" stroke-opacity="0.85"/>
<circle cx="150.3" cy="19.8" r="3.45" fill="#ee8468"/>
<circle cx="150.3" cy="19.8" r="3.45" fill="none" stroke="#383838" stroke-width="1.25" stroke-opacity="0.85"/>
<circle cx="155.3" cy="24.9" r="3.45" fill="#ee8468"/>
<circle cx="155.3" cy="24.9" r="3.45" fill="none" stroke="#383838" stroke-width="1.25" stroke-opacity="0.85"/>
<circle cx="168.9" cy="22.1" r="3.45" fill="#ee8468"/>
<circle cx="168.9" cy="22.1" r="3.45" fill="none" stroke="#383838" stroke-width="1.25" stroke-opacity="0.85"/>
<circle cx="189.4" cy="27.0" r="3.45" fill="#f7ac8e"/>
<circle cx="189.4" cy="27.0" r="3.45" fill="none" stroke="#383838" stroke-width="1.25" stroke-opacity="0.85"/>
<circle cx="186.6" cy="36.2" r="3.45" fill="#f6bda2"/>
<circle cx="186.6" cy="36.2" r="3.45" fill="none" stroke="#383838" stroke-width="1.25" stroke-opacity="0.85"/>
<circle cx="191.7" cy="35.0" r="3.45" fill="#dddcdc"/>
<circle cx="191.7" cy="35.0" r="3.45" fill="none" stroke="#383838" stroke-width="1.25" stroke-opacity="0.85"/>
<circle cx="197.0" cy="36.7" r="3.45" fill="#d0473d"/>
<circle cx="197.0" cy="36.7" r="3.45" fill="none" stroke="#383838" stroke-width="1.25" stroke-opacity="0.85"/>
<circle cx="124.0" cy="32.6" r="3.45" fill="#c6d6f1"/>
<circle cx="124.0" cy="32.6" r="3.45" fill="none" stroke="#383838" stroke-width="1.25" stroke-opacity="0.85"/>
<circle cx="145.3" cy="36.5" r="3.45" fill="#e2dad5"/>
<circle cx="145.3" cy="36.5" r="3.45" fill="none" stroke="#383838" stroke-width="1.25" stroke-opacity="0.85"/>
<circle cx="148.3" cy="39.3" r="3.45" fill="#d5dbe5"/>
<circle cx="148.3" cy="39.3" r="3.45" fill="none" stroke="#383838" stroke-width="1.25" stroke-opacity="0.85"/>
<circle cx="160.6" cy="40.1" r="3.45" fill="#d5dbe5"/>
<circle cx="160.6" cy="40.1" r="3.45" fill="none" stroke="#383838" stroke-width="1.25" stroke-opacity="0.85"/>
<circle cx="135.8" cy="43.8" r="3.45" fill="#afcafc"/>
<circle cx="135.8" cy="43.8" r="3.45" fill="none" stroke="#383838" stroke-width="1.25" stroke-opacity="0.85"/>
<circle cx="123.1" cy="46.3" r="3.45" fill="#b6cefa"/>
<circle cx="123.1" cy="46.3" r="3.45" fill="none" stroke="#383838" stroke-width="1.25" stroke-opacity="0.85"/>
<circle cx="165.5" cy="42.6" r="3.45" fill="#cfdaea"/>
<circle cx="165.5" cy="42.6" r="3.45" fill="none" stroke="#383838" stroke-width="1.25" stroke-opacity="0.85"/>
<circle cx="152.8" cy="44.5" r="3.45" fill="#d5dbe5"/>
<circle cx="152.8" cy="44.5" r="3.45" fill="none" stroke="#383838" stroke-width="1.25" stroke-opacity="0.85"/>
<circle cx="153.0" cy="47.8" r="3.45" fill="#d5dbe5"/>
<circle cx="153.0" cy="47.8" r="3.45" fill="none" stroke="#383838" stroke-width="1.25" stroke-opacity="0.85"/>
<circle cx="164.2" cy="47.1" r="3.45" fill="#f4987a"/>
<circle cx="164.2" cy="47.1" r="3.45" fill="none" stroke="#383838" stroke-width="1.25" stroke-opacity="0.85"/>
<circle cx="168.8" cy="46.0" r="3.45" fill="#f18d6f"/>
<circle cx="168.8" cy="46.0" r="3.45" fill="none" stroke="#383838" stroke-width="1.25" stroke-opacity="0.85"/>
<circle cx="175.8" cy="47.0" r="3.45" fill="#afcafc"/>
<circle cx="175.8" cy="47.0" r="3.45" fill="none" stroke="#383838" stroke-width="1.25" stroke-opacity="0.85"/>
<circle cx="125.0" cy="54.0" r="3.45" fill="#cfdaea"/>
<circle cx="125.0" cy="54.0" r="3.45" fill="none" stroke="#383838" stroke-width="1.25" stroke-opacity="0.85"/>
<circle cx="126.8" cy="52.4" r="3.45" fill="#a9c6fd"/>
<circle cx="126.8" cy="52.4" r="3.45" fill="none" stroke="#383838" stroke-width="1.25" stroke-opacity="0.85"/>
<circle cx="146.6" cy="50.9" r="3.45" fill="#9ebeff"/>
<circle cx="146.6" cy="50.9" r="3.45" fill="none" stroke="#383838" stroke-width="1.25" stroke-opacity="0.85"/>
<circle cx="169.5" cy="52.7" r="3.45" fill="#7597f6"/>
<circle cx="169.5" cy="52.7" r="3.45" fill="none" stroke="#383838" stroke-width="1.25" stroke-opacity="0.85"/>
<circle cx="144.6" cy="59.0" r="3.45" fill="#6a8bef"/>
<circle cx="144.6" cy="59.0" r="3.45" fill="none" stroke="#383838" stroke-width="1.25" stroke-opacity="0.85"/>
<circle cx="149.3" cy="60.8" r="3.45" fill="#7093f3"/>
<circle cx="149.3" cy="60.8" r="3.45" fill="none" stroke="#383838" stroke-width="1.25" stroke-opacity="0.85"/>
<circle cx="156.8" cy="58.6" r="3.45" fill="#a9c6fd"/>
<circle cx="156.8" cy="58.6" r="3.45" fill="none" stroke="#383838" stroke-width="1.25" stroke-opacity="0.85"/>
<circle cx="132.5" cy="61.8" r="3.45" fill="#dddcdc"/>
<circle cx="132.5" cy="61.8" r="3.45" fill="none" stroke="#383838" stroke-width="1.25" stroke-opacity="0.85"/>
<circle cx="137.7" cy="60.4" r="3.45" fill="#dddcdc"/>
<circle cx="137.7" cy="60.4" r="3.45" fill="none" stroke="#383838" stroke-width="1.25" stroke-opacity="0.85"/>
<circle cx="165.9" cy="58.0" r="3.45" fill="#afcafc"/>
<circle cx="165.9" cy="58.0" r="3.45" fill="none" stroke="#383838" stroke-width="1.25" stroke-opacity="0.85"/>
<circle cx="180.9" cy="57.0" r="3.45" fill="#b6cefa"/>
<circle cx="180.9" cy="57.0" r="3.45" fill="none" stroke="#383838" stroke-width="1.25" stroke-opacity="0.85"/>
<circle cx="175.0" cy="60.3" r="3.45" fill="#efcfbf"/>
<circle cx="175.0" cy="60.3" r="3.45" fill="none" stroke="#383838" stroke-width="1.25" stroke-opacity="0.85"/>
<circle cx="194.5" cy="57.0" r="3.45" fill="#f4987a"/>
<circle cx="194.5" cy="57.0" r="3.45" fill="none" stroke="#383838" stroke-width="1.25" stroke-opacity="0.85"/>
<circle cx="165.5" cy="63.2" r="3.45" fill="#d7dce3"/>
<circle cx="165.5" cy="63.2" r="3.45" fill="none" stroke="#383838" stroke-width="1.25" stroke-opacity="0.85"/>
<circle cx="133.3" cy="68.2" r="3.45" fill="#a9c6fd"/>
<circle cx="133.3" cy="68.2" r="3.45" fill="none" stroke="#383838" stroke-width="1.25" stroke-opacity="0.85"/>
<circle cx="147.4" cy="64.5" r="3.45" fill="#c6d6f1"/>
<circle cx="147.4" cy="64.5" r="3.45" fill="none" stroke="#383838" stroke-width="1.25" stroke-opacity="0.85"/>
<circle cx="141.5" cy="68.7" r="3.45" fill="#94b6ff"/>
<circle cx="141.5" cy="68.7" r="3.45" fill="none" stroke="#383838" stroke-width="1.25" stroke-opacity="0.85"/>
<circle cx="160.7" cy="66.4" r="3.45" fill="#dddcdc"/>
<circle cx="160.7" cy="66.4" r="3.45" fill="none" stroke="#383838" stroke-width="1.25" stroke-opacity="0.85"/>
<circle cx="155.7" cy="68.7" r="3.45" fill="#f5c2aa"/>
<circle cx="155.7" cy="68.7" r="3.45" fill="none" stroke="#383838" stroke-width="1.25" stroke-opacity="0.85"/>
<circle cx="160.5" cy="72.1" r="3.45" fill="#f4c6af"/>
<circle cx="160.5" cy="72.1" r="3.45" fill="none" stroke="#383838" stroke-width="1.25" stroke-opacity="0.85"/>
<circle cx="170.1" cy="68.3" r="3.45" fill="#dddcdc"/>
<circle cx="170.1" cy="68.3" r="3.45" fill="none" stroke="#383838" stroke-width="1.25" stroke-opacity="0.85"/>
<circle cx="176.7" cy="67.4" r="3.45" fill="#cfdaea"/>
<circle cx="176.7" cy="67.4" r="3.45" fill="none" stroke="#383838" stroke-width="1.25" stroke-opacity="0.85"/>
<circle cx="186.9" cy="67.9" r="3.45" fill="#f4987a"/>
<circle cx="186.9" cy="67.9" r="3.45" fill="none" stroke="#383838" stroke-width="1.25" stroke-opacity="0.85"/>
<circle cx="192.3" cy="69.2" r="3.45" fill="#b6cefa"/>
<circle cx="192.3" cy="69.2" r="3.45" fill="none" stroke="#383838" stroke-width="1.25" stroke-opacity="0.85"/>
<circle cx="201.6" cy="71.5" r="3.45" fill="#d5dbe5"/>
<circle cx="201.6" cy="71.5" r="3.45" fill="none" stroke="#383838" stroke-width="1.25" stroke-opacity="0.85"/>
<circle cx="195.8" cy="72.1" r="3.45" fill="#c6d6f1"/>
<circle cx="195.8" cy="72.1" r="3.45" fill="none" stroke="#383838" stroke-width="1.25" stroke-opacity="0.85"/>
<circle cx="139.8" cy="74.7" r="3.45" fill="#a9c6fd"/>
<circle cx="139.8" cy="74.7" r="3.45" fill="none" stroke="#383838" stroke-width="1.25" stroke-opacity="0.85"/>
<circle cx="144.9" cy="75.0" r="3.45" fill="#f6bda2"/>
<circle cx="144.9" cy="75.0" r="3.45" fill="none" stroke="#383838" stroke-width="1.25" stroke-opacity="0.85"/>
<circle cx="155.9" cy="75.0" r="3.45" fill="#f6bda2"/>
<circle cx="155.9" cy="75.0" r="3.45" fill="none" stroke="#383838" stroke-width="1.25" stroke-opacity="0.85"/>
<circle cx="178.4" cy="75.6" r="3.45" fill="#f2cbb7"/>
<circle cx="178.4" cy="75.6" r="3.45" fill="none" stroke="#383838" stroke-width="1.25" stroke-opacity="0.85"/>
<circle cx="187.3" cy="76.3" r="3.45" fill="#7b9ff9"/>
<circle cx="187.3" cy="76.3" r="3.45" fill="none" stroke="#383838" stroke-width="1.25" stroke-opacity="0.85"/>
<circle cx="134.7" cy="78.8" r="3.45" fill="#dddcdc"/>
<circle cx="134.7" cy="78.8" r="3.45" fill="none" stroke="#383838" stroke-width="1.25" stroke-opacity="0.85"/>
<circle cx="139.8" cy="81.0" r="3.45" fill="#edd2c3"/>
<circle cx="139.8" cy="81.0" r="3.45" fill="none" stroke="#383838" stroke-width="1.25" stroke-opacity="0.85"/>
<circle cx="146.8" cy="80.1" r="3.45" fill="#dddcdc"/>
<circle cx="146.8" cy="80.1" r="3.45" fill="none" stroke="#383838" stroke-width="1.25" stroke-opacity="0.85"/>
<circle cx="155.9" cy="79.1" r="3.45" fill="#8db0fe"/>
<circle cx="155.9" cy="79.1" r="3.45" fill="none" stroke="#383838" stroke-width="1.25" stroke-opacity="0.85"/>
<circle cx="162.2" cy="79.1" r="3.45" fill="#c0d4f5"/>
<circle cx="162.2" cy="79.1" r="3.45" fill="none" stroke="#383838" stroke-width="1.25" stroke-opacity="0.85"/>
<circle cx="196.2" cy="78.5" r="3.45" fill="#afcafc"/>
<circle cx="196.2" cy="78.5" r="3.45" fill="none" stroke="#383838" stroke-width="1.25" stroke-opacity="0.85"/>
<circle cx="210.8" cy="79.3" r="3.45" fill="#f4987a"/>
<circle cx="210.8" cy="79.3" r="3.45" fill="none" stroke="#383838" stroke-width="1.25" stroke-opacity="0.85"/>
<circle cx="164.3" cy="82.2" r="3.45" fill="#bad0f8"/>
<circle cx="164.3" cy="82.2" r="3.45" fill="none" stroke="#383838" stroke-width="1.25" stroke-opacity="0.85"/>
<circle cx="181.3" cy="81.0" r="3.45" fill="#9ebeff"/>
<circle cx="181.3" cy="81.0" r="3.45" fill="none" stroke="#383838" stroke-width="1.25" stroke-opacity="0.85"/>
<circle cx="190.2" cy="80.4" r="3.45" fill="#c6d6f1"/>
<circle cx="190.2" cy="80.4" r="3.45" fill="none" stroke="#383838" stroke-width="1.25" stroke-opacity="0.85"/>
<circle cx="142.7" cy="86.1" r="3.45" fill="#afcafc"/>
<circle cx="142.7" cy="86.1" r="3.45" fill="none" stroke="#383838" stroke-width="1.25" stroke-opacity="0.85"/>
<circle cx="155.7" cy="85.4" r="3.45" fill="#dddcdc"/>
<circle cx="155.7" cy="85.4" r="3.45" fill="none" stroke="#383838" stroke-width="1.25" stroke-opacity="0.85"/>
<circle cx="151.9" cy="86.6" r="3.45" fill="#e36c55"/>
<circle cx="151.9" cy="86.6" r="3.45" fill="none" stroke="#383838" stroke-width="1.25" stroke-opacity="0.85"/>
<circle cx="160.1" cy="84.8" r="3.45" fill="#edd2c3"/>
<circle cx="160.1" cy="84.8" r="3.45" fill="none" stroke="#383838" stroke-width="1.25" stroke-opacity="0.85"/>
<circle cx="126.5" cy="86.3" r="3.45" fill="#94b6ff"/>
<circle cx="126.5" cy="86.3" r="3.45" fill="none" stroke="#383838" stroke-width="1.25" stroke-opacity="0.85"/>
<circle cx="124.8" cy="88.8" r="3.45" fill="#edd2c3"/>
<circle cx="124.8" cy="88.8" r="3.45" fill="none" stroke="#383838" stroke-width="1.25" stroke-opacity="0.85"/>
<circle cx="197.8" cy="84.4" r="3.45" fill="#dddcdc"/>
<circle cx="197.8" cy="84.4" r="3.45" fill="none" stroke="#383838" stroke-width="1.25" stroke-opacity="0.85"/>
<circle cx="215.0" cy="86.8" r="3.45" fill="#f4987a"/>
<circle cx="215.0" cy="86.8" r="3.45" fill="none" stroke="#383838" stroke-width="1.25" stroke-opacity="0.85"/>
<circle cx="233.6" cy="83.0" r="3.45" fill="#e16751"/>
<circle cx="233.6" cy="83.0" r="3.45" fill="none" stroke="#383838" stroke-width="1.25" stroke-opacity="0.85"/>
<circle cx="245.6" cy="84.8" r="3.45" fill="#dddcdc"/>
<circle cx="245.6" cy="84.8" r="3.45" fill="none" stroke="#383838" stroke-width="1.25" stroke-opacity="0.85"/>
<circle cx="242.0" cy="84.6" r="3.45" fill="#b70d28"/>
<circle cx="242.0" cy="84.6" r="3.45" fill="none" stroke="#383838" stroke-width="1.25" stroke-opacity="0.85"/>
<circle cx="249.3" cy="84.6" r="3.45" fill="#be242e"/>
<circle cx="249.3" cy="84.6" r="3.45" fill="none" stroke="#383838" stroke-width="1.25" stroke-opacity="0.85"/>
<circle cx="251.1" cy="86.4" r="3.45" fill="#c32e31"/>
<circle cx="251.1" cy="86.4" r="3.45" fill="none" stroke="#383838" stroke-width="1.25" stroke-opacity="0.85"/>
<circle cx="204.4" cy="87.9" r="3.45" fill="#b6cefa"/>
<circle cx="204.4" cy="87.9" r="3.45" fill="none" stroke="#383838" stroke-width="1.25" stroke-opacity="0.85"/>
<circle cx="197.4" cy="89.1" r="3.45" fill="#c6d6f1"/>
<circle cx="197.4" cy="89.1" r="3.45" fill="none" stroke="#383838" stroke-width="1.25" stroke-opacity="0.85"/>
<circle cx="181.3" cy="88.7" r="3.45" fill="#e9d5cb"/>
<circle cx="181.3" cy="88.7" r="3.45" fill="none" stroke="#383838" stroke-width="1.25" stroke-opacity="0.85"/>
<circle cx="159.6" cy="90.2" r="3.45" fill="#f7b396"/>
<circle cx="159.6" cy="90.2" r="3.45" fill="none" stroke="#383838" stroke-width="1.25" stroke-opacity="0.85"/>
<circle cx="172.6" cy="92.7" r="3.45" fill="#f2cbb7"/>
<circle cx="172.6" cy="92.7" r="3.45" fill="none" stroke="#383838" stroke-width="1.25" stroke-opacity="0.85"/>
<circle cx="171.4" cy="90.7" r="3.45" fill="#82a6fb"/>
<circle cx="171.4" cy="90.7" r="3.45" fill="none" stroke="#383838" stroke-width="1.25" stroke-opacity="0.85"/>
<circle cx="167.7" cy="91.2" r="3.45" fill="#8db0fe"/>
<circle cx="167.7" cy="91.2" r="3.45" fill="none" stroke="#383838" stroke-width="1.25" stroke-opacity="0.85"/>
<circle cx="149.2" cy="92.0" r="3.45" fill="#8db0fe"/>
<circle cx="149.2" cy="92.0" r="3.45" fill="none" stroke="#383838" stroke-width="1.25" stroke-opacity="0.85"/>
<circle cx="218.3" cy="90.4" r="3.45" fill="#e8765c"/>
<circle cx="218.3" cy="90.4" r="3.45" fill="none" stroke="#383838" stroke-width="1.25" stroke-opacity="0.85"/>
<circle cx="232.9" cy="90.7" r="3.45" fill="#f5c2aa"/>
<circle cx="232.9" cy="90.7" r="3.45" fill="none" stroke="#383838" stroke-width="1.25" stroke-opacity="0.85"/>
<circle cx="127.7" cy="94.8" r="3.45" fill="#edd2c3"/>
<circle cx="127.7" cy="94.8" r="3.45" fill="none" stroke="#383838" stroke-width="1.25" stroke-opacity="0.85"/>
<circle cx="153.8" cy="95.7" r="3.45" fill="#dddcdc"/>
<circle cx="153.8" cy="95.7" r="3.45" fill="none" stroke="#383838" stroke-width="1.25" stroke-opacity="0.85"/>
<circle cx="160.8" cy="95.7" r="3.45" fill="#afcafc"/>
<circle cx="160.8" cy="95.7" r="3.45" fill="none" stroke="#383838" stroke-width="1.25" stroke-opacity="0.85"/>
<circle cx="194.9" cy="97.8" r="3.45" fill="#f2cbb7"/>
<circle cx="194.9" cy="97.8" r="3.45" fill="none" stroke="#383838" stroke-width="1.25" stroke-opacity="0.85"/>
<circle cx="214.5" cy="97.7" r="3.45" fill="#e2dad5"/>
<circle cx="214.5" cy="97.7" r="3.45" fill="none" stroke="#383838" stroke-width="1.25" stroke-opacity="0.85"/>
<circle cx="221.3" cy="97.0" r="3.45" fill="#f4c6af"/>
<circle cx="221.3" cy="97.0" r="3.45" fill="none" stroke="#383838" stroke-width="1.25" stroke-opacity="0.85"/>
<circle cx="120.2" cy="99.0" r="3.45" fill="#f4987a"/>
<circle cx="120.2" cy="99.0" r="3.45" fill="none" stroke="#383838" stroke-width="1.25" stroke-opacity="0.85"/>
<circle cx="139.9" cy="99.4" r="3.45" fill="#f7b396"/>
<circle cx="139.9" cy="99.4" r="3.45" fill="none" stroke="#383838" stroke-width="1.25" stroke-opacity="0.85"/>
<circle cx="120.6" cy="107.3" r="3.45" fill="#f6a586"/>
<circle cx="120.6" cy="107.3" r="3.45" fill="none" stroke="#383838" stroke-width="1.25" stroke-opacity="0.85"/>
<circle cx="141.6" cy="105.4" r="3.45" fill="#ea7b60"/>
<circle cx="141.6" cy="105.4" r="3.45" fill="none" stroke="#383838" stroke-width="1.25" stroke-opacity="0.85"/>
<circle cx="152.7" cy="107.5" r="3.45" fill="#dddcdc"/>
<circle cx="152.7" cy="107.5" r="3.45" fill="none" stroke="#383838" stroke-width="1.25" stroke-opacity="0.85"/>
<circle cx="186.2" cy="107.3" r="3.45" fill="#cfdaea"/>
<circle cx="186.2" cy="107.3" r="3.45" fill="none" stroke="#383838" stroke-width="1.25" stroke-opacity="0.85"/>
<circle cx="201.2" cy="119.2" r="3.45" fill="#e9d5cb"/>
<circle cx="201.2" cy="119.2" r="3.45" fill="none" stroke="#383838" stroke-width="1.25" stroke-opacity="0.85"/>
</g>
<g clip-path="url(#clip_bl)">
<g filter="url(#blur_bl)">
<rect x="30.00" y="137.60" width="245.50" height="3.30" fill="url(#g48)"/>
<rect x="30.00" y="140.60" width="245.50" height="3.30" fill="url(#g49)"/>
<rect x="30.00" y="143.60" width="245.50" height="3.30" fill="url(#g50)"/>
<rect x="30.00" y="146.60" width="245.50" height="3.30" fill="url(#g51)"/>
<rect x="30.00" y="149.60" width="245.50" height="3.30" fill="url(#g52)"/>
<rect x="30.00" y="152.60" width="245.50" height="3.30" fill="url(#g53)"/>
<rect x="30.00" y="155.60" width="245.50" height="3.30" fill="url(#g54)"/>
<rect x="30.00" y="158.60" width="245.50" height="3.30" fill="url(#g55)"/>
<rect x="30.00" y="161.60" width="245.50" height="3.30" fill="url(#g56)"/>
<rect x="30.00" y="164.60" width="245.50" height="3.30" fill="url(#g57)"/>
<rect x="30.00" y="167.60" width="245.50" height="3.30" fill="url(#g58)"/>
<rect x="30.00" y="170.60" width="245.50" height="3.30" fill="url(#g59)"/>
<rect x="30.00" y="173.60" width="245.50" height="3.30" fill="url(#g60)"/>
<rect x="30.00" y="176.60" width="245.50" height="3.30" fill="url(#g61)"/>
<rect x="30.00" y="179.60" width="245.50" height="3.30" fill="url(#g62)"/>
<rect x="30.00" y="182.60" width="245.50" height="3.30" fill="url(#g63)"/>
<rect x="30.00" y="185.60" width="245.50" height="3.30" fill="url(#g64)"/>
<rect x="30.00" y="188.60" width="245.50" height="3.30" fill="url(#g65)"/>
<rect x="30.00" y="191.60" width="245.50" height="3.30" fill="url(#g66)"/>
<rect x="30.00" y="194.60" width="245.50" height="3.30" fill="url(#g67)"/>
<rect x="30.00" y="197.60" width="245.50" height="3.30" fill="url(#g68)"/>
<rect x="30.00" y="200.60" width="245.50" height="3.30" fill="url(#g69)"/>
<rect x="30.00" y="203.60" width="245.50" height="3.30" fill="url(#g70)"/>
<rect x="30.00" y="206.60" width="245.50" height="3.30" fill="url(#g71)"/>
<rect x="30.00" y="209.60" width="245.50" height="3.30" fill="url(#g72)"/>
<rect x="30.00" y="212.60" width="245.50" height="3.30" fill="url(#g73)"/>
<rect x="30.00" y="215.60" width="245.50" height="3.30" fill="url(#g74)"/>
<rect x="30.00" y="218.60" width="245.50" height="3.30" fill="url(#g75)"/>
<rect x="30.00" y="221.60" width="245.50" height="3.30" fill="url(#g76)"/>
<rect x="30.00" y="224.60" width="245.50" height="3.30" fill="url(#g77)"/>
<rect x="30.00" y="227.60" width="245.50" height="3.30" fill="url(#g78)"/>
<rect x="30.00" y="230.60" width="245.50" height="3.30" fill="url(#g79)"/>
<rect x="30.00" y="233.60" width="245.50" height="3.30" fill="url(#g80)"/>
<rect x="30.00" y="236.60" width="245.50" height="3.30" fill="url(#g81)"/>
<rect x="30.00" y="239.60" width="245.50" height="3.30" fill="url(#g82)"/>
<rect x="30.00" y="242.60" width="245.50" height="3.30" fill="url(#g83)"/>
<rect x="30.00" y="245.60" width="245.50" height="3.30" fill="url(#g84)"/>
<rect x="30.00" y="248.60" width="245.50" height="3.30" fill="url(#g85)"/>
<rect x="30.00" y="251.60" width="245.50" height="3.30" fill="url(#g86)"/>
<rect x="30.00" y="254.60" width="245.50" height="3.30" fill="url(#g87)"/>
<rect x="30.00" y="257.60" width="245.50" height="3.30" fill="url(#g88)"/>
<rect x="30.00" y="260.60" width="245.50" height="3.30" fill="url(#g89)"/>
<rect x="30.00" y="263.60" width="245.50" height="3.30" fill="url(#g90)"/>
<rect x="30.00" y="266.60" width="245.50" height="3.30" fill="url(#g91)"/>
<rect x="30.00" y="269.60" width="245.50" height="3.30" fill="url(#g92)"/>
<rect x="30.00" y="272.60" width="245.50" height="3.30" fill="url(#g93)"/>
<rect x="30.00" y="275.60" width="245.50" height="3.30" fill="url(#g94)"/>
<rect x="30.00" y="278.60" width="245.50" height="3.30" fill="url(#g95)"/>
<rect x="30.00" y="281.60" width="245.50" height="2.40" fill="url(#g96)"/>
</g>
<circle cx="54.8" cy="199.7" r="3.45" fill="#a9c6fd"/>
<circle cx="54.8" cy="199.7" r="3.45" fill="none" stroke="#383838" stroke-width="1.25" stroke-opacity="0.85"/>
<circle cx="70.4" cy="204.6" r="3.45" fill="#8db0fe"/>
<circle cx="70.4" cy="204.6" r="3.45" fill="none" stroke="#383838" stroke-width="1.25" stroke-opacity="0.85"/>
<circle cx="89.9" cy="194.8" r="3.45" fill="#f4c6af"/>
<circle cx="89.9" cy="194.8" r="3.45" fill="none" stroke="#383838" stroke-width="1.25" stroke-opacity="0.85"/>
<circle cx="87.8" cy="201.8" r="3.45" fill="#c0d4f5"/>
<circle cx="87.8" cy="201.8" r="3.45" fill="none" stroke="#383838" stroke-width="1.25" stroke-opacity="0.85"/>
<circle cx="99.6" cy="183.6" r="3.45" fill="#e9d5cb"/>
<circle cx="99.6" cy="183.6" r="3.45" fill="none" stroke="#383838" stroke-width="1.25" stroke-opacity="0.85"/>
<circle cx="105.3" cy="179.8" r="3.45" fill="#f6bda2"/>
<circle cx="105.3" cy="179.8" r="3.45" fill="none" stroke="#383838" stroke-width="1.25" stroke-opacity="0.85"/>
<circle cx="112.7" cy="181.0" r="3.45" fill="#f18d6f"/>
<circle cx="112.7" cy="181.0" r="3.45" fill="none" stroke="#383838" stroke-width="1.25" stroke-opacity="0.85"/>
<circle cx="96.7" cy="209.4" r="3.45" fill="#d7dce3"/>
<circle cx="96.7" cy="209.4" r="3.45" fill="none" stroke="#383838" stroke-width="1.25" stroke-opacity="0.85"/>
<circle cx="109.6" cy="207.6" r="3.45" fill="#bad0f8"/>
<circle cx="109.6" cy="207.6" r="3.45" fill="none" stroke="#383838" stroke-width="1.25" stroke-opacity="0.85"/>
<circle cx="101.9" cy="212.3" r="3.45" fill="#bad0f8"/>
<circle cx="101.9" cy="212.3" r="3.45" fill="none" stroke="#383838" stroke-width="1.25" stroke-opacity="0.85"/>
<circle cx="107.8" cy="211.7" r="3.45" fill="#d7dce3"/>
<circle cx="107.8" cy="211.7" r="3.45" fill="none" stroke="#383838" stroke-width="1.25" stroke-opacity="0.85"/>
<circle cx="115.9" cy="153.8" r="3.45" fill="#f2cbb7"/>
<circle cx="115.9" cy="153.8" r="3.45" fill="none" stroke="#383838" stroke-width="1.25" stroke-opacity="0.85"/>
<circle cx="124.7" cy="163.3" r="3.45" fill="#e9d5cb"/>
<circle cx="124.7" cy="163.3" r="3.45" fill="none" stroke="#383838" stroke-width="1.25" stroke-opacity="0.85"/>
<circle cx="132.7" cy="160.1" r="3.45" fill="#cfdaea"/>
<circle cx="132.7" cy="160.1" r="3.45" fill="none" stroke="#383838" stroke-width="1.25" stroke-opacity="0.85"/>
<circle cx="141.6" cy="162.3" r="3.45" fill="#f4987a"/>
<circle cx="141.6" cy="162.3" r="3.45" fill="none" stroke="#383838" stroke-width="1.25" stroke-opacity="0.85"/>
<circle cx="148.2" cy="159.5" r="3.45" fill="#cad8ef"/>
<circle cx="148.2" cy="159.5" r="3.45" fill="none" stroke="#383838" stroke-width="1.25" stroke-opacity="0.85"/>
<circle cx="153.3" cy="161.4" r="3.45" fill="#e9d5cb"/>
<circle cx="153.3" cy="161.4" r="3.45" fill="none" stroke="#383838" stroke-width="1.25" stroke-opacity="0.85"/>
<circle cx="115.9" cy="175.3" r="3.45" fill="#ee8468"/>
<circle cx="115.9" cy="175.3" r="3.45" fill="none" stroke="#383838" stroke-width="1.25" stroke-opacity="0.85"/>
<circle cx="120.8" cy="175.4" r="3.45" fill="#f7b396"/>
<circle cx="120.8" cy="175.4" r="3.45" fill="none" stroke="#383838" stroke-width="1.25" stroke-opacity="0.85"/>
<circle cx="127.3" cy="171.9" r="3.45" fill="#edd2c3"/>
<circle cx="127.3" cy="171.9" r="3.45" fill="none" stroke="#383838" stroke-width="1.25" stroke-opacity="0.85"/>
<circle cx="140.6" cy="176.0" r="3.45" fill="#dddcdc"/>
<circle cx="140.6" cy="176.0" r="3.45" fill="none" stroke="#383838" stroke-width="1.25" stroke-opacity="0.85"/>
<circle cx="134.7" cy="175.4" r="3.45" fill="#d7dce3"/>
<circle cx="134.7" cy="175.4" r="3.45" fill="none" stroke="#383838" stroke-width="1.25" stroke-opacity="0.85"/>
<circle cx="137.4" cy="172.4" r="3.45" fill="#dddcdc"/>
<circle cx="137.4" cy="172.4" r="3.45" fill="none" stroke="#383838" stroke-width="1.25" stroke-opacity="0.85"/>
<circle cx="144.4" cy="172.4" r="3.45" fill="#f5c2aa"/>
<circle cx="144.4" cy="172.4" r="3.45" fill="none" stroke="#383838" stroke-width="1.25" stroke-opacity="0.85"/>
<circle cx="139.3" cy="180.8" r="3.45" fill="#f4987a"/>
<circle cx="139.3" cy="180.8" r="3.45" fill="none" stroke="#383838" stroke-width="1.25" stroke-opacity="0.85"/>
<circle cx="147.4" cy="179.2" r="3.45" fill="#efcfbf"/>
<circle cx="147.4" cy="179.2" r="3.45" fill="none" stroke="#383838" stroke-width="1.25" stroke-opacity="0.85"/>
<circle cx="155.4" cy="174.8" r="3.45" fill="#f4987a"/>
<circle cx="155.4" cy="174.8" r="3.45" fill="none" stroke="#383838" stroke-width="1.25" stroke-opacity="0.85"/>
<circle cx="164.7" cy="157.6" r="3.45" fill="#f6a586"/>
<circle cx="164.7" cy="157.6" r="3.45" fill="none" stroke="#383838" stroke-width="1.25" stroke-opacity="0.85"/>
<circle cx="168.7" cy="160.1" r="3.45" fill="#f4987a"/>
<circle cx="168.7" cy="160.1" r="3.45" fill="none" stroke="#383838" stroke-width="1.25" stroke-opacity="0.85"/>
<circle cx="169.1" cy="167.1" r="3.45" fill="#f4987a"/>
<circle cx="169.1" cy="167.1" r="3.45" fill="none" stroke="#383838" stroke-width="1.25" stroke-opacity="0.85"/>
<circle cx="159.9" cy="169.9" r="3.45" fill="#f4c6af"/>
<circle cx="159.9" cy="169.9" r="3.45" fill="none" stroke="#383838" stroke-width="1.25" stroke-opacity="0.85"/>
<circle cx="189.4" cy="155.1" r="3.45" fill="#f6bda2"/>
<circle cx="189.4" cy="155.1" r="3.45" fill="none" stroke="#383838" stroke-width="1.25" stroke-opacity="0.85"/>
<circle cx="191.6" cy="158.0" r="3.45" fill="#e2dad5"/>
<circle cx="191.6" cy="158.0" r="3.45" fill="none" stroke="#383838" stroke-width="1.25" stroke-opacity="0.85"/>
<circle cx="186.5" cy="161.4" r="3.45" fill="#f2cbb7"/>
<circle cx="186.5" cy="161.4" r="3.45" fill="none" stroke="#383838" stroke-width="1.25" stroke-opacity="0.85"/>
<circle cx="194.5" cy="171.2" r="3.45" fill="#f4987a"/>
<circle cx="194.5" cy="171.2" r="3.45" fill="none" stroke="#383838" stroke-width="1.25" stroke-opacity="0.85"/>
<circle cx="197.0" cy="173.2" r="3.45" fill="#d65244"/>
<circle cx="197.0" cy="173.2" r="3.45" fill="none" stroke="#383838" stroke-width="1.25" stroke-opacity="0.85"/>
<circle cx="175.6" cy="176.8" r="3.45" fill="#a5c3fe"/>
<circle cx="175.6" cy="176.8" r="3.45" fill="none" stroke="#383838" stroke-width="1.25" stroke-opacity="0.85"/>
<circle cx="246.2" cy="182.6" r="3.45" fill="#dddcdc"/>
<circle cx="246.2" cy="182.6" r="3.45" fill="none" stroke="#383838" stroke-width="1.25" stroke-opacity="0.85"/>
<circle cx="242.0" cy="183.3" r="3.45" fill="#bb1b2c"/>
<circle cx="242.0" cy="183.3" r="3.45" fill="none" stroke="#383838" stroke-width="1.25" stroke-opacity="0.85"/>
<circle cx="250.3" cy="180.9" r="3.45" fill="#cc403a"/>
<circle cx="250.3" cy="180.9" r="3.45" fill="none" stroke="#383838" stroke-width="1.25" stroke-opacity="0.85"/>
<circle cx="232.6" cy="190.6" r="3.45" fill="#f5c2aa"/>
<circle cx="232.6" cy="190.6" r="3.45" fill="none" stroke="#383838" stroke-width="1.25" stroke-opacity="0.85"/>
<circle cx="233.6" cy="187.4" r="3.45" fill="#ea7b60"/>
<circle cx="233.6" cy="187.4" r="3.45" fill="none" stroke="#383838" stroke-width="1.25" stroke-opacity="0.85"/>
<circle cx="214.8" cy="197.2" r="3.45" fill="#dddcdc"/>
<circle cx="214.8" cy="197.2" r="3.45" fill="none" stroke="#383838" stroke-width="1.25" stroke-opacity="0.85"/>
<circle cx="211.3" cy="193.0" r="3.45" fill="#f4987a"/>
<circle cx="211.3" cy="193.0" r="3.45" fill="none" stroke="#383838" stroke-width="1.25" stroke-opacity="0.85"/>
<circle cx="218.3" cy="195.8" r="3.45" fill="#ee8468"/>
<circle cx="218.3" cy="195.8" r="3.45" fill="none" stroke="#383838" stroke-width="1.25" stroke-opacity="0.85"/>
<circle cx="221.0" cy="211.0" r="3.45" fill="#f2cbb7"/>
<circle cx="221.0" cy="211.0" r="3.45" fill="none" stroke="#383838" stroke-width="1.25" stroke-opacity="0.85"/>
<circle cx="214.1" cy="219.9" r="3.45" fill="#e9d5cb"/>
<circle cx="214.1" cy="219.9" r="3.45" fill="none" stroke="#383838" stroke-width="1.25" stroke-opacity="0.85"/>
<circle cx="152.5" cy="183.4" r="3.45" fill="#dddcdc"/>
<circle cx="152.5" cy="183.4" r="3.45" fill="none" stroke="#383838" stroke-width="1.25" stroke-opacity="0.85"/>
<circle cx="164.0" cy="184.9" r="3.45" fill="#afcafc"/>
<circle cx="164.0" cy="184.9" r="3.45" fill="none" stroke="#383838" stroke-width="1.25" stroke-opacity="0.85"/>
<circle cx="160.1" cy="188.7" r="3.45" fill="#cfdaea"/>
<circle cx="160.1" cy="188.7" r="3.45" fill="none" stroke="#383838" stroke-width="1.25" stroke-opacity="0.85"/>
<circle cx="172.6" cy="185.9" r="3.45" fill="#e9d5cb"/>
<circle cx="172.6" cy="185.9" r="3.45" fill="none" stroke="#383838" stroke-width="1.25" stroke-opacity="0.85"/>
<circle cx="170.6" cy="190.2" r="3.45" fill="#d7dce3"/>
<circle cx="170.6" cy="190.2" r="3.45" fill="none" stroke="#383838" stroke-width="1.25" stroke-opacity="0.85"/>
<circle cx="186.5" cy="185.5" r="3.45" fill="#cad8ef"/>
<circle cx="186.5" cy="185.5" r="3.45" fill="none" stroke="#383838" stroke-width="1.25" stroke-opacity="0.85"/>
<circle cx="178.5" cy="194.0" r="3.45" fill="#efcfbf"/>
<circle cx="178.5" cy="194.0" r="3.45" fill="none" stroke="#383838" stroke-width="1.25" stroke-opacity="0.85"/>
<circle cx="181.1" cy="195.7" r="3.45" fill="#dddcdc"/>
<circle cx="181.1" cy="195.7" r="3.45" fill="none" stroke="#383838" stroke-width="1.25" stroke-opacity="0.85"/>
<circle cx="187.0" cy="196.9" r="3.45" fill="#f6a586"/>
<circle cx="187.0" cy="196.9" r="3.45" fill="none" stroke="#383838" stroke-width="1.25" stroke-opacity="0.85"/>
<circle cx="195.0" cy="193.8" r="3.45" fill="#e9d5cb"/>
<circle cx="195.0" cy="193.8" r="3.45" fill="none" stroke="#383838" stroke-width="1.25" stroke-opacity="0.85"/>
<circle cx="174.7" cy="200.7" r="3.45" fill="#f2cbb7"/>
<circle cx="174.7" cy="200.7" r="3.45" fill="none" stroke="#383838" stroke-width="1.25" stroke-opacity="0.85"/>
<circle cx="159.5" cy="193.1" r="3.45" fill="#f7b396"/>
<circle cx="159.5" cy="193.1" r="3.45" fill="none" stroke="#383838" stroke-width="1.25" stroke-opacity="0.85"/>
<circle cx="151.9" cy="192.5" r="3.45" fill="#dddcdc"/>
<circle cx="151.9" cy="192.5" r="3.45" fill="none" stroke="#383838" stroke-width="1.25" stroke-opacity="0.85"/>
<circle cx="155.7" cy="200.4" r="3.45" fill="#f7ac8e"/>
<circle cx="155.7" cy="200.4" r="3.45" fill="none" stroke="#383838" stroke-width="1.25" stroke-opacity="0.85"/>
<circle cx="159.9" cy="204.4" r="3.45" fill="#e9d5cb"/>
<circle cx="159.9" cy="204.4" r="3.45" fill="none" stroke="#383838" stroke-width="1.25" stroke-opacity="0.85"/>
<circle cx="119.7" cy="185.2" r="3.45" fill="#f6a586"/>
<circle cx="119.7" cy="185.2" r="3.45" fill="none" stroke="#383838" stroke-width="1.25" stroke-opacity="0.85"/>
<circle cx="124.1" cy="186.1" r="3.45" fill="#a9c6fd"/>
<circle cx="124.1" cy="186.1" r="3.45" fill="none" stroke="#383838" stroke-width="1.25" stroke-opacity="0.85"/>
<circle cx="136.2" cy="188.2" r="3.45" fill="#9ebeff"/>
<circle cx="136.2" cy="188.2" r="3.45" fill="none" stroke="#383838" stroke-width="1.25" stroke-opacity="0.85"/>
<circle cx="140.3" cy="181.4" r="3.45" fill="#f6bda2"/>
<circle cx="140.3" cy="181.4" r="3.45" fill="none" stroke="#383838" stroke-width="1.25" stroke-opacity="0.85"/>
<circle cx="151.4" cy="186.1" r="3.45" fill="#ee8468"/>
<circle cx="151.4" cy="186.1" r="3.45" fill="none" stroke="#383838" stroke-width="1.25" stroke-opacity="0.85"/>
<circle cx="152.3" cy="182.9" r="3.45" fill="#dddcdc"/>
<circle cx="152.3" cy="182.9" r="3.45" fill="none" stroke="#383838" stroke-width="1.25" stroke-opacity="0.85"/>
<circle cx="155.8" cy="188.0" r="3.45" fill="#d7dce3"/>
<circle cx="155.8" cy="188.0" r="3.45" fill="none" stroke="#383838" stroke-width="1.25" stroke-opacity="0.85"/>
<circle cx="145.7" cy="191.1" r="3.45" fill="#dddcdc"/>
<circle cx="145.7" cy="191.1" r="3.45" fill="none" stroke="#383838" stroke-width="1.25" stroke-opacity="0.85"/>
<circle cx="150.7" cy="193.0" r="3.45" fill="#dddcdc"/>
<circle cx="150.7" cy="193.0" r="3.45" fill="none" stroke="#383838" stroke-width="1.25" stroke-opacity="0.85"/>
<circle cx="113.7" cy="199.4" r="3.45" fill="#c6d6f1"/>
<circle cx="113.7" cy="199.4" r="3.45" fill="none" stroke="#383838" stroke-width="1.25" stroke-opacity="0.85"/>
<circle cx="123.1" cy="200.6" r="3.45" fill="#a9c6fd"/>
<circle cx="123.1" cy="200.6" r="3.45" fill="none" stroke="#383838" stroke-width="1.25" stroke-opacity="0.85"/>
<circle cx="146.9" cy="201.3" r="3.45" fill="#e4d9d2"/>
<circle cx="146.9" cy="201.3" r="3.45" fill="none" stroke="#383838" stroke-width="1.25" stroke-opacity="0.85"/>
<circle cx="132.6" cy="209.3" r="3.45" fill="#d5dbe5"/>
<circle cx="132.6" cy="209.3" r="3.45" fill="none" stroke="#383838" stroke-width="1.25" stroke-opacity="0.85"/>
<circle cx="144.4" cy="208.9" r="3.45" fill="#e9d5cb"/>
<circle cx="144.4" cy="208.9" r="3.45" fill="none" stroke="#383838" stroke-width="1.25" stroke-opacity="0.85"/>
<circle cx="146.7" cy="210.8" r="3.45" fill="#dddcdc"/>
<circle cx="146.7" cy="210.8" r="3.45" fill="none" stroke="#383838" stroke-width="1.25" stroke-opacity="0.85"/>
<circle cx="125.4" cy="215.2" r="3.45" fill="#cfdaea"/>
<circle cx="125.4" cy="215.2" r="3.45" fill="none" stroke="#383838" stroke-width="1.25" stroke-opacity="0.85"/>
<circle cx="126.9" cy="212.6" r="3.45" fill="#a9c6fd"/>
<circle cx="126.9" cy="212.6" r="3.45" fill="none" stroke="#383838" stroke-width="1.25" stroke-opacity="0.85"/>
<circle cx="126.4" cy="219.9" r="3.45" fill="#97b8ff"/>
<circle cx="126.4" cy="219.9" r="3.45" fill="none" stroke="#383838" stroke-width="1.25" stroke-opacity="0.85"/>
<circle cx="143.8" cy="212.2" r="3.45" fill="#e9d5cb"/>
<circle cx="143.8" cy="212.2" r="3.45" fill="none" stroke="#383838" stroke-width="1.25" stroke-opacity="0.85"/>
<circle cx="142.5" cy="217.3" r="3.45" fill="#bad0f8"/>
<circle cx="142.5" cy="217.3" r="3.45" fill="none" stroke="#383838" stroke-width="1.25" stroke-opacity="0.85"/>
<circle cx="141.2" cy="224.3" r="3.45" fill="#94b6ff"/>
<circle cx="141.2" cy="224.3" r="3.45" fill="none" stroke="#383838" stroke-width="1.25" stroke-opacity="0.85"/>
<circle cx="147.6" cy="222.4" r="3.45" fill="#d7dce3"/>
<circle cx="147.6" cy="222.4" r="3.45" fill="none" stroke="#383838" stroke-width="1.25" stroke-opacity="0.85"/>
<circle cx="146.7" cy="227.8" r="3.45" fill="#9ebeff"/>
<circle cx="146.7" cy="227.8" r="3.45" fill="none" stroke="#383838" stroke-width="1.25" stroke-opacity="0.85"/>
<circle cx="153.5" cy="227.8" r="3.45" fill="#d7dce3"/>
<circle cx="153.5" cy="227.8" r="3.45" fill="none" stroke="#383838" stroke-width="1.25" stroke-opacity="0.85"/>
<circle cx="153.3" cy="231.3" r="3.45" fill="#cfdaea"/>
<circle cx="153.3" cy="231.3" r="3.45" fill="none" stroke="#383838" stroke-width="1.25" stroke-opacity="0.85"/>
<circle cx="155.8" cy="235.1" r="3.45" fill="#f4c6af"/>
<circle cx="155.8" cy="235.1" r="3.45" fill="none" stroke="#383838" stroke-width="1.25" stroke-opacity="0.85"/>
<circle cx="139.6" cy="232.9" r="3.45" fill="#afcafc"/>
<circle cx="139.6" cy="232.9" r="3.45" fill="none" stroke="#383838" stroke-width="1.25" stroke-opacity="0.85"/>
<circle cx="149.5" cy="239.3" r="3.45" fill="#94b6ff"/>
<circle cx="149.5" cy="239.3" r="3.45" fill="none" stroke="#383838" stroke-width="1.25" stroke-opacity="0.85"/>
<circle cx="165.5" cy="215.2" r="3.45" fill="#cfdaea"/>
<circle cx="165.5" cy="215.2" r="3.45" fill="none" stroke="#383838" stroke-width="1.25" stroke-opacity="0.85"/>
<circle cx="165.5" cy="216.7" r="3.45" fill="#cfdaea"/>
<circle cx="165.5" cy="216.7" r="3.45" fill="none" stroke="#383838" stroke-width="1.25" stroke-opacity="0.85"/>
<circle cx="180.7" cy="221.8" r="3.45" fill="#bad0f8"/>
<circle cx="180.7" cy="221.8" r="3.45" fill="none" stroke="#383838" stroke-width="1.25" stroke-opacity="0.85"/>
<circle cx="166.2" cy="228.7" r="3.45" fill="#97b8ff"/>
<circle cx="166.2" cy="228.7" r="3.45" fill="none" stroke="#383838" stroke-width="1.25" stroke-opacity="0.85"/>
<circle cx="197.6" cy="212.7" r="3.45" fill="#afcafc"/>
<circle cx="197.6" cy="212.7" r="3.45" fill="none" stroke="#383838" stroke-width="1.25" stroke-opacity="0.85"/>
<circle cx="202.0" cy="215.2" r="3.45" fill="#d5dbe5"/>
<circle cx="202.0" cy="215.2" r="3.45" fill="none" stroke="#383838" stroke-width="1.25" stroke-opacity="0.85"/>
<circle cx="196.3" cy="220.5" r="3.45" fill="#9ebeff"/>
<circle cx="196.3" cy="220.5" r="3.45" fill="none" stroke="#383838" stroke-width="1.25" stroke-opacity="0.85"/>
<circle cx="204.8" cy="218.6" r="3.45" fill="#a9c6fd"/>
<circle cx="204.8" cy="218.6" r="3.45" fill="none" stroke="#383838" stroke-width="1.25" stroke-opacity="0.85"/>
<circle cx="190.3" cy="223.7" r="3.45" fill="#cad8ef"/>
<circle cx="190.3" cy="223.7" r="3.45" fill="none" stroke="#383838" stroke-width="1.25" stroke-opacity="0.85"/>
<circle cx="195.9" cy="224.8" r="3.45" fill="#cad8ef"/>
<circle cx="195.9" cy="224.8" r="3.45" fill="none" stroke="#383838" stroke-width="1.25" stroke-opacity="0.85"/>
<circle cx="200.9" cy="225.3" r="3.45" fill="#f5c2aa"/>
<circle cx="200.9" cy="225.3" r="3.45" fill="none" stroke="#383838" stroke-width="1.25" stroke-opacity="0.85"/>
<circle cx="201.4" cy="230.7" r="3.45" fill="#f2cbb7"/>
<circle cx="201.4" cy="230.7" r="3.45" fill="none" stroke="#383838" stroke-width="1.25" stroke-opacity="0.85"/>
<circle cx="192.3" cy="232.4" r="3.45" fill="#b6cefa"/>
<circle cx="192.3" cy="232.4" r="3.45" fill="none" stroke="#383838" stroke-width="1.25" stroke-opacity="0.85"/>
<circle cx="187.4" cy="236.8" r="3.45" fill="#7b9ff9"/>
<circle cx="187.4" cy="236.8" r="3.45" fill="none" stroke="#383838" stroke-width="1.25" stroke-opacity="0.85"/>
<circle cx="177.1" cy="234.6" r="3.45" fill="#d7dce3"/>
<circle cx="177.1" cy="234.6" r="3.45" fill="none" stroke="#383838" stroke-width="1.25" stroke-opacity="0.85"/>
<circle cx="171.5" cy="236.5" r="3.45" fill="#82a6fb"/>
<circle cx="171.5" cy="236.5" r="3.45" fill="none" stroke="#383838" stroke-width="1.25" stroke-opacity="0.85"/>
<circle cx="161.2" cy="235.9" r="3.45" fill="#b6cefa"/>
<circle cx="161.2" cy="235.9" r="3.45" fill="none" stroke="#383838" stroke-width="1.25" stroke-opacity="0.85"/>
<circle cx="181.3" cy="241.4" r="3.45" fill="#afcafc"/>
<circle cx="181.3" cy="241.4" r="3.45" fill="none" stroke="#383838" stroke-width="1.25" stroke-opacity="0.85"/>
<circle cx="133.8" cy="246.2" r="3.45" fill="#c0d4f5"/>
<circle cx="133.8" cy="246.2" r="3.45" fill="none" stroke="#383838" stroke-width="1.25" stroke-opacity="0.85"/>
<circle cx="156.4" cy="245.4" r="3.45" fill="#7b9ff9"/>
<circle cx="156.4" cy="245.4" r="3.45" fill="none" stroke="#383838" stroke-width="1.25" stroke-opacity="0.85"/>
<circle cx="161.1" cy="250.2" r="3.45" fill="#9ebeff"/>
<circle cx="161.1" cy="250.2" r="3.45" fill="none" stroke="#383838" stroke-width="1.25" stroke-opacity="0.85"/>
<circle cx="155.4" cy="251.7" r="3.45" fill="#9ebeff"/>
<circle cx="155.4" cy="251.7" r="3.45" fill="none" stroke="#383838" stroke-width="1.25" stroke-opacity="0.85"/>
<circle cx="145.0" cy="253.4" r="3.45" fill="#7093f3"/>
<circle cx="145.0" cy="253.4" r="3.45" fill="none" stroke="#383838" stroke-width="1.25" stroke-opacity="0.85"/>
<circle cx="149.0" cy="252.8" r="3.45" fill="#82a6fb"/>
<circle cx="149.0" cy="252.8" r="3.45" fill="none" stroke="#383838" stroke-width="1.25" stroke-opacity="0.85"/>
<circle cx="169.3" cy="267.7" r="3.45" fill="#94b6ff"/>
<circle cx="169.3" cy="267.7" r="3.45" fill="none" stroke="#383838" stroke-width="1.25" stroke-opacity="0.85"/>
</g>
<g clip-path="url(#clip_br)">
<g filter="url(#blur_br)">
<rect x="278.00" y="137.60" width="139.00" height="3.30" fill="url(#g97)"/>
<rect x="278.00" y="140.60" width="139.00" height="3.30" fill="url(#g98)"/>
<rect x="278.00" y="143.60" width="139.00" height="3.30" fill="url(#g99)"/>
<rect x="278.00" y="146.60" width="139.00" height="3.30" fill="url(#g100)"/>
<rect x="278.00" y="149.60" width="139.00" height="3.30" fill="url(#g101)"/>
<rect x="278.00" y="152.60" width="139.00" height="3.30" fill="url(#g102)"/>
<rect x="278.00" y="155.60" width="139.00" height="3.30" fill="url(#g103)"/>
<rect x="278.00" y="158.60" width="139.00" height="3.30" fill="url(#g104)"/>
<rect x="278.00" y="161.60" width="139.00" height="3.30" fill="url(#g105)"/>
<rect x="278.00" y="164.60" width="139.00" height="3.30" fill="url(#g106)"/>
<rect x="278.00" y="167.60" width="139.00" height="3.30" fill="url(#g107)"/>
<rect x="278.00" y="170.60" width="139.00" height="3.30" fill="url(#g108)"/>
<rect x="278.00" y="173.60" width="139.00" height="3.30" fill="url(#g109)"/>
<rect x="278.00" y="176.60" width="139.00" height="3.30" fill="url(#g110)"/>
<rect x="278.00" y="179.60" width="139.00" height="3.30" fill="url(#g111)"/>
<rect x="278.00" y="182.60" width="139.00" height="3.30" fill="url(#g112)"/>
<rect x="278.00" y="185.60" width="139.00" height="3.30" fill="url(#g113)"/>
<rect x="278.00" y="188.60" width="139.00" height="3.30" fill="url(#g114)"/>
<rect x="278.00" y="191.60" width="139.00" height="3.30" fill="url(#g115)"/>
<rect x="278.00" y="194.60" width="139.00" height="3.30" fill="url(#g116)"/>
<rect x="278.00" y="197.60" width="139.00" height="3.30" fill="url(#g117)"/>
<rect x="278.00" y="200.60" width="139.00" height="3.30" fill="url(#g118)"/>
<rect x="278.00" y="203.60" width="139.00" height="3.30" fill="url(#g119)"/>
<rect x="278.00" y="206.60" width="139.00" height="3.30" fill="url(#g120)"/>
<rect x="278.00" y="209.60" width="139.00" height="3.30" fill="url(#g121)"/>
<rect x="278.00" y="212.60" width="139.00" height="3.30" fill="url(#g122)"/>
<rect x="278.00" y="215.60" width="139.00" height="3.30" fill="url(#g123)"/>
<rect x="278.00" y="218.60" width="139.00" height="3.30" fill="url(#g124)"/>
<rect x="278.00" y="221.60" width="139.00" height="3.30" fill="url(#g125)"/>
<rect x="278.00" y="224.60" width="139.00" height="3.30" fill="url(#g126)"/>
<rect x="278.00" y="227.60" width="139.00" height="3.30" fill="url(#g127)"/>
<rect x="278.00" y="230.60" width="139.00" height="3.30" fill="url(#g128)"/>
<rect x="278.00" y="233.60" width="139.00" height="3.30" fill="url(#g129)"/>
<rect x="278.00" y="236.60" width="139.00" height="3.30" fill="url(#g130)"/>
<rect x="278.00" y="239.60" width="139.00" height="3.30" fill="url(#g131)"/>
<rect x="278.00" y="242.60" width="139.00" height="3.30" fill="url(#g132)"/>
<rect x="278.00" y="245.60" width="139.00" height="3.30" fill="url(#g133)"/>
<rect x="278.00" y="248.60" width="139.00" height="3.30" fill="url(#g134)"/>
<rect x="278.00" y="251.60" width="139.00" height="3.30" fill="url(#g135)"/>
<rect x="278.00" y="254.60" width="139.00" height="3.30" fill="url(#g136)"/>
<rect x="278.00" y="257.60" width="139.00" height="3.30" fill="url(#g137)"/>
<rect x="278.00" y="260.60" width="139.00" height="3.30" fill="url(#g138)"/>
<rect x="278.00" y="263.60" width="139.00" height="3.30" fill="url(#g139)"/>
<rect x="278.00" y="266.60" width="139.00" height="3.30" fill="url(#g140)"/>
<rect x="278.00" y="269.60" width="139.00" height="3.30" fill="url(#g141)"/>
<rect x="278.00" y="272.60" width="139.00" height="3.30" fill="url(#g142)"/>
<rect x="278.00" y="275.60" width="139.00" height="3.30" fill="url(#g143)"/>
<rect x="278.00" y="278.60" width="139.00" height="3.30" fill="url(#g144)"/>
<rect x="278.00" y="281.60" width="139.00" height="2.40" fill="url(#g145)"/>
</g>
<circle cx="328.9" cy="188.5" r="3.45" fill="#afcafc"/>
<circle cx="328.9" cy="188.5" r="3.45" fill="none" stroke="#383838" stroke-width="1.25" stroke-opacity="0.85"/>
<circle cx="326.8" cy="197.3" r="3.45" fill="#cfdaea"/>
<circle cx="326.8" cy="197.3" r="3.45" fill="none" stroke="#383838" stroke-width="1.25" stroke-opacity="0.85"/>
<circle cx="324.2" cy="163.7" r="3.45" fill="#efcfbf"/>
<circle cx="324.2" cy="163.7" r="3.45" fill="none" stroke="#383838" stroke-width="1.25" stroke-opacity="0.85"/>
<circle cx="345.8" cy="153.6" r="3.45" fill="#e9d5cb"/>
<circle cx="345.8" cy="153.6" r="3.45" fill="none" stroke="#383838" stroke-width="1.25" stroke-opacity="0.85"/>
<circle cx="345.0" cy="162.5" r="3.45" fill="#f6a586"/>
<circle cx="345.0" cy="162.5" r="3.45" fill="none" stroke="#383838" stroke-width="1.25" stroke-opacity="0.85"/>
<circle cx="350.6" cy="160.3" r="3.45" fill="#cfdaea"/>
<circle cx="350.6" cy="160.3" r="3.45" fill="none" stroke="#383838" stroke-width="1.25" stroke-opacity="0.85"/>
<circle cx="317.8" cy="171.9" r="3.45" fill="#e4d9d2"/>
<circle cx="317.8" cy="171.9" r="3.45" fill="none" stroke="#383838" stroke-width="1.25" stroke-opacity="0.85"/>
<circle cx="323.2" cy="174.8" r="3.45" fill="#f4987a"/>
<circle cx="323.2" cy="174.8" r="3.45" fill="none" stroke="#383838" stroke-width="1.25" stroke-opacity="0.85"/>
<circle cx="305.6" cy="175.3" r="3.45" fill="#f7ba9f"/>
<circle cx="305.6" cy="175.3" r="3.45" fill="none" stroke="#383838" stroke-width="1.25" stroke-opacity="0.85"/>
<circle cx="301.4" cy="180.8" r="3.45" fill="#f6a586"/>
<circle cx="301.4" cy="180.8" r="3.45" fill="none" stroke="#383838" stroke-width="1.25" stroke-opacity="0.85"/>
<circle cx="308.8" cy="181.0" r="3.45" fill="#f4987a"/>
<circle cx="308.8" cy="181.0" r="3.45" fill="none" stroke="#383838" stroke-width="1.25" stroke-opacity="0.85"/>
<circle cx="305.6" cy="186.6" r="3.45" fill="#cfdaea"/>
<circle cx="305.6" cy="186.6" r="3.45" fill="none" stroke="#383838" stroke-width="1.25" stroke-opacity="0.85"/>
<circle cx="305.6" cy="182.9" r="3.45" fill="#dddcdc"/>
<circle cx="305.6" cy="182.9" r="3.45" fill="none" stroke="#383838" stroke-width="1.25" stroke-opacity="0.85"/>
<circle cx="313.2" cy="181.5" r="3.45" fill="#f6bda2"/>
<circle cx="313.2" cy="181.5" r="3.45" fill="none" stroke="#383838" stroke-width="1.25" stroke-opacity="0.85"/>
<circle cx="319.3" cy="182.1" r="3.45" fill="#f2cbb7"/>
<circle cx="319.3" cy="182.1" r="3.45" fill="none" stroke="#383838" stroke-width="1.25" stroke-opacity="0.85"/>
<circle cx="326.0" cy="184.2" r="3.45" fill="#f4987a"/>
<circle cx="326.0" cy="184.2" r="3.45" fill="none" stroke="#383838" stroke-width="1.25" stroke-opacity="0.85"/>
<circle cx="327.0" cy="180.5" r="3.45" fill="#be242e"/>
<circle cx="327.0" cy="180.5" r="3.45" fill="none" stroke="#383838" stroke-width="1.25" stroke-opacity="0.85"/>
<circle cx="332.6" cy="175.1" r="3.45" fill="#dddcdc"/>
<circle cx="332.6" cy="175.1" r="3.45" fill="none" stroke="#383838" stroke-width="1.25" stroke-opacity="0.85"/>
<circle cx="331.0" cy="183.7" r="3.45" fill="#dddcdc"/>
<circle cx="331.0" cy="183.7" r="3.45" fill="none" stroke="#383838" stroke-width="1.25" stroke-opacity="0.85"/>
<circle cx="337.8" cy="173.0" r="3.45" fill="#f5c2aa"/>
<circle cx="337.8" cy="173.0" r="3.45" fill="none" stroke="#383838" stroke-width="1.25" stroke-opacity="0.85"/>
<circle cx="340.6" cy="169.7" r="3.45" fill="#f2cbb7"/>
<circle cx="340.6" cy="169.7" r="3.45" fill="none" stroke="#383838" stroke-width="1.25" stroke-opacity="0.85"/>
<circle cx="321.9" cy="188.5" r="3.45" fill="#f4987a"/>
<circle cx="321.9" cy="188.5" r="3.45" fill="none" stroke="#383838" stroke-width="1.25" stroke-opacity="0.85"/>
<circle cx="317.1" cy="188.0" r="3.45" fill="#dddcdc"/>
<circle cx="317.1" cy="188.0" r="3.45" fill="none" stroke="#383838" stroke-width="1.25" stroke-opacity="0.85"/>
<circle cx="341.2" cy="189.0" r="3.45" fill="#dddcdc"/>
<circle cx="341.2" cy="189.0" r="3.45" fill="none" stroke="#383838" stroke-width="1.25" stroke-opacity="0.85"/>
<circle cx="322.0" cy="197.0" r="3.45" fill="#ea7b60"/>
<circle cx="322.0" cy="197.0" r="3.45" fill="none" stroke="#383838" stroke-width="1.25" stroke-opacity="0.85"/>
<circle cx="315.0" cy="194.2" r="3.45" fill="#f2cbb7"/>
<circle cx="315.0" cy="194.2" r="3.45" fill="none" stroke="#383838" stroke-width="1.25" stroke-opacity="0.85"/>
<circle cx="322.5" cy="193.5" r="3.45" fill="#f6bda2"/>
<circle cx="322.5" cy="193.5" r="3.45" fill="none" stroke="#383838" stroke-width="1.25" stroke-opacity="0.85"/>
<circle cx="333.2" cy="193.6" r="3.45" fill="#f6a586"/>
<circle cx="333.2" cy="193.6" r="3.45" fill="none" stroke="#383838" stroke-width="1.25" stroke-opacity="0.85"/>
<circle cx="337.5" cy="171.9" r="3.45" fill="#f6bda2"/>
<circle cx="337.5" cy="171.9" r="3.45" fill="none" stroke="#383838" stroke-width="1.25" stroke-opacity="0.85"/>
<circle cx="340.7" cy="169.2" r="3.45" fill="#f4c6af"/>
<circle cx="340.7" cy="169.2" r="3.45" fill="none" stroke="#383838" stroke-width="1.25" stroke-opacity="0.85"/>
<circle cx="350.9" cy="171.9" r="3.45" fill="#dddcdc"/>
<circle cx="350.9" cy="171.9" r="3.45" fill="none" stroke="#383838" stroke-width="1.25" stroke-opacity="0.85"/>
<circle cx="354.8" cy="171.4" r="3.45" fill="#f6a586"/>
<circle cx="354.8" cy="171.4" r="3.45" fill="none" stroke="#383838" stroke-width="1.25" stroke-opacity="0.85"/>
<circle cx="365.3" cy="157.5" r="3.45" fill="#f6a586"/>
<circle cx="365.3" cy="157.5" r="3.45" fill="none" stroke="#383838" stroke-width="1.25" stroke-opacity="0.85"/>
<circle cx="366.6" cy="160.7" r="3.45" fill="#f6a586"/>
<circle cx="366.6" cy="160.7" r="3.45" fill="none" stroke="#383838" stroke-width="1.25" stroke-opacity="0.85"/>
<circle cx="378.1" cy="156.9" r="3.45" fill="#e9d5cb"/>
<circle cx="378.1" cy="156.9" r="3.45" fill="none" stroke="#383838" stroke-width="1.25" stroke-opacity="0.85"/>
<circle cx="377.5" cy="162.1" r="3.45" fill="#f2cbb7"/>
<circle cx="377.5" cy="162.1" r="3.45" fill="none" stroke="#383838" stroke-width="1.25" stroke-opacity="0.85"/>
<circle cx="373.3" cy="159.8" r="3.45" fill="#ccd9ed"/>
<circle cx="373.3" cy="159.8" r="3.45" fill="none" stroke="#383838" stroke-width="1.25" stroke-opacity="0.85"/>
<circle cx="385.6" cy="155.6" r="3.45" fill="#f6a586"/>
<circle cx="385.6" cy="155.6" r="3.45" fill="none" stroke="#383838" stroke-width="1.25" stroke-opacity="0.85"/>
<circle cx="390.4" cy="166.9" r="3.45" fill="#f4987a"/>
<circle cx="390.4" cy="166.9" r="3.45" fill="none" stroke="#383838" stroke-width="1.25" stroke-opacity="0.85"/>
<circle cx="375.9" cy="173.0" r="3.45" fill="#d65244"/>
<circle cx="375.9" cy="173.0" r="3.45" fill="none" stroke="#383838" stroke-width="1.25" stroke-opacity="0.85"/>
<circle cx="365.8" cy="176.5" r="3.45" fill="#a9c6fd"/>
<circle cx="365.8" cy="176.5" r="3.45" fill="none" stroke="#383838" stroke-width="1.25" stroke-opacity="0.85"/>
<circle cx="387.7" cy="174.6" r="3.45" fill="#f4987a"/>
<circle cx="387.7" cy="174.6" r="3.45" fill="none" stroke="#383838" stroke-width="1.25" stroke-opacity="0.85"/>
<circle cx="393.0" cy="179.7" r="3.45" fill="#f4987a"/>
<circle cx="393.0" cy="179.7" r="3.45" fill="none" stroke="#383838" stroke-width="1.25" stroke-opacity="0.85"/>
<circle cx="401.4" cy="179.3" r="3.45" fill="#e9d5cb"/>
<circle cx="401.4" cy="179.3" r="3.45" fill="none" stroke="#383838" stroke-width="1.25" stroke-opacity="0.85"/>
<circle cx="347.3" cy="183.9" r="3.45" fill="#dddcdc"/>
<circle cx="347.3" cy="183.9" r="3.45" fill="none" stroke="#383838" stroke-width="1.25" stroke-opacity="0.85"/>
<circle cx="344.9" cy="190.0" r="3.45" fill="#dddcdc"/>
<circle cx="344.9" cy="190.0" r="3.45" fill="none" stroke="#383838" stroke-width="1.25" stroke-opacity="0.85"/>
<circle cx="368.6" cy="188.0" r="3.45" fill="#bad0f8"/>
<circle cx="368.6" cy="188.0" r="3.45" fill="none" stroke="#383838" stroke-width="1.25" stroke-opacity="0.85"/>
<circle cx="372.8" cy="188.0" r="3.45" fill="#d5dbe5"/>
<circle cx="372.8" cy="188.0" r="3.45" fill="none" stroke="#383838" stroke-width="1.25" stroke-opacity="0.85"/>
<circle cx="380.5" cy="186.2" r="3.45" fill="#bad0f8"/>
<circle cx="380.5" cy="186.2" r="3.45" fill="none" stroke="#383838" stroke-width="1.25" stroke-opacity="0.85"/>
<circle cx="342.3" cy="198.6" r="3.45" fill="#c0d4f5"/>
<circle cx="342.3" cy="198.6" r="3.45" fill="none" stroke="#383838" stroke-width="1.25" stroke-opacity="0.85"/>
<circle cx="345.6" cy="196.6" r="3.45" fill="#f7ac8e"/>
<circle cx="345.6" cy="196.6" r="3.45" fill="none" stroke="#383838" stroke-width="1.25" stroke-opacity="0.85"/>
<circle cx="332.1" cy="201.2" r="3.45" fill="#e9d5cb"/>
<circle cx="332.1" cy="201.2" r="3.45" fill="none" stroke="#383838" stroke-width="1.25" stroke-opacity="0.85"/>
<circle cx="338.0" cy="200.2" r="3.45" fill="#f6a586"/>
<circle cx="338.0" cy="200.2" r="3.45" fill="none" stroke="#383838" stroke-width="1.25" stroke-opacity="0.85"/>
<circle cx="340.1" cy="204.5" r="3.45" fill="#8db0fe"/>
<circle cx="340.1" cy="204.5" r="3.45" fill="none" stroke="#383838" stroke-width="1.25" stroke-opacity="0.85"/>
<circle cx="346.3" cy="203.8" r="3.45" fill="#dddcdc"/>
<circle cx="346.3" cy="203.8" r="3.45" fill="none" stroke="#383838" stroke-width="1.25" stroke-opacity="0.85"/>
<circle cx="353.5" cy="201.7" r="3.45" fill="#bad0f8"/>
<circle cx="353.5" cy="201.7" r="3.45" fill="none" stroke="#383838" stroke-width="1.25" stroke-opacity="0.85"/>
<circle cx="366.3" cy="200.7" r="3.45" fill="#afcafc"/>
<circle cx="366.3" cy="200.7" r="3.45" fill="none" stroke="#383838" stroke-width="1.25" stroke-opacity="0.85"/>
<circle cx="376.0" cy="209.7" r="3.45" fill="#dddcdc"/>
<circle cx="376.0" cy="209.7" r="3.45" fill="none" stroke="#383838" stroke-width="1.25" stroke-opacity="0.85"/>
<circle cx="357.3" cy="211.0" r="3.45" fill="#d7dce3"/>
<circle cx="357.3" cy="211.0" r="3.45" fill="none" stroke="#383838" stroke-width="1.25" stroke-opacity="0.85"/>
<circle cx="360.5" cy="212.6" r="3.45" fill="#afcafc"/>
<circle cx="360.5" cy="212.6" r="3.45" fill="none" stroke="#383838" stroke-width="1.25" stroke-opacity="0.85"/>
<circle cx="368.8" cy="218.5" r="3.45" fill="#c6d6f1"/>
<circle cx="368.8" cy="218.5" r="3.45" fill="none" stroke="#383838" stroke-width="1.25" stroke-opacity="0.85"/>
<circle cx="315.5" cy="212.0" r="3.45" fill="#f6a586"/>
<circle cx="315.5" cy="212.0" r="3.45" fill="none" stroke="#383838" stroke-width="1.25" stroke-opacity="0.85"/>
<circle cx="315.0" cy="219.3" r="3.45" fill="#ebd3c6"/>
<circle cx="315.0" cy="219.3" r="3.45" fill="none" stroke="#383838" stroke-width="1.25" stroke-opacity="0.85"/>
<circle cx="293.7" cy="230.6" r="3.45" fill="#efcfbf"/>
<circle cx="293.7" cy="230.6" r="3.45" fill="none" stroke="#383838" stroke-width="1.25" stroke-opacity="0.85"/>
<circle cx="323.4" cy="213.0" r="3.45" fill="#bad0f8"/>
<circle cx="323.4" cy="213.0" r="3.45" fill="none" stroke="#383838" stroke-width="1.25" stroke-opacity="0.85"/>
<circle cx="325.5" cy="220.6" r="3.45" fill="#9ebeff"/>
<circle cx="325.5" cy="220.6" r="3.45" fill="none" stroke="#383838" stroke-width="1.25" stroke-opacity="0.85"/>
<circle cx="326.2" cy="217.1" r="3.45" fill="#b3cdfb"/>
<circle cx="326.2" cy="217.1" r="3.45" fill="none" stroke="#383838" stroke-width="1.25" stroke-opacity="0.85"/>
<circle cx="330.0" cy="212.2" r="3.45" fill="#afcafc"/>
<circle cx="330.0" cy="212.2" r="3.45" fill="none" stroke="#383838" stroke-width="1.25" stroke-opacity="0.85"/>
<circle cx="334.7" cy="220.3" r="3.45" fill="#9ebeff"/>
<circle cx="334.7" cy="220.3" r="3.45" fill="none" stroke="#383838" stroke-width="1.25" stroke-opacity="0.85"/>
<circle cx="332.5" cy="223.8" r="3.45" fill="#d5dbe5"/>
<circle cx="332.5" cy="223.8" r="3.45" fill="none" stroke="#383838" stroke-width="1.25" stroke-opacity="0.85"/>
<circle cx="340.5" cy="214.9" r="3.45" fill="#d5dbe5"/>
<circle cx="340.5" cy="214.9" r="3.45" fill="none" stroke="#383838" stroke-width="1.25" stroke-opacity="0.85"/>
<circle cx="346.6" cy="212.4" r="3.45" fill="#dddcdc"/>
<circle cx="346.6" cy="212.4" r="3.45" fill="none" stroke="#383838" stroke-width="1.25" stroke-opacity="0.85"/>
<circle cx="346.1" cy="213.8" r="3.45" fill="#edd2c3"/>
<circle cx="346.1" cy="213.8" r="3.45" fill="none" stroke="#383838" stroke-width="1.25" stroke-opacity="0.85"/>
<circle cx="344.8" cy="224.3" r="3.45" fill="#9ebeff"/>
<circle cx="344.8" cy="224.3" r="3.45" fill="none" stroke="#383838" stroke-width="1.25" stroke-opacity="0.85"/>
<circle cx="340.5" cy="224.8" r="3.45" fill="#d5dbe5"/>
<circle cx="340.5" cy="224.8" r="3.45" fill="none" stroke="#383838" stroke-width="1.25" stroke-opacity="0.85"/>
<circle cx="350.1" cy="216.8" r="3.45" fill="#d7dce3"/>
<circle cx="350.1" cy="216.8" r="3.45" fill="none" stroke="#383838" stroke-width="1.25" stroke-opacity="0.85"/>
<circle cx="348.4" cy="223.1" r="3.45" fill="#d7dce3"/>
<circle cx="348.4" cy="223.1" r="3.45" fill="none" stroke="#383838" stroke-width="1.25" stroke-opacity="0.85"/>
<circle cx="354.9" cy="222.1" r="3.45" fill="#bad0f8"/>
<circle cx="354.9" cy="222.1" r="3.45" fill="none" stroke="#383838" stroke-width="1.25" stroke-opacity="0.85"/>
<circle cx="360.6" cy="214.7" r="3.45" fill="#bad0f8"/>
<circle cx="360.6" cy="214.7" r="3.45" fill="none" stroke="#383838" stroke-width="1.25" stroke-opacity="0.85"/>
<circle cx="366.7" cy="219.0" r="3.45" fill="#bad0f8"/>
<circle cx="366.7" cy="219.0" r="3.45" fill="none" stroke="#383838" stroke-width="1.25" stroke-opacity="0.85"/>
<circle cx="354.9" cy="228.7" r="3.45" fill="#9ebeff"/>
<circle cx="354.9" cy="228.7" r="3.45" fill="none" stroke="#383838" stroke-width="1.25" stroke-opacity="0.85"/>
<circle cx="361.4" cy="228.0" r="3.45" fill="#afcafc"/>
<circle cx="361.4" cy="228.0" r="3.45" fill="none" stroke="#383838" stroke-width="1.25" stroke-opacity="0.85"/>
<circle cx="365.1" cy="232.3" r="3.45" fill="#d5dbe5"/>
<circle cx="365.1" cy="232.3" r="3.45" fill="none" stroke="#383838" stroke-width="1.25" stroke-opacity="0.85"/>
<circle cx="366.5" cy="235.0" r="3.45" fill="#d5dbe5"/>
<circle cx="366.5" cy="235.0" r="3.45" fill="none" stroke="#383838" stroke-width="1.25" stroke-opacity="0.85"/>
<circle cx="353.5" cy="232.9" r="3.45" fill="#f2cbb7"/>
<circle cx="353.5" cy="232.9" r="3.45" fill="none" stroke="#383838" stroke-width="1.25" stroke-opacity="0.85"/>
<circle cx="354.0" cy="236.6" r="3.45" fill="#c0d4f5"/>
<circle cx="354.0" cy="236.6" r="3.45" fill="none" stroke="#383838" stroke-width="1.25" stroke-opacity="0.85"/>
<circle cx="336.7" cy="232.9" r="3.45" fill="#bad0f8"/>
<circle cx="336.7" cy="232.9" r="3.45" fill="none" stroke="#383838" stroke-width="1.25" stroke-opacity="0.85"/>
<circle cx="344.6" cy="232.3" r="3.45" fill="#afcafc"/>
<circle cx="344.6" cy="232.3" r="3.45" fill="none" stroke="#383838" stroke-width="1.25" stroke-opacity="0.85"/>
<circle cx="336.3" cy="237.0" r="3.45" fill="#82a6fb"/>
<circle cx="336.3" cy="237.0" r="3.45" fill="none" stroke="#383838" stroke-width="1.25" stroke-opacity="0.85"/>
<circle cx="343.7" cy="235.1" r="3.45" fill="#f5c2aa"/>
<circle cx="343.7" cy="235.1" r="3.45" fill="none" stroke="#383838" stroke-width="1.25" stroke-opacity="0.85"/>
<circle cx="317.4" cy="235.6" r="3.45" fill="#c0d4f5"/>
<circle cx="317.4" cy="235.6" r="3.45" fill="none" stroke="#383838" stroke-width="1.25" stroke-opacity="0.85"/>
<circle cx="320.5" cy="240.0" r="3.45" fill="#bad0f8"/>
<circle cx="320.5" cy="240.0" r="3.45" fill="none" stroke="#383838" stroke-width="1.25" stroke-opacity="0.85"/>
<circle cx="322.0" cy="236.9" r="3.45" fill="#8db0fe"/>
<circle cx="322.0" cy="236.9" r="3.45" fill="none" stroke="#383838" stroke-width="1.25" stroke-opacity="0.85"/>
<circle cx="331.5" cy="241.0" r="3.45" fill="#afcafc"/>
<circle cx="331.5" cy="241.0" r="3.45" fill="none" stroke="#383838" stroke-width="1.25" stroke-opacity="0.85"/>
<circle cx="334.4" cy="245.8" r="3.45" fill="#9ebeff"/>
<circle cx="334.4" cy="245.8" r="3.45" fill="none" stroke="#383838" stroke-width="1.25" stroke-opacity="0.85"/>
<circle cx="344.6" cy="245.8" r="3.45" fill="#bad0f8"/>
<circle cx="344.6" cy="245.8" r="3.45" fill="none" stroke="#383838" stroke-width="1.25" stroke-opacity="0.85"/>
<circle cx="332.3" cy="250.4" r="3.45" fill="#afcafc"/>
<circle cx="332.3" cy="250.4" r="3.45" fill="none" stroke="#383838" stroke-width="1.25" stroke-opacity="0.85"/>
<circle cx="341.8" cy="251.8" r="3.45" fill="#afcafc"/>
<circle cx="341.8" cy="251.8" r="3.45" fill="none" stroke="#383838" stroke-width="1.25" stroke-opacity="0.85"/>
<circle cx="354.4" cy="253.2" r="3.45" fill="#97b8ff"/>
<circle cx="354.4" cy="253.2" r="3.45" fill="none" stroke="#383838" stroke-width="1.25" stroke-opacity="0.85"/>
<circle cx="350.7" cy="252.5" r="3.45" fill="#7597f6"/>
<circle cx="350.7" cy="252.5" r="3.45" fill="none" stroke="#383838" stroke-width="1.25" stroke-opacity="0.85"/>
<circle cx="359.8" cy="267.7" r="3.45" fill="#82a6fb"/>
<circle cx="359.8" cy="267.7" r="3.45" fill="none" stroke="#383838" stroke-width="1.25" stroke-opacity="0.85"/>
</g>
<rect x="421.10" y="0.40" width="9.50" height="278.60" fill="url(#cbg)"/>
<rect x="35.00" y="0.40" width="235.50" height="130.00" fill="none" stroke="#000" stroke-width="0.90"/>
<rect x="35.00" y="142.60" width="235.50" height="136.40" fill="none" stroke="#000" stroke-width="0.90"/>
<rect x="283.00" y="142.60" width="129.00" height="136.40" fill="none" stroke="#000" stroke-width="0.90"/>
<rect x="421.10" y="0.40" width="9.50" height="278.60" fill="none" stroke="#000" stroke-width="0.90"/>
<line x1="56.66" y1="130.40" x2="56.66" y2="133.60" stroke="#000" stroke-width="0.9"/>
<line x1="56.66" y1="279.00" x2="56.66" y2="282.20" stroke="#000" stroke-width="0.9"/>
<text x="56.66" y="292.70" text-anchor="middle">−6</text>
<line x1="91.09" y1="130.40" x2="91.09" y2="133.60" stroke="#000" stroke-width="0.9"/>
<line x1="91.09" y1="279.00" x2="91.09" y2="282.20" stroke="#000" stroke-width="0.9"/>
<text x="91.09" y="292.70" text-anchor="middle">−4</text>
<line x1="125.53" y1="130.40" x2="125.53" y2="133.60" stroke="#000" stroke-width="0.9"/>
<line x1="125.53" y1="279.00" x2="125.53" y2="282.20" stroke="#000" stroke-width="0.9"/>
<text x="125.53" y="292.70" text-anchor="middle">−2</text>
<line x1="159.96" y1="130.40" x2="159.96" y2="133.60" stroke="#000" stroke-width="0.9"/>
<line x1="159.96" y1="279.00" x2="159.96" y2="282.20" stroke="#000" stroke-width="0.9"/>
<text x="159.96" y="292.70" text-anchor="middle">0</text>
<line x1="194.39" y1="130.40" x2="194.39" y2="133.60" stroke="#000" stroke-width="0.9"/>
<line x1="194.39" y1="279.00" x2="194.39" y2="282.20" stroke="#000" stroke-width="0.9"/>
<text x="194.39" y="292.70" text-anchor="middle">2</text>
<line x1="228.83" y1="130.40" x2="228.83" y2="133.60" stroke="#000" stroke-width="0.9"/>
<line x1="228.83" y1="279.00" x2="228.83" y2="282.20" stroke="#000" stroke-width="0.9"/>
<text x="228.83" y="292.70" text-anchor="middle">4</text>
<line x1="263.26" y1="130.40" x2="263.26" y2="133.60" stroke="#000" stroke-width="0.9"/>
<line x1="263.26" y1="279.00" x2="263.26" y2="282.20" stroke="#000" stroke-width="0.9"/>
<text x="263.26" y="292.70" text-anchor="middle">6</text>
<line x1="31.80" y1="107.29" x2="35.00" y2="107.29" stroke="#000" stroke-width="0.9"/>
<text x="28.70" y="110.59" text-anchor="end">−2</text>
<line x1="305.67" y1="279.00" x2="305.67" y2="282.20" stroke="#000" stroke-width="0.9"/>
<text x="305.67" y="292.70" text-anchor="middle">−2</text>
<line x1="31.80" y1="72.75" x2="35.00" y2="72.75" stroke="#000" stroke-width="0.9"/>
<text x="28.70" y="76.05" text-anchor="end">0</text>
<line x1="340.10" y1="279.00" x2="340.10" y2="282.20" stroke="#000" stroke-width="0.9"/>
<text x="340.10" y="292.70" text-anchor="middle">0</text>
<line x1="31.80" y1="38.21" x2="35.00" y2="38.21" stroke="#000" stroke-width="0.9"/>
<text x="28.70" y="41.51" text-anchor="end">2</text>
<line x1="374.53" y1="279.00" x2="374.53" y2="282.20" stroke="#000" stroke-width="0.9"/>
<text x="374.53" y="292.70" text-anchor="middle">2</text>
<line x1="31.80" y1="3.67" x2="35.00" y2="3.67" stroke="#000" stroke-width="0.9"/>
<text x="28.70" y="6.97" text-anchor="end">4</text>
<line x1="408.97" y1="279.00" x2="408.97" y2="282.20" stroke="#000" stroke-width="0.9"/>
<text x="408.97" y="292.70" text-anchor="middle">4</text>
<line x1="31.80" y1="271.55" x2="35.00" y2="271.55" stroke="#000" stroke-width="0.9"/>
<text x="28.70" y="274.85" text-anchor="end">−4</text>
<line x1="279.80" y1="271.55" x2="283.00" y2="271.55" stroke="#000" stroke-width="0.9"/>
<line x1="31.80" y1="237.15" x2="35.00" y2="237.15" stroke="#000" stroke-width="0.9"/>
<text x="28.70" y="240.45" text-anchor="end">−2</text>
<line x1="279.80" y1="237.15" x2="283.00" y2="237.15" stroke="#000" stroke-width="0.9"/>
<line x1="31.80" y1="202.75" x2="35.00" y2="202.75" stroke="#000" stroke-width="0.9"/>
<text x="28.70" y="206.05" text-anchor="end">0</text>
<line x1="279.80" y1="202.75" x2="283.00" y2="202.75" stroke="#000" stroke-width="0.9"/>
<line x1="31.80" y1="168.35" x2="35.00" y2="168.35" stroke="#000" stroke-width="0.9"/>
<text x="28.70" y="171.65" text-anchor="end">2</text>
<line x1="279.80" y1="168.35" x2="283.00" y2="168.35" stroke="#000" stroke-width="0.9"/>
<line x1="430.60" y1="28.96" x2="433.80" y2="28.96" stroke="#000" stroke-width="0.9"/>
<text x="437.10" y="32.26">−0.4</text>
<line x1="430.60" y1="84.51" x2="433.80" y2="84.51" stroke="#000" stroke-width="0.9"/>
<text x="437.10" y="87.81">−0.2</text>
<line x1="430.60" y1="140.06" x2="433.80" y2="140.06" stroke="#000" stroke-width="0.9"/>
<text x="437.10" y="143.36">0.0</text>
<line x1="430.60" y1="195.61" x2="433.80" y2="195.61" stroke="#000" stroke-width="0.9"/>
<text x="437.10" y="198.91">0.2</text>
<line x1="430.60" y1="251.16" x2="433.80" y2="251.16" stroke="#000" stroke-width="0.9"/>
<text x="437.10" y="254.46">0.4</text>
<text x="152.60" y="306.00" text-anchor="middle" font-style="italic">ξ<tspan font-size="6.65" dy="2.00" font-style="normal">1</tspan></text>
<text x="347.50" y="306.00" text-anchor="middle" font-style="italic">ξ<tspan font-size="6.65" dy="2.00" font-style="normal">3</tspan></text>
<text transform="translate(6.70 66.00) rotate(-90)" text-anchor="middle" font-style="italic">ξ<tspan font-size="6.65" dy="2.00" font-style="normal">3</tspan></text>
<text transform="translate(6.70 211.80) rotate(-90)" text-anchor="middle" font-style="italic">ξ<tspan font-size="6.65" dy="2.00" font-style="normal">2</tspan></text>
<text transform="translate(470.20 139.00) rotate(-90)" text-anchor="middle">Magnitude residuals</text></svg>
</body></html>
